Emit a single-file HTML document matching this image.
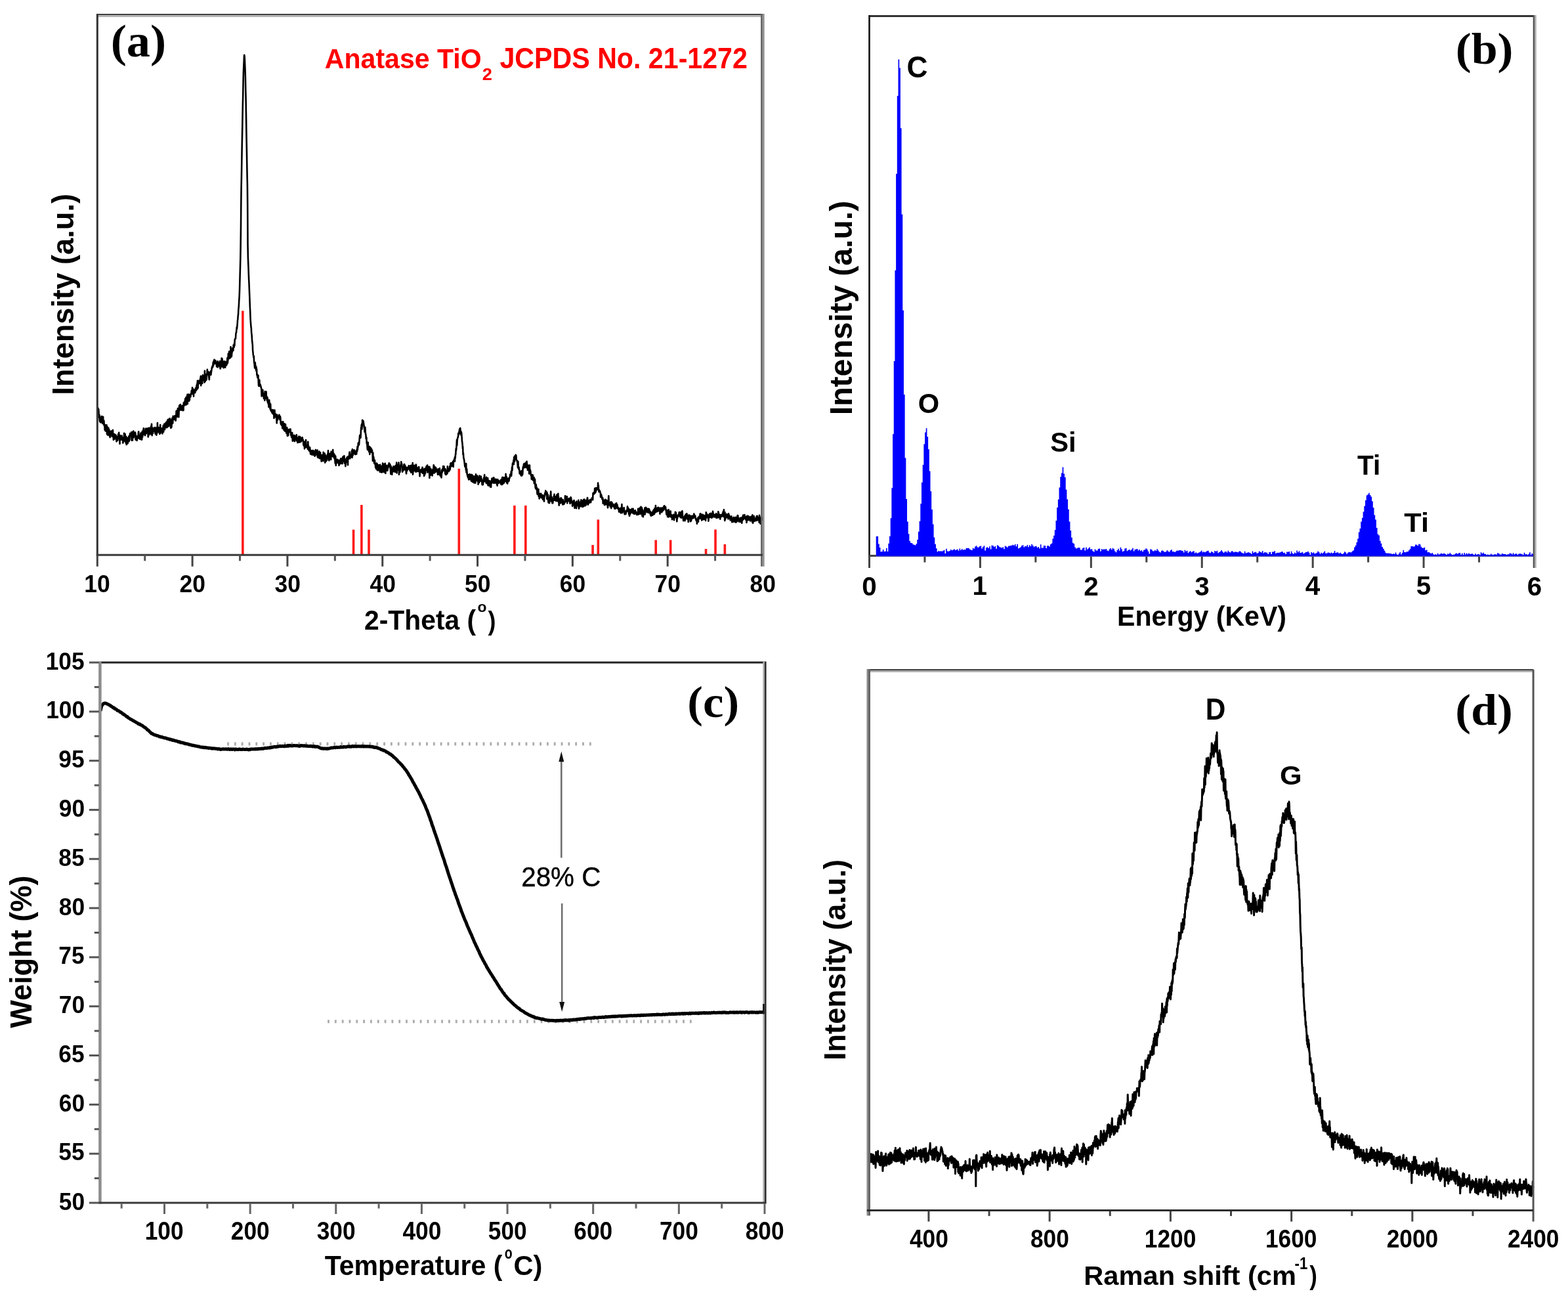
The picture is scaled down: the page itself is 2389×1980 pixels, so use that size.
<!DOCTYPE html>
<html><head><meta charset="utf-8"><title>Figure</title>
<style>html,body{margin:0;padding:0;background:#fff;}svg{display:block;}</style></head>
<body>
<svg width="2389" height="1980" viewBox="0 0 2389 1980">
<rect width="2389" height="1980" fill="#fff"/>
<rect x="368.07" y="473.40" width="3.6" height="371.90" fill="#ff1a1a"/>
<rect x="536.77" y="806.70" width="3.6" height="38.60" fill="#ff1a1a"/>
<rect x="549.08" y="769.00" width="3.6" height="76.30" fill="#ff1a1a"/>
<rect x="560.23" y="806.70" width="3.6" height="38.60" fill="#ff1a1a"/>
<rect x="697.52" y="713.80" width="3.6" height="131.50" fill="#ff1a1a"/>
<rect x="782.09" y="770.00" width="3.6" height="75.30" fill="#ff1a1a"/>
<rect x="799.03" y="770.00" width="3.6" height="75.30" fill="#ff1a1a"/>
<rect x="901.27" y="830.00" width="3.6" height="15.30" fill="#ff1a1a"/>
<rect x="909.53" y="791.40" width="3.6" height="53.90" fill="#ff1a1a"/>
<rect x="997.43" y="822.50" width="3.6" height="22.80" fill="#ff1a1a"/>
<rect x="1019.87" y="822.50" width="3.6" height="22.80" fill="#ff1a1a"/>
<rect x="1073.75" y="836.00" width="3.6" height="9.30" fill="#ff1a1a"/>
<rect x="1088.23" y="806.50" width="3.6" height="38.80" fill="#ff1a1a"/>
<rect x="1102.56" y="829.00" width="3.6" height="16.30" fill="#ff1a1a"/>
<polyline points="148.5,622.7 148.8,624.7 149.2,623.6 149.5,621.9 149.8,624.8 150.2,623.4 150.5,628.8 150.8,635.7 151.1,631.8 151.5,631.9 151.8,640.1 152.1,641.6 152.5,642.6 152.8,639.3 153.1,640.9 153.5,643.5 153.8,636.5 154.1,640.5 154.4,634.6 154.8,636.5 155.1,634.0 155.4,641.0 155.8,636.0 156.1,644.9 156.4,644.9 156.8,644.5 157.1,634.7 157.4,643.0 157.7,644.7 158.1,646.6 158.4,640.7 158.7,648.1 159.1,647.5 159.4,648.9 159.7,655.0 160.1,647.1 160.4,652.6 160.7,656.4 161.0,650.7 161.4,652.2 161.7,652.7 162.0,652.1 162.4,647.3 162.7,653.2 163.0,661.4 163.4,649.7 163.7,658.3 164.0,654.7 164.3,651.9 164.7,663.0 165.0,659.1 165.3,651.9 165.7,657.8 166.0,658.0 166.3,654.3 166.7,659.5 167.0,658.3 167.3,664.0 167.6,666.1 168.0,657.5 168.3,662.0 168.6,659.5 169.0,661.2 169.3,656.5 169.6,658.1 170.0,659.8 170.3,662.2 170.6,664.8 170.9,656.4 171.3,658.2 171.6,664.3 171.9,655.1 172.3,662.5 172.6,664.8 172.9,670.0 173.3,668.4 173.6,663.5 173.9,661.6 174.2,661.1 174.6,668.7 174.9,661.9 175.2,663.3 175.6,665.3 175.9,664.3 176.2,664.8 176.6,662.5 176.9,667.5 177.2,666.6 177.5,672.5 177.9,669.5 178.2,666.1 178.5,669.7 178.9,664.8 179.2,670.8 179.5,665.8 179.9,668.5 180.2,661.3 180.5,667.1 180.8,660.4 181.2,658.8 181.5,666.1 181.8,664.7 182.2,667.8 182.5,676.0 182.8,663.1 183.2,664.1 183.5,667.3 183.8,668.8 184.1,666.2 184.5,666.1 184.8,669.8 185.1,669.3 185.5,663.6 185.8,668.7 186.1,669.7 186.5,666.9 186.8,670.7 187.1,666.7 187.4,674.7 187.8,671.0 188.1,669.7 188.4,666.3 188.8,666.8 189.1,659.8 189.4,662.5 189.8,669.2 190.1,660.6 190.4,672.1 190.7,661.3 191.1,672.2 191.4,667.0 191.7,674.8 192.1,671.7 192.4,665.1 192.7,677.1 193.1,676.8 193.4,669.2 193.7,670.1 194.0,670.4 194.4,667.1 194.7,675.2 195.0,669.8 195.4,672.1 195.7,667.9 196.0,667.3 196.4,664.2 196.7,672.3 197.0,666.1 197.3,670.3 197.7,664.6 198.0,660.4 198.3,662.0 198.7,661.2 199.0,663.4 199.3,663.2 199.7,663.7 200.0,658.4 200.3,659.5 200.6,670.8 201.0,662.4 201.3,661.3 201.6,666.7 202.0,670.7 202.3,657.9 202.6,662.5 203.0,661.7 203.3,656.6 203.6,666.5 203.9,663.2 204.3,662.4 204.6,659.3 204.9,664.2 205.3,659.6 205.6,661.3 205.9,658.5 206.3,660.3 206.6,669.8 206.9,662.9 207.2,665.8 207.6,665.4 207.9,664.8 208.2,665.3 208.6,670.9 208.9,665.6 209.2,664.5 209.6,664.2 209.9,667.9 210.2,666.1 210.5,663.6 210.9,659.0 211.2,657.2 211.5,665.3 211.9,665.4 212.2,662.7 212.5,667.7 212.9,668.6 213.2,667.3 213.5,667.2 213.8,662.5 214.2,669.0 214.5,659.6 214.8,667.3 215.2,665.3 215.5,665.1 215.8,669.8 216.2,669.5 216.5,660.4 216.8,657.1 217.1,665.7 217.5,656.2 217.8,660.7 218.1,662.6 218.5,654.2 218.8,652.3 219.1,661.8 219.5,659.2 219.8,658.4 220.1,660.0 220.4,658.5 220.8,656.6 221.1,663.1 221.4,658.5 221.8,652.9 222.1,660.5 222.4,658.1 222.8,660.2 223.1,655.3 223.4,654.6 223.7,652.6 224.1,653.8 224.4,657.5 224.7,654.4 225.1,659.3 225.4,659.5 225.7,665.4 226.1,652.1 226.4,663.1 226.7,658.0 227.0,656.8 227.4,651.9 227.7,656.3 228.0,661.0 228.4,657.9 228.7,659.7 229.0,657.2 229.4,661.3 229.7,658.0 230.0,649.3 230.3,655.0 230.7,650.7 231.0,645.7 231.3,656.8 231.7,663.2 232.0,657.5 232.3,651.9 232.7,651.9 233.0,660.0 233.3,655.6 233.6,653.3 234.0,653.0 234.3,653.5 234.6,655.0 235.0,656.1 235.3,655.3 235.6,651.0 236.0,657.8 236.3,653.5 236.6,660.8 236.9,652.9 237.3,656.0 237.6,657.7 237.9,651.6 238.3,662.7 238.6,661.5 238.9,653.2 239.3,659.9 239.6,657.9 239.9,644.0 240.2,656.7 240.6,655.5 240.9,654.2 241.2,650.7 241.6,653.9 241.9,654.2 242.2,658.4 242.6,656.5 242.9,655.3 243.2,661.0 243.5,651.6 243.9,653.0 244.2,647.0 244.5,659.9 244.9,657.1 245.2,655.1 245.5,654.4 245.9,653.5 246.2,653.2 246.5,652.4 246.8,652.4 247.2,654.1 247.5,660.5 247.8,656.5 248.2,654.4 248.5,651.0 248.8,648.0 249.2,657.7 249.5,652.2 249.8,650.9 250.1,648.2 250.5,645.5 250.8,649.4 251.1,654.1 251.5,648.0 251.8,649.8 252.1,648.9 252.5,650.8 252.8,643.5 253.1,649.4 253.4,644.1 253.8,651.2 254.1,642.3 254.4,649.2 254.8,650.7 255.1,642.5 255.4,639.6 255.8,643.9 256.1,641.1 256.4,638.7 256.7,643.5 257.1,649.3 257.4,638.7 257.7,640.9 258.1,638.0 258.4,645.4 258.7,637.2 259.1,638.6 259.4,647.5 259.7,639.3 260.0,649.9 260.4,652.0 260.7,646.4 261.0,646.9 261.4,650.7 261.7,643.4 262.0,640.6 262.4,636.8 262.7,641.6 263.0,645.0 263.3,643.9 263.7,633.9 264.0,634.6 264.3,636.8 264.7,637.4 265.0,635.3 265.3,637.6 265.7,638.9 266.0,635.7 266.3,633.3 266.6,636.5 267.0,635.9 267.3,636.8 267.6,640.8 268.0,636.9 268.3,633.8 268.6,626.0 269.0,634.3 269.3,625.6 269.6,626.0 269.9,634.3 270.3,634.6 270.6,630.8 270.9,622.1 271.3,628.5 271.6,625.5 271.9,629.0 272.3,635.2 272.6,626.9 272.9,621.1 273.2,617.5 273.6,622.8 273.9,622.2 274.2,616.7 274.6,620.8 274.9,616.1 275.2,624.4 275.6,624.8 275.9,624.8 276.2,618.5 276.5,622.6 276.9,620.3 277.2,619.5 277.5,620.3 277.9,617.8 278.2,618.0 278.5,625.3 278.9,620.3 279.2,622.3 279.5,625.0 279.8,613.5 280.2,614.7 280.5,616.1 280.8,615.4 281.2,611.5 281.5,617.3 281.8,613.0 282.2,607.2 282.5,607.1 282.8,613.9 283.1,613.7 283.5,605.0 283.8,616.5 284.1,610.9 284.5,612.0 284.8,604.5 285.1,604.0 285.5,600.9 285.8,615.2 286.1,604.2 286.4,610.9 286.8,602.6 287.1,606.7 287.4,600.5 287.8,606.8 288.1,610.6 288.4,601.5 288.8,609.5 289.1,605.7 289.4,601.2 289.7,604.1 290.1,603.9 290.4,604.3 290.7,600.0 291.1,599.2 291.4,600.5 291.7,595.5 292.1,594.6 292.4,598.8 292.7,600.0 293.0,590.3 293.4,595.3 293.7,594.8 294.0,592.0 294.4,598.8 294.7,596.4 295.0,603.6 295.4,594.3 295.7,598.8 296.0,595.4 296.3,593.7 296.7,598.1 297.0,595.2 297.3,598.2 297.7,594.6 298.0,591.0 298.3,592.6 298.7,592.1 299.0,594.7 299.3,587.9 299.6,590.9 300.0,585.3 300.3,592.9 300.6,583.8 301.0,579.7 301.3,587.3 301.6,591.3 302.0,582.1 302.3,582.9 302.6,583.4 302.9,580.0 303.3,584.3 303.6,579.9 303.9,579.8 304.3,584.0 304.6,578.7 304.9,582.1 305.3,576.3 305.6,574.7 305.9,572.7 306.2,587.3 306.6,578.2 306.9,579.9 307.2,577.8 307.6,577.4 307.9,576.9 308.2,583.9 308.6,572.5 308.9,571.2 309.2,573.5 309.5,572.2 309.9,578.5 310.2,578.8 310.5,573.8 310.9,572.4 311.2,575.6 311.5,582.4 311.9,564.9 312.2,577.3 312.5,571.3 312.8,580.7 313.2,573.2 313.5,575.2 313.8,570.2 314.2,570.7 314.5,578.7 314.8,575.5 315.2,571.6 315.5,567.8 315.8,562.9 316.1,569.9 316.5,570.4 316.8,568.9 317.1,569.1 317.5,566.2 317.8,570.5 318.1,570.0 318.5,576.4 318.8,578.2 319.1,570.8 319.4,568.4 319.8,571.1 320.1,568.3 320.4,566.6 320.8,569.2 321.1,565.1 321.4,570.9 321.8,566.9 322.1,565.6 322.4,563.2 322.7,560.8 323.1,558.7 323.4,560.1 323.7,557.5 324.1,559.3 324.4,556.7 324.7,552.2 325.1,556.8 325.4,550.4 325.7,552.4 326.0,553.7 326.4,547.8 326.7,554.2 327.0,553.9 327.4,552.2 327.7,550.6 328.0,551.1 328.4,549.1 328.7,552.2 329.0,551.0 329.3,554.0 329.7,551.7 330.0,558.2 330.3,557.9 330.7,556.2 331.0,555.2 331.3,559.1 331.7,550.4 332.0,559.2 332.3,555.8 332.6,555.8 333.0,555.2 333.3,552.6 333.6,554.4 334.0,557.2 334.3,556.0 334.6,556.0 335.0,550.1 335.3,559.4 335.6,561.5 335.9,561.3 336.3,555.9 336.6,550.3 336.9,558.9 337.3,555.4 337.6,545.5 337.9,554.3 338.3,546.1 338.6,546.8 338.9,549.8 339.2,558.4 339.6,550.8 339.9,554.5 340.2,559.1 340.6,560.2 340.9,554.9 341.2,553.9 341.6,550.2 341.9,552.4 342.2,555.7 342.5,557.3 342.9,554.7 343.2,559.6 343.5,550.8 343.9,551.9 344.2,555.6 344.5,554.7 344.9,556.5 345.2,556.1 345.5,552.4 345.8,554.5 346.2,547.5 346.5,544.8 346.8,553.1 347.2,549.7 347.5,547.9 347.8,538.5 348.2,541.5 348.5,541.6 348.8,540.8 349.1,535.2 349.5,542.4 349.8,546.0 350.1,543.3 350.5,539.6 350.8,542.1 351.1,544.8 351.5,528.3 351.8,536.7 352.1,539.4 352.4,539.1 352.8,543.2 353.1,539.9 353.4,536.9 353.8,534.8 354.1,535.7 354.4,530.0 354.8,529.9 355.1,532.3 355.4,533.7 355.7,525.5 356.1,525.3 356.4,525.7 356.7,528.8 357.1,522.6 357.4,526.2 357.7,517.4 358.1,516.7 358.4,515.6 358.7,516.3 359.0,515.3 359.4,507.9 359.7,506.5 360.0,506.6 360.4,502.3 360.7,498.6 361.0,500.8 361.4,496.3 361.7,493.2 362.0,487.9 362.3,486.2 362.7,480.7 363.0,478.7 363.3,472.0 363.7,467.8 364.0,463.4 364.3,456.8 364.7,451.1 365.0,442.9 365.3,432.2 365.6,420.4 366.0,406.1 366.3,394.8 366.6,377.0 367.0,346.0 367.3,311.6 367.6,287.1 368.0,266.7 368.3,246.9 368.6,228.8 368.9,212.1 369.3,192.3 369.6,174.1 369.9,158.7 370.3,141.7 370.6,124.3 370.9,110.9 371.3,101.4 371.6,94.5 371.9,86.4 372.2,83.8 372.6,85.4 372.9,90.8 373.2,98.6 373.6,108.7 373.9,118.8 374.2,134.5 374.6,150.7 374.9,169.8 375.2,188.0 375.5,207.6 375.9,228.1 376.2,245.8 376.5,263.0 376.9,280.9 377.2,312.0 377.5,372.3 377.9,392.9 378.2,400.7 378.5,407.1 378.8,416.8 379.2,426.4 379.5,432.2 379.8,440.0 380.2,449.5 380.5,457.8 380.8,466.8 381.2,474.2 381.5,483.7 381.8,489.3 382.1,493.1 382.5,498.3 382.8,499.1 383.1,506.7 383.5,509.1 383.8,513.9 384.1,519.2 384.5,522.5 384.8,524.9 385.1,533.4 385.4,535.9 385.8,540.4 386.1,541.8 386.4,544.5 386.8,542.2 387.1,552.3 387.4,552.4 387.8,556.7 388.1,560.4 388.4,555.2 388.7,552.1 389.1,556.3 389.4,557.0 389.7,561.3 390.1,563.9 390.4,558.9 390.7,565.8 391.1,562.3 391.4,571.1 391.7,570.0 392.0,572.2 392.4,575.3 392.7,574.9 393.0,574.3 393.4,571.6 393.7,580.1 394.0,587.0 394.4,588.0 394.7,586.5 395.0,583.1 395.3,578.7 395.7,588.0 396.0,585.7 396.3,585.9 396.7,585.7 397.0,588.3 397.3,587.8 397.7,590.3 398.0,590.1 398.3,593.3 398.6,603.4 399.0,594.8 399.3,595.5 399.6,597.4 400.0,598.3 400.3,593.8 400.6,599.2 401.0,603.1 401.3,601.8 401.6,601.3 401.9,606.9 402.3,599.5 402.6,604.5 402.9,602.4 403.3,609.9 403.6,596.2 403.9,599.2 404.3,599.1 404.6,602.7 404.9,602.6 405.2,607.0 405.6,596.6 405.9,606.2 406.2,603.4 406.6,604.4 406.9,610.2 407.2,607.5 407.6,605.6 407.9,613.2 408.2,609.4 408.5,612.2 408.9,615.7 409.2,615.2 409.5,619.9 409.9,614.4 410.2,609.3 410.5,613.1 410.9,614.2 411.2,614.1 411.5,622.6 411.8,619.7 412.2,615.6 412.5,625.5 412.8,623.4 413.2,625.4 413.5,625.7 413.8,627.1 414.2,624.4 414.5,628.7 414.8,628.1 415.1,628.9 415.5,630.2 415.8,624.2 416.1,629.3 416.5,627.8 416.8,630.0 417.1,627.1 417.5,636.9 417.8,631.9 418.1,627.0 418.4,624.6 418.8,631.0 419.1,633.0 419.4,631.9 419.8,634.1 420.1,630.9 420.4,635.6 420.8,632.3 421.1,635.7 421.4,640.0 421.7,644.5 422.1,631.6 422.4,632.7 422.7,633.8 423.1,639.4 423.4,634.2 423.7,634.5 424.1,636.3 424.4,634.2 424.7,634.8 425.0,635.9 425.4,631.8 425.7,632.9 426.0,636.8 426.4,639.4 426.7,638.5 427.0,634.4 427.4,637.9 427.7,644.5 428.0,646.4 428.3,643.9 428.7,642.2 429.0,647.6 429.3,643.2 429.7,643.0 430.0,643.0 430.3,652.4 430.7,646.5 431.0,648.6 431.3,642.3 431.6,649.4 432.0,645.1 432.3,647.0 432.6,655.3 433.0,651.6 433.3,645.4 433.6,648.2 434.0,652.2 434.3,656.8 434.6,649.7 434.9,646.2 435.3,650.9 435.6,652.8 435.9,653.5 436.3,659.7 436.6,656.9 436.9,657.1 437.3,651.4 437.6,658.6 437.9,663.9 438.2,660.7 438.6,659.1 438.9,656.7 439.2,663.1 439.6,654.3 439.9,657.1 440.2,657.7 440.6,658.2 440.9,654.1 441.2,655.7 441.5,653.9 441.9,657.5 442.2,657.4 442.5,653.6 442.9,658.4 443.2,662.9 443.5,658.9 443.9,661.8 444.2,666.0 444.5,659.6 444.8,663.5 445.2,659.0 445.5,666.5 445.8,671.6 446.2,671.5 446.5,663.0 446.8,666.4 447.2,664.9 447.5,665.5 447.8,671.2 448.1,662.7 448.5,670.9 448.8,666.3 449.1,672.1 449.5,667.8 449.8,664.0 450.1,666.2 450.5,669.0 450.8,667.8 451.1,668.8 451.4,666.5 451.8,662.2 452.1,671.4 452.4,671.1 452.8,669.5 453.1,670.5 453.4,674.2 453.8,669.2 454.1,666.8 454.4,669.6 454.7,673.5 455.1,664.7 455.4,673.6 455.7,666.9 456.1,665.3 456.4,673.4 456.7,667.9 457.1,665.0 457.4,667.3 457.7,672.3 458.0,673.1 458.4,667.8 458.7,671.3 459.0,672.2 459.4,667.4 459.7,671.4 460.0,668.7 460.4,666.2 460.7,666.4 461.0,669.9 461.3,670.2 461.7,669.6 462.0,671.6 462.3,677.6 462.7,674.6 463.0,677.6 463.3,679.4 463.7,677.4 464.0,683.4 464.3,672.8 464.6,678.1 465.0,673.5 465.3,681.5 465.6,681.4 466.0,670.1 466.3,674.7 466.6,680.7 467.0,680.5 467.3,680.9 467.6,678.8 467.9,680.9 468.3,681.2 468.6,680.6 468.9,684.0 469.3,672.7 469.6,683.6 469.9,678.2 470.3,685.2 470.6,682.4 470.9,681.4 471.2,686.9 471.6,681.6 471.9,682.5 472.2,681.5 472.6,686.9 472.9,689.6 473.2,691.7 473.6,687.4 473.9,691.4 474.2,688.1 474.5,686.2 474.9,689.5 475.2,692.5 475.5,689.0 475.9,689.7 476.2,689.5 476.5,690.1 476.9,686.0 477.2,692.9 477.5,689.2 477.8,692.2 478.2,687.3 478.5,689.1 478.8,689.9 479.2,687.3 479.5,694.7 479.8,689.5 480.2,693.9 480.5,692.3 480.8,685.1 481.1,686.1 481.5,692.0 481.8,691.1 482.1,692.1 482.5,692.1 482.8,686.6 483.1,692.8 483.5,685.6 483.8,696.3 484.1,693.7 484.4,693.0 484.8,694.7 485.1,697.3 485.4,690.6 485.8,689.7 486.1,691.5 486.4,687.5 486.8,691.3 487.1,698.2 487.4,689.9 487.7,696.7 488.1,689.2 488.4,695.8 488.7,695.0 489.1,696.8 489.4,698.8 489.7,702.7 490.1,698.1 490.4,696.8 490.7,693.1 491.0,698.9 491.4,695.7 491.7,699.1 492.0,695.0 492.4,702.3 492.7,688.7 493.0,694.7 493.4,698.9 493.7,694.2 494.0,691.7 494.3,693.1 494.7,690.5 495.0,696.1 495.3,704.7 495.7,701.2 496.0,693.3 496.3,695.2 496.7,696.3 497.0,702.3 497.3,696.0 497.6,695.8 498.0,701.2 498.3,700.1 498.6,695.5 499.0,692.8 499.3,691.2 499.6,692.5 500.0,686.3 500.3,697.1 500.6,692.6 500.9,696.3 501.3,701.5 501.6,698.9 501.9,691.1 502.3,697.6 502.6,699.7 502.9,693.2 503.3,692.0 503.6,694.3 503.9,690.1 504.2,700.0 504.6,687.8 504.9,690.3 505.2,691.2 505.6,690.7 505.9,691.7 506.2,693.1 506.6,691.3 506.9,695.3 507.2,685.1 507.5,691.5 507.9,689.8 508.2,693.3 508.5,696.3 508.9,691.2 509.2,692.2 509.5,698.5 509.9,697.6 510.2,693.2 510.5,703.1 510.8,705.8 511.2,694.8 511.5,699.0 511.8,709.0 512.2,703.7 512.5,701.8 512.8,701.2 513.2,700.7 513.5,701.1 513.8,699.8 514.1,704.9 514.5,702.4 514.8,702.1 515.1,701.3 515.5,703.9 515.8,700.9 516.1,703.4 516.5,708.9 516.8,706.5 517.1,707.0 517.4,705.5 517.8,704.1 518.1,700.7 518.4,701.3 518.8,704.0 519.1,698.5 519.4,706.1 519.8,701.3 520.1,698.3 520.4,699.7 520.7,699.9 521.1,704.3 521.4,700.6 521.7,706.2 522.1,700.0 522.4,695.7 522.7,701.9 523.1,695.3 523.4,701.0 523.7,702.7 524.0,700.2 524.4,694.4 524.7,697.8 525.0,705.7 525.4,700.6 525.7,699.3 526.0,704.0 526.4,710.2 526.7,707.8 527.0,702.8 527.3,702.4 527.7,703.8 528.0,699.2 528.3,697.4 528.7,700.1 529.0,696.4 529.3,699.8 529.7,700.0 530.0,708.3 530.3,695.4 530.6,696.4 531.0,695.0 531.3,695.7 531.6,698.6 532.0,694.1 532.3,690.6 532.6,688.5 533.0,691.8 533.3,698.3 533.6,697.4 533.9,693.9 534.3,696.3 534.6,695.9 534.9,696.0 535.3,694.0 535.6,693.3 535.9,686.5 536.3,688.3 536.6,696.9 536.9,684.4 537.2,691.8 537.6,693.7 537.9,691.1 538.2,688.1 538.6,691.1 538.9,690.9 539.2,691.0 539.6,685.4 539.9,690.6 540.2,687.1 540.5,689.0 540.9,691.6 541.2,692.2 541.5,691.7 541.9,687.4 542.2,691.8 542.5,690.7 542.9,690.5 543.2,691.6 543.5,685.5 543.8,684.2 544.2,687.5 544.5,680.2 544.8,685.0 545.2,681.2 545.5,680.5 545.8,674.6 546.2,674.4 546.5,675.5 546.8,677.8 547.1,677.0 547.5,670.9 547.8,668.0 548.1,663.4 548.5,665.5 548.8,662.2 549.1,664.2 549.5,666.6 549.8,658.3 550.1,651.4 550.4,651.2 550.8,647.1 551.1,646.2 551.4,653.6 551.8,647.5 552.1,639.7 552.4,645.6 552.8,647.1 553.1,640.9 553.4,640.9 553.7,642.3 554.1,645.1 554.4,647.2 554.7,650.2 555.1,652.5 555.4,654.7 555.7,658.0 556.1,657.3 556.4,650.7 556.7,657.7 557.0,661.3 557.4,661.5 557.7,668.2 558.0,665.9 558.4,666.1 558.7,675.5 559.0,675.3 559.4,677.8 559.7,682.9 560.0,685.1 560.3,682.9 560.7,673.9 561.0,681.2 561.3,682.1 561.7,681.4 562.0,685.7 562.3,688.4 562.7,682.0 563.0,680.0 563.3,692.0 563.6,685.0 564.0,681.2 564.3,686.0 564.6,685.8 565.0,682.3 565.3,688.4 565.6,685.1 566.0,683.7 566.3,687.4 566.6,689.4 566.9,685.7 567.3,689.5 567.6,689.5 567.9,701.9 568.3,689.6 568.6,698.2 568.9,695.7 569.3,696.0 569.6,700.3 569.9,702.4 570.2,705.5 570.6,704.2 570.9,700.9 571.2,703.5 571.6,707.7 571.9,707.9 572.2,711.8 572.6,709.2 572.9,712.8 573.2,714.3 573.5,710.2 573.9,705.5 574.2,705.9 574.5,706.3 574.9,716.2 575.2,707.7 575.5,715.4 575.9,712.0 576.2,716.4 576.5,712.9 576.8,708.4 577.2,708.7 577.5,708.4 577.8,710.2 578.2,709.0 578.5,711.3 578.8,718.7 579.2,707.7 579.5,716.2 579.8,712.7 580.1,716.0 580.5,719.1 580.8,715.9 581.1,718.3 581.5,710.0 581.8,719.4 582.1,713.0 582.5,716.3 582.8,714.3 583.1,705.5 583.4,710.2 583.8,713.9 584.1,718.6 584.4,713.2 584.8,712.5 585.1,707.0 585.4,716.7 585.8,719.2 586.1,713.3 586.4,711.6 586.7,705.7 587.1,714.1 587.4,721.0 587.7,715.2 588.1,717.0 588.4,714.9 588.7,708.9 589.1,716.7 589.4,709.7 589.7,713.8 590.0,714.7 590.4,716.7 590.7,713.5 591.0,713.3 591.4,709.4 591.7,708.1 592.0,711.3 592.4,707.9 592.7,705.4 593.0,707.0 593.3,710.2 593.7,707.0 594.0,708.5 594.3,707.0 594.7,713.5 595.0,715.7 595.3,722.0 595.7,710.0 596.0,712.9 596.3,718.5 596.6,714.1 597.0,714.3 597.3,722.7 597.6,715.1 598.0,712.9 598.3,713.4 598.6,718.4 599.0,717.3 599.3,710.4 599.6,712.1 599.9,718.1 600.3,718.2 600.6,714.9 600.9,718.3 601.3,717.6 601.6,710.2 601.9,714.6 602.3,718.9 602.6,714.6 602.9,708.8 603.2,713.7 603.6,716.0 603.9,717.3 604.2,704.6 604.6,720.4 604.9,707.7 605.2,712.9 605.6,713.7 605.9,712.5 606.2,709.8 606.5,707.8 606.9,715.7 607.2,711.0 607.5,704.5 607.9,722.8 608.2,715.1 608.5,720.0 608.9,711.5 609.2,719.4 609.5,718.0 609.8,717.0 610.2,710.1 610.5,707.7 610.8,710.1 611.2,703.4 611.5,704.3 611.8,710.0 612.2,706.5 612.5,710.0 612.8,710.8 613.1,718.8 613.5,716.3 613.8,713.4 614.1,717.1 614.5,710.9 614.8,712.2 615.1,715.4 615.5,707.5 615.8,710.3 616.1,707.0 616.4,712.6 616.8,715.4 617.1,708.7 617.4,713.1 617.8,710.6 618.1,711.6 618.4,711.4 618.8,719.6 619.1,721.5 619.4,714.9 619.7,713.2 620.1,717.5 620.4,712.5 620.7,715.8 621.1,711.9 621.4,711.6 621.7,714.8 622.1,713.2 622.4,713.2 622.7,709.4 623.0,713.9 623.4,710.2 623.7,712.8 624.0,712.0 624.4,715.5 624.7,717.2 625.0,709.7 625.4,712.0 625.7,709.1 626.0,716.1 626.3,719.6 626.7,718.3 627.0,712.1 627.3,719.1 627.7,708.3 628.0,717.7 628.3,710.5 628.7,705.1 629.0,722.7 629.3,719.5 629.6,712.2 630.0,717.6 630.3,715.3 630.6,715.4 631.0,708.9 631.3,711.0 631.6,715.3 632.0,714.0 632.3,716.7 632.6,712.1 632.9,718.4 633.3,708.6 633.6,712.5 633.9,707.6 634.3,709.9 634.6,718.4 634.9,712.1 635.3,717.3 635.6,715.6 635.9,712.8 636.2,714.0 636.6,713.5 636.9,713.2 637.2,718.0 637.6,716.7 637.9,711.2 638.2,711.1 638.6,715.7 638.9,715.4 639.2,719.4 639.5,725.3 639.9,719.7 640.2,717.2 640.5,717.4 640.9,717.0 641.2,716.3 641.5,715.2 641.9,716.2 642.2,716.8 642.5,719.4 642.8,715.2 643.2,715.7 643.5,711.8 643.8,720.8 644.2,716.3 644.5,719.9 644.8,718.1 645.2,720.0 645.5,715.2 645.8,718.8 646.1,725.0 646.5,713.9 646.8,720.7 647.1,723.3 647.5,718.8 647.8,718.7 648.1,720.8 648.5,713.8 648.8,716.7 649.1,713.1 649.4,710.8 649.8,710.2 650.1,710.4 650.4,713.0 650.8,714.8 651.1,708.6 651.4,719.5 651.8,717.6 652.1,715.4 652.4,713.6 652.7,713.9 653.1,718.1 653.4,717.0 653.7,710.8 654.1,720.1 654.4,728.0 654.7,711.3 655.1,721.7 655.4,719.7 655.7,719.3 656.0,723.6 656.4,714.4 656.7,719.0 657.0,723.2 657.4,717.8 657.7,718.5 658.0,718.7 658.4,716.4 658.7,724.5 659.0,715.9 659.3,721.2 659.7,714.5 660.0,720.7 660.3,717.3 660.7,708.3 661.0,717.3 661.3,713.0 661.7,713.8 662.0,720.4 662.3,711.9 662.6,710.9 663.0,718.2 663.3,714.7 663.6,718.9 664.0,716.0 664.3,712.6 664.6,714.6 665.0,718.3 665.3,718.0 665.6,716.1 665.9,717.6 666.3,716.5 666.6,715.7 666.9,722.8 667.3,717.3 667.6,714.2 667.9,717.8 668.3,722.4 668.6,720.9 668.9,718.0 669.2,715.9 669.6,717.5 669.9,713.4 670.2,716.7 670.6,724.5 670.9,719.8 671.2,721.5 671.6,725.3 671.9,722.0 672.2,720.1 672.5,727.4 672.9,721.0 673.2,715.9 673.5,719.8 673.9,718.3 674.2,714.4 674.5,715.8 674.9,715.2 675.2,710.1 675.5,716.2 675.8,716.9 676.2,715.5 676.5,710.4 676.8,715.3 677.2,715.8 677.5,717.1 677.8,714.9 678.2,721.3 678.5,714.4 678.8,717.1 679.1,722.9 679.5,717.7 679.8,717.0 680.1,722.8 680.5,717.9 680.8,717.9 681.1,718.0 681.5,721.3 681.8,710.3 682.1,715.3 682.4,713.6 682.8,714.0 683.1,714.6 683.4,715.0 683.8,718.1 684.1,713.7 684.4,716.5 684.8,716.4 685.1,710.3 685.4,711.6 685.7,715.5 686.1,710.6 686.4,705.7 686.7,707.1 687.1,705.2 687.4,708.5 687.7,710.2 688.1,705.3 688.4,706.4 688.7,710.0 689.0,705.2 689.4,708.0 689.7,703.7 690.0,703.1 690.4,702.7 690.7,711.0 691.0,701.6 691.4,701.2 691.7,700.9 692.0,699.7 692.3,700.1 692.7,697.4 693.0,702.6 693.3,695.5 693.7,697.8 694.0,691.9 694.3,692.3 694.7,683.5 695.0,686.2 695.3,683.3 695.6,678.6 696.0,669.8 696.3,678.1 696.6,671.4 697.0,668.6 697.3,667.1 697.6,665.8 698.0,665.6 698.3,659.9 698.6,659.9 698.9,662.3 699.3,659.9 699.6,657.0 699.9,655.5 700.3,653.2 700.6,654.6 700.9,658.3 701.3,652.1 701.6,660.2 701.9,659.4 702.2,656.7 702.6,662.9 702.9,658.4 703.2,660.2 703.6,665.7 703.9,671.2 704.2,673.2 704.6,676.7 704.9,682.9 705.2,680.3 705.5,692.3 705.9,689.7 706.2,695.1 706.5,698.3 706.9,698.7 707.2,701.3 707.5,702.9 707.9,706.9 708.2,709.7 708.5,711.0 708.8,707.3 709.2,709.2 709.5,709.8 709.8,715.7 710.2,706.1 710.5,719.5 710.8,713.9 711.2,714.4 711.5,719.4 711.8,723.2 712.1,722.4 712.5,726.0 712.8,723.0 713.1,727.5 713.5,727.7 713.8,724.7 714.1,730.5 714.5,725.4 714.8,724.7 715.1,722.4 715.4,723.4 715.8,727.1 716.1,722.9 716.4,730.1 716.8,728.5 717.1,728.3 717.4,722.9 717.8,730.6 718.1,732.9 718.4,729.7 718.7,732.3 719.1,723.0 719.4,732.4 719.7,728.9 720.1,734.2 720.4,724.6 720.7,730.6 721.1,727.3 721.4,730.7 721.7,726.1 722.0,727.5 722.4,735.5 722.7,726.8 723.0,725.5 723.4,727.6 723.7,726.7 724.0,733.1 724.4,735.6 724.7,726.1 725.0,722.3 725.3,732.3 725.7,730.9 726.0,730.9 726.3,731.5 726.7,725.0 727.0,729.5 727.3,724.6 727.7,726.1 728.0,733.5 728.3,727.6 728.6,737.6 729.0,730.5 729.3,728.4 729.6,732.8 730.0,735.1 730.3,730.0 730.6,724.5 731.0,730.1 731.3,733.3 731.6,727.1 731.9,725.5 732.3,730.7 732.6,729.6 732.9,725.8 733.3,730.0 733.6,729.1 733.9,733.3 734.3,733.8 734.6,737.9 734.9,738.5 735.2,731.8 735.6,737.0 735.9,738.1 736.2,733.7 736.6,734.6 736.9,729.1 737.2,727.8 737.6,732.6 737.9,725.5 738.2,723.1 738.5,732.8 738.9,728.3 739.2,733.1 739.5,730.9 739.9,730.5 740.2,731.7 740.5,734.5 740.9,735.8 741.2,726.7 741.5,736.3 741.8,730.0 742.2,729.8 742.5,735.8 742.8,734.5 743.2,728.4 743.5,739.1 743.8,731.4 744.2,734.6 744.5,736.7 744.8,739.7 745.1,733.0 745.5,737.6 745.8,732.2 746.1,738.6 746.5,732.7 746.8,733.7 747.1,741.6 747.5,735.3 747.8,734.6 748.1,742.0 748.4,735.9 748.8,732.3 749.1,735.2 749.4,728.8 749.8,735.3 750.1,734.8 750.4,728.9 750.8,729.6 751.1,732.2 751.4,731.1 751.7,727.6 752.1,735.6 752.4,727.6 752.7,733.4 753.1,734.6 753.4,735.2 753.7,735.1 754.1,730.1 754.4,735.6 754.7,733.2 755.0,731.3 755.4,729.7 755.7,730.0 756.0,734.3 756.4,730.3 756.7,734.9 757.0,737.9 757.4,738.2 757.7,739.7 758.0,733.0 758.3,730.2 758.7,736.3 759.0,732.7 759.3,735.8 759.7,732.1 760.0,735.6 760.3,734.2 760.7,734.1 761.0,733.7 761.3,733.4 761.6,733.0 762.0,734.3 762.3,735.4 762.6,731.5 763.0,737.3 763.3,730.9 763.6,734.9 764.0,731.5 764.3,730.5 764.6,738.3 764.9,729.7 765.3,727.2 765.6,726.8 765.9,729.0 766.3,736.9 766.6,730.5 766.9,733.4 767.3,727.3 767.6,732.2 767.9,733.5 768.2,735.5 768.6,727.7 768.9,732.9 769.2,732.3 769.6,727.4 769.9,729.4 770.2,728.5 770.6,721.9 770.9,731.2 771.2,733.5 771.5,731.8 771.9,726.4 772.2,735.5 772.5,731.8 772.9,734.1 773.2,736.7 773.5,729.4 773.9,733.9 774.2,729.0 774.5,728.7 774.8,730.0 775.2,728.7 775.5,732.6 775.8,729.7 776.2,727.2 776.5,726.7 776.8,727.5 777.2,722.7 777.5,724.2 777.8,724.4 778.1,722.7 778.5,721.6 778.8,718.1 779.1,724.8 779.5,720.0 779.8,714.9 780.1,711.2 780.5,716.2 780.8,708.3 781.1,705.3 781.4,706.7 781.8,705.5 782.1,706.3 782.4,701.1 782.8,707.1 783.1,696.8 783.4,700.6 783.8,695.2 784.1,702.9 784.4,694.5 784.7,694.4 785.1,698.2 785.4,699.5 785.7,692.7 786.1,696.6 786.4,693.9 786.7,699.9 787.1,700.8 787.4,701.0 787.7,701.5 788.0,703.7 788.4,703.8 788.7,708.4 789.0,712.3 789.4,702.8 789.7,710.1 790.0,710.5 790.4,714.7 790.7,712.1 791.0,715.6 791.3,715.2 791.7,721.3 792.0,720.2 792.3,720.6 792.7,722.0 793.0,720.0 793.3,717.8 793.7,724.1 794.0,723.8 794.3,721.3 794.6,723.6 795.0,724.6 795.3,716.9 795.6,717.5 796.0,723.1 796.3,721.2 796.6,713.8 797.0,710.7 797.3,712.3 797.6,712.8 797.9,707.4 798.3,711.0 798.6,706.1 798.9,706.7 799.3,712.2 799.6,707.1 799.9,709.6 800.3,709.1 800.6,708.8 800.9,704.9 801.2,706.2 801.6,704.2 801.9,712.2 802.2,708.4 802.6,702.8 802.9,706.6 803.2,710.0 803.6,710.3 803.9,716.0 804.2,714.2 804.5,708.8 804.9,710.7 805.2,708.8 805.5,713.7 805.9,713.0 806.2,721.4 806.5,714.5 806.9,708.5 807.2,714.8 807.5,718.6 807.8,715.8 808.2,717.0 808.5,719.5 808.8,724.0 809.2,723.5 809.5,722.9 809.8,729.7 810.2,726.1 810.5,725.8 810.8,723.2 811.1,725.8 811.5,730.8 811.8,723.5 812.1,729.7 812.5,731.8 812.8,728.3 813.1,731.0 813.5,727.1 813.8,736.2 814.1,735.5 814.4,734.0 814.8,729.5 815.1,731.1 815.4,738.9 815.8,743.0 816.1,739.5 816.4,744.4 816.8,738.1 817.1,742.1 817.4,744.1 817.7,746.1 818.1,742.8 818.4,751.0 818.7,752.9 819.1,747.1 819.4,746.3 819.7,752.9 820.1,750.5 820.4,745.1 820.7,756.0 821.0,753.8 821.4,752.5 821.7,759.4 822.0,753.7 822.4,752.5 822.7,755.1 823.0,751.8 823.4,752.6 823.7,756.3 824.0,752.9 824.3,751.7 824.7,758.1 825.0,755.2 825.3,755.3 825.7,754.2 826.0,754.2 826.3,757.9 826.7,754.1 827.0,760.8 827.3,755.0 827.6,757.1 828.0,754.7 828.3,756.9 828.6,760.5 829.0,763.6 829.3,756.9 829.6,756.8 830.0,754.7 830.3,751.4 830.6,750.3 830.9,753.1 831.3,747.4 831.6,752.7 831.9,752.3 832.3,750.5 832.6,749.8 832.9,749.5 833.3,760.0 833.6,750.5 833.9,760.2 834.2,758.8 834.6,756.3 834.9,753.5 835.2,762.1 835.6,765.6 835.9,757.5 836.2,759.4 836.6,764.7 836.9,761.5 837.2,766.2 837.5,758.2 837.9,761.2 838.2,754.5 838.5,762.5 838.9,754.0 839.2,748.5 839.5,755.4 839.9,756.8 840.2,763.4 840.5,756.9 840.8,759.0 841.2,761.8 841.5,766.3 841.8,762.4 842.2,766.4 842.5,763.7 842.8,760.1 843.2,759.7 843.5,758.8 843.8,755.6 844.1,761.9 844.5,752.8 844.8,760.9 845.1,761.8 845.5,758.3 845.8,756.4 846.1,758.7 846.5,762.2 846.8,762.5 847.1,759.9 847.4,763.1 847.8,756.3 848.1,757.9 848.4,753.6 848.8,761.0 849.1,759.8 849.4,757.9 849.8,763.4 850.1,762.8 850.4,751.8 850.7,761.5 851.1,757.0 851.4,764.6 851.7,769.7 852.1,760.7 852.4,761.8 852.7,760.0 853.1,761.7 853.4,764.0 853.7,766.4 854.0,759.7 854.4,766.1 854.7,758.4 855.0,762.0 855.4,765.1 855.7,764.4 856.0,760.8 856.4,760.6 856.7,762.3 857.0,764.4 857.3,768.5 857.7,761.4 858.0,766.4 858.3,766.5 858.7,766.2 859.0,764.4 859.3,768.0 859.7,764.1 860.0,764.8 860.3,764.6 860.6,765.8 861.0,755.3 861.3,764.2 861.6,760.0 862.0,760.0 862.3,757.9 862.6,756.1 863.0,759.2 863.3,758.0 863.6,763.4 863.9,756.4 864.3,766.5 864.6,763.1 864.9,761.9 865.3,760.1 865.6,761.1 865.9,761.0 866.3,761.5 866.6,762.7 866.9,763.2 867.2,759.0 867.6,762.4 867.9,760.3 868.2,764.2 868.6,767.0 868.9,762.8 869.2,760.7 869.6,757.3 869.9,758.7 870.2,758.5 870.5,765.4 870.9,761.8 871.2,764.0 871.5,763.6 871.9,766.2 872.2,770.9 872.5,765.5 872.9,765.4 873.2,763.9 873.5,769.2 873.8,763.4 874.2,763.3 874.5,762.0 874.8,763.1 875.2,768.2 875.5,774.0 875.8,765.7 876.2,770.6 876.5,768.7 876.8,765.6 877.1,767.8 877.5,767.7 877.8,765.9 878.1,774.1 878.5,763.6 878.8,768.8 879.1,769.5 879.5,766.7 879.8,768.1 880.1,770.1 880.4,767.0 880.8,768.1 881.1,769.5 881.4,761.9 881.8,773.0 882.1,774.7 882.4,771.9 882.8,771.9 883.1,764.8 883.4,770.4 883.7,767.3 884.1,767.5 884.4,771.2 884.7,765.2 885.1,767.2 885.4,761.4 885.7,766.7 886.1,768.1 886.4,765.5 886.7,765.2 887.0,772.0 887.4,762.7 887.7,762.6 888.0,763.1 888.4,768.8 888.7,771.6 889.0,764.8 889.4,760.7 889.7,762.7 890.0,766.6 890.3,760.6 890.7,769.1 891.0,770.5 891.3,765.5 891.7,766.5 892.0,768.1 892.3,770.0 892.7,762.0 893.0,768.9 893.3,765.3 893.6,761.6 894.0,762.0 894.3,761.2 894.6,760.3 895.0,758.1 895.3,759.5 895.6,766.7 896.0,768.7 896.3,764.2 896.6,766.8 896.9,763.2 897.3,765.7 897.6,766.0 897.9,762.2 898.3,763.1 898.6,765.4 898.9,762.9 899.3,760.7 899.6,764.5 899.9,761.9 900.2,765.1 900.6,761.9 900.9,760.9 901.2,760.8 901.6,760.1 901.9,758.5 902.2,758.1 902.6,760.5 902.9,760.4 903.2,761.3 903.5,751.1 903.9,752.7 904.2,752.6 904.5,752.7 904.9,751.3 905.2,749.8 905.5,752.1 905.9,748.8 906.2,743.8 906.5,750.8 906.8,750.3 907.2,746.4 907.5,749.8 907.8,743.4 908.2,748.0 908.5,744.8 908.8,743.3 909.2,744.0 909.5,743.3 909.8,745.5 910.1,745.1 910.5,745.2 910.8,743.5 911.1,735.6 911.5,745.8 911.8,739.1 912.1,746.1 912.5,749.1 912.8,748.4 913.1,746.3 913.4,747.2 913.8,747.9 914.1,748.2 914.4,749.9 914.8,750.2 915.1,757.2 915.4,754.3 915.8,755.5 916.1,753.3 916.4,755.2 916.7,755.7 917.1,757.5 917.4,760.0 917.7,760.4 918.1,759.1 918.4,758.5 918.7,766.8 919.1,761.9 919.4,761.6 919.7,766.9 920.0,765.4 920.4,764.3 920.7,761.7 921.0,769.1 921.4,764.6 921.7,765.5 922.0,763.0 922.4,760.9 922.7,761.4 923.0,768.5 923.3,767.3 923.7,764.6 924.0,762.7 924.3,762.0 924.7,766.0 925.0,763.0 925.3,768.2 925.7,769.9 926.0,773.3 926.3,768.9 926.6,764.5 927.0,762.1 927.3,755.2 927.6,763.4 928.0,765.1 928.3,769.1 928.6,768.5 929.0,768.5 929.3,766.7 929.6,768.6 929.9,771.8 930.3,765.2 930.6,766.4 930.9,764.2 931.3,774.1 931.6,771.8 931.9,770.5 932.3,765.2 932.6,769.4 932.9,768.8 933.2,768.2 933.6,768.4 933.9,770.6 934.2,767.7 934.6,771.6 934.9,770.7 935.2,769.2 935.6,770.5 935.9,769.5 936.2,774.8 936.5,771.2 936.9,773.3 937.2,770.2 937.5,767.5 937.9,774.7 938.2,768.7 938.5,773.8 938.9,772.6 939.2,766.4 939.5,768.3 939.8,768.5 940.2,769.3 940.5,768.9 940.8,773.9 941.2,773.5 941.5,774.9 941.8,772.9 942.2,775.6 942.5,773.7 942.8,776.9 943.1,779.6 943.5,777.7 943.8,777.3 944.1,775.0 944.5,778.7 944.8,780.0 945.1,776.1 945.5,773.9 945.8,778.0 946.1,781.5 946.4,774.0 946.8,775.4 947.1,775.3 947.4,768.0 947.8,774.6 948.1,774.1 948.4,780.9 948.8,774.6 949.1,774.2 949.4,777.3 949.7,779.0 950.1,777.1 950.4,776.1 950.7,773.4 951.1,776.9 951.4,779.1 951.7,783.3 952.1,781.6 952.4,779.2 952.7,780.5 953.0,779.9 953.4,783.1 953.7,781.5 954.0,777.9 954.4,779.6 954.7,779.6 955.0,777.5 955.4,777.3 955.7,775.4 956.0,771.4 956.3,776.3 956.7,773.2 957.0,778.6 957.3,778.1 957.7,774.5 958.0,782.8 958.3,783.4 958.7,781.5 959.0,785.8 959.3,784.9 959.6,776.2 960.0,783.2 960.3,781.7 960.6,780.5 961.0,781.3 961.3,776.4 961.6,776.5 962.0,776.8 962.3,777.8 962.6,779.9 962.9,774.9 963.3,775.3 963.6,780.8 963.9,779.8 964.3,781.6 964.6,774.9 964.9,776.8 965.3,777.7 965.6,779.4 965.9,777.9 966.2,782.9 966.6,779.6 966.9,779.1 967.2,778.3 967.6,780.7 967.9,777.3 968.2,782.4 968.6,780.2 968.9,779.6 969.2,779.7 969.5,781.5 969.9,782.3 970.2,784.0 970.5,781.6 970.9,784.0 971.2,781.8 971.5,783.6 971.9,781.3 972.2,774.8 972.5,783.6 972.8,780.0 973.2,775.3 973.5,778.0 973.8,775.4 974.2,782.8 974.5,778.9 974.8,773.5 975.2,778.7 975.5,775.7 975.8,782.6 976.1,774.1 976.5,771.9 976.8,779.4 977.1,778.4 977.5,778.7 977.8,773.0 978.1,781.4 978.5,785.8 978.8,775.7 979.1,783.1 979.4,779.0 979.8,787.2 980.1,782.2 980.4,780.9 980.8,784.2 981.1,781.6 981.4,777.9 981.8,781.7 982.1,779.1 982.4,773.5 982.7,783.4 983.1,776.9 983.4,775.7 983.7,778.7 984.1,772.8 984.4,773.5 984.7,775.9 985.1,775.5 985.4,777.0 985.7,780.3 986.0,775.1 986.4,778.3 986.7,778.4 987.0,775.2 987.4,778.8 987.7,774.7 988.0,780.9 988.4,780.0 988.7,778.8 989.0,775.2 989.3,778.7 989.7,777.0 990.0,781.3 990.3,779.6 990.7,779.1 991.0,784.1 991.3,784.1 991.7,780.5 992.0,785.8 992.3,782.0 992.6,781.4 993.0,783.3 993.3,780.4 993.6,780.4 994.0,780.6 994.3,784.8 994.6,784.2 995.0,778.4 995.3,782.3 995.6,777.7 995.9,776.5 996.3,778.0 996.6,776.5 996.9,783.1 997.3,778.0 997.6,774.1 997.9,781.2 998.3,776.9 998.6,776.5 998.9,770.0 999.2,779.6 999.6,779.0 999.9,778.2 1000.2,778.0 1000.6,779.5 1000.9,775.1 1001.2,778.0 1001.6,773.5 1001.9,773.5 1002.2,778.6 1002.5,777.6 1002.9,772.9 1003.2,777.4 1003.5,775.6 1003.9,774.6 1004.2,778.0 1004.5,776.4 1004.9,774.3 1005.2,774.9 1005.5,782.6 1005.8,773.5 1006.2,778.2 1006.5,780.1 1006.8,779.4 1007.2,774.5 1007.5,776.9 1007.8,777.9 1008.2,780.3 1008.5,775.4 1008.8,773.2 1009.1,778.7 1009.5,778.5 1009.8,776.6 1010.1,774.8 1010.5,776.5 1010.8,776.0 1011.1,776.8 1011.5,770.9 1011.8,775.3 1012.1,773.7 1012.4,770.4 1012.8,774.2 1013.1,773.2 1013.4,773.0 1013.8,774.7 1014.1,772.3 1014.4,776.7 1014.8,777.9 1015.1,779.8 1015.4,783.5 1015.7,777.1 1016.1,777.0 1016.4,782.0 1016.7,783.5 1017.1,787.1 1017.4,782.6 1017.7,779.7 1018.1,783.5 1018.4,778.2 1018.7,776.3 1019.0,787.5 1019.4,781.0 1019.7,781.9 1020.0,781.8 1020.4,786.0 1020.7,780.5 1021.0,783.4 1021.4,778.5 1021.7,778.6 1022.0,786.7 1022.3,787.4 1022.7,785.3 1023.0,785.2 1023.3,784.9 1023.7,784.5 1024.0,791.3 1024.3,788.9 1024.7,789.2 1025.0,788.5 1025.3,789.7 1025.6,788.5 1026.0,788.6 1026.3,783.8 1026.6,787.6 1027.0,792.1 1027.3,784.7 1027.6,784.4 1028.0,787.0 1028.3,788.2 1028.6,786.3 1028.9,779.9 1029.3,785.3 1029.6,780.3 1029.9,780.8 1030.3,784.9 1030.6,784.2 1030.9,787.6 1031.3,794.2 1031.6,788.9 1031.9,789.9 1032.2,785.6 1032.6,787.1 1032.9,786.0 1033.2,786.9 1033.6,784.1 1033.9,784.4 1034.2,785.0 1034.6,781.6 1034.9,780.1 1035.2,780.5 1035.5,785.2 1035.9,784.3 1036.2,787.5 1036.5,787.5 1036.9,784.1 1037.2,786.2 1037.5,780.0 1037.9,788.8 1038.2,786.8 1038.5,782.0 1038.8,779.6 1039.2,784.3 1039.5,778.4 1039.8,782.4 1040.2,788.6 1040.5,788.6 1040.8,789.6 1041.2,793.1 1041.5,788.4 1041.8,792.2 1042.1,789.0 1042.5,787.7 1042.8,789.7 1043.1,786.1 1043.5,793.2 1043.8,785.2 1044.1,791.6 1044.5,783.8 1044.8,788.1 1045.1,783.3 1045.4,783.1 1045.8,787.1 1046.1,786.9 1046.4,782.2 1046.8,790.1 1047.1,785.8 1047.4,789.3 1047.8,790.5 1048.1,791.3 1048.4,784.9 1048.7,795.0 1049.1,791.4 1049.4,788.5 1049.7,786.7 1050.1,784.6 1050.4,785.2 1050.7,789.9 1051.1,786.8 1051.4,785.3 1051.7,786.7 1052.0,794.3 1052.4,790.5 1052.7,788.6 1053.0,793.5 1053.4,790.4 1053.7,789.4 1054.0,787.7 1054.4,785.6 1054.7,787.1 1055.0,788.5 1055.3,787.5 1055.7,789.4 1056.0,789.2 1056.3,788.9 1056.7,788.6 1057.0,785.8 1057.3,782.5 1057.7,786.4 1058.0,784.4 1058.3,784.9 1058.6,787.0 1059.0,785.5 1059.3,785.5 1059.6,790.0 1060.0,790.7 1060.3,789.2 1060.6,792.6 1061.0,791.9 1061.3,791.0 1061.6,793.1 1061.9,797.7 1062.3,790.8 1062.6,795.2 1062.9,794.6 1063.3,794.5 1063.6,788.0 1063.9,794.8 1064.3,788.2 1064.6,787.4 1064.9,787.1 1065.2,789.0 1065.6,786.5 1065.9,786.1 1066.2,789.8 1066.6,783.5 1066.9,782.3 1067.2,788.0 1067.6,787.3 1067.9,788.8 1068.2,783.0 1068.5,790.1 1068.9,789.6 1069.2,792.5 1069.5,785.1 1069.9,789.1 1070.2,787.7 1070.5,783.8 1070.9,785.5 1071.2,791.3 1071.5,785.8 1071.8,784.6 1072.2,789.3 1072.5,789.8 1072.8,790.8 1073.2,786.3 1073.5,789.1 1073.8,790.7 1074.2,785.4 1074.5,785.6 1074.8,791.0 1075.1,793.0 1075.5,784.8 1075.8,780.4 1076.1,782.8 1076.5,782.2 1076.8,785.9 1077.1,788.2 1077.5,786.1 1077.8,783.9 1078.1,785.4 1078.4,784.7 1078.8,786.1 1079.1,784.7 1079.4,793.7 1079.8,789.7 1080.1,784.9 1080.4,784.2 1080.8,785.2 1081.1,782.5 1081.4,783.5 1081.7,783.0 1082.1,787.9 1082.4,785.6 1082.7,783.6 1083.1,781.8 1083.4,781.9 1083.7,785.6 1084.1,785.4 1084.4,788.8 1084.7,784.9 1085.0,787.9 1085.4,784.9 1085.7,784.4 1086.0,778.9 1086.4,780.7 1086.7,785.6 1087.0,787.3 1087.4,784.2 1087.7,786.3 1088.0,784.1 1088.3,784.5 1088.7,783.9 1089.0,787.4 1089.3,786.4 1089.7,783.7 1090.0,783.7 1090.3,785.9 1090.7,785.5 1091.0,782.4 1091.3,788.7 1091.6,785.2 1092.0,785.6 1092.3,788.9 1092.6,788.4 1093.0,785.6 1093.3,787.7 1093.6,783.0 1094.0,783.3 1094.3,779.4 1094.6,788.1 1094.9,780.8 1095.3,787.8 1095.6,783.8 1095.9,783.6 1096.3,785.2 1096.6,786.3 1096.9,788.2 1097.3,790.7 1097.6,787.5 1097.9,788.2 1098.2,784.0 1098.6,787.0 1098.9,785.0 1099.2,784.3 1099.6,785.0 1099.9,784.5 1100.2,786.3 1100.6,785.5 1100.9,781.8 1101.2,781.2 1101.5,785.4 1101.9,778.8 1102.2,780.6 1102.5,787.0 1102.9,776.3 1103.2,781.1 1103.5,785.5 1103.9,781.0 1104.2,793.0 1104.5,780.3 1104.8,791.5 1105.2,790.4 1105.5,788.1 1105.8,785.1 1106.2,787.2 1106.5,783.4 1106.8,788.4 1107.2,783.0 1107.5,784.5 1107.8,787.6 1108.1,783.8 1108.5,786.0 1108.8,787.9 1109.1,783.7 1109.5,790.4 1109.8,787.2 1110.1,782.2 1110.5,785.9 1110.8,784.7 1111.1,784.7 1111.4,788.0 1111.8,786.3 1112.1,790.5 1112.4,787.0 1112.8,792.5 1113.1,789.8 1113.4,792.2 1113.8,788.0 1114.1,789.8 1114.4,786.4 1114.7,790.8 1115.1,792.3 1115.4,795.3 1115.7,792.4 1116.1,789.6 1116.4,789.7 1116.7,791.6 1117.1,788.9 1117.4,794.5 1117.7,792.2 1118.0,787.9 1118.4,788.5 1118.7,794.7 1119.0,792.4 1119.4,791.0 1119.7,794.4 1120.0,791.4 1120.4,791.0 1120.7,792.4 1121.0,787.8 1121.3,795.7 1121.7,789.9 1122.0,791.5 1122.3,790.2 1122.7,794.3 1123.0,790.9 1123.3,790.2 1123.7,785.0 1124.0,788.7 1124.3,785.2 1124.6,789.5 1125.0,789.7 1125.3,789.1 1125.6,794.4 1126.0,791.1 1126.3,791.9 1126.6,790.3 1127.0,790.8 1127.3,793.7 1127.6,794.9 1127.9,788.7 1128.3,794.7 1128.6,792.2 1128.9,793.8 1129.3,793.2 1129.6,788.6 1129.9,788.7 1130.3,796.6 1130.6,791.8 1130.9,787.9 1131.2,792.8 1131.6,790.9 1131.9,786.5 1132.2,784.6 1132.6,786.9 1132.9,790.9 1133.2,789.1 1133.6,788.1 1133.9,788.9 1134.2,789.6 1134.5,784.0 1134.9,789.4 1135.2,788.3 1135.5,787.1 1135.9,789.5 1136.2,790.9 1136.5,791.8 1136.9,787.5 1137.2,789.8 1137.5,796.0 1137.8,788.2 1138.2,785.9 1138.5,791.0 1138.8,792.3 1139.2,791.6 1139.5,785.7 1139.8,792.3 1140.2,787.2 1140.5,786.4 1140.8,786.7 1141.1,789.6 1141.5,791.6 1141.8,790.5 1142.1,788.8 1142.5,791.7 1142.8,789.9 1143.1,793.5 1143.5,787.1 1143.8,787.6 1144.1,792.2 1144.4,786.7 1144.8,791.2 1145.1,791.2 1145.4,791.5 1145.8,792.0 1146.1,795.0 1146.4,784.2 1146.8,792.0 1147.1,796.7 1147.4,790.4 1147.7,789.0 1148.1,792.0 1148.4,794.3 1148.7,786.0 1149.1,790.1 1149.4,790.8 1149.7,792.8 1150.1,792.2 1150.4,793.5 1150.7,790.4 1151.0,791.6 1151.4,789.9 1151.7,788.8 1152.0,790.4 1152.4,789.1 1152.7,786.4 1153.0,793.0 1153.4,788.3 1153.7,785.8 1154.0,791.6 1154.3,787.7 1154.7,791.9 1155.0,789.8 1155.3,790.6 1155.7,790.4 1156.0,788.1 1156.3,790.2 1156.7,795.6 1157.0,784.9 1157.3,789.9 1157.6,791.1 1158.0,787.8 1158.3,787.8 1158.6,797.7 1159.0,791.6 1159.3,797.6 1159.6,792.2 1160.0,790.5 1160.3,791.6 1160.6,790.5 1160.9,791.9 1161.3,789.8 1161.6,788.6 1161.9,788.3" fill="none" stroke="#000" stroke-width="2.6" stroke-linejoin="round" />
<line x1="148.30" y1="22.15" x2="1162.00" y2="22.15" stroke="#404040" stroke-width="2.3" />
<line x1="148.30" y1="24.60" x2="1160.00" y2="24.60" stroke="#b4b4b4" stroke-width="2.6" />
<line x1="148.30" y1="21.00" x2="148.30" y2="846.80" stroke="#333" stroke-width="3" />
<line x1="1160.45" y1="21.00" x2="1160.45" y2="862.80" stroke="#606060" stroke-width="2.7" />
<line x1="1163.25" y1="21.00" x2="1163.25" y2="862.80" stroke="#929292" stroke-width="2.9" />
<line x1="146.80" y1="845.30" x2="1162.00" y2="845.30" stroke="#3a3a3a" stroke-width="3" />
<line x1="148.30" y1="845.30" x2="148.30" y2="862.80" stroke="#444" stroke-width="3" />
<line x1="220.71" y1="845.30" x2="220.71" y2="854.30" stroke="#555" stroke-width="3" />
<line x1="293.11" y1="845.30" x2="293.11" y2="862.80" stroke="#444" stroke-width="3" />
<line x1="365.52" y1="845.30" x2="365.52" y2="854.30" stroke="#555" stroke-width="3" />
<line x1="437.93" y1="845.30" x2="437.93" y2="862.80" stroke="#444" stroke-width="3" />
<line x1="510.34" y1="845.30" x2="510.34" y2="854.30" stroke="#555" stroke-width="3" />
<line x1="582.74" y1="845.30" x2="582.74" y2="862.80" stroke="#444" stroke-width="3" />
<line x1="655.15" y1="845.30" x2="655.15" y2="854.30" stroke="#555" stroke-width="3" />
<line x1="727.56" y1="845.30" x2="727.56" y2="862.80" stroke="#444" stroke-width="3" />
<line x1="799.96" y1="845.30" x2="799.96" y2="854.30" stroke="#555" stroke-width="3" />
<line x1="872.37" y1="845.30" x2="872.37" y2="862.80" stroke="#444" stroke-width="3" />
<line x1="944.78" y1="845.30" x2="944.78" y2="854.30" stroke="#555" stroke-width="3" />
<line x1="1017.19" y1="845.30" x2="1017.19" y2="862.80" stroke="#444" stroke-width="3" />
<line x1="1089.59" y1="845.30" x2="1089.59" y2="854.30" stroke="#555" stroke-width="3" />
<text transform="translate(128.22,901.52) scale(0.9356,1)" font-size="37.85" font-family="Liberation Sans, Arial, sans-serif" font-weight="bold" fill="#000">10</text>
<text transform="translate(273.53,901.52) scale(0.9356,1)" font-size="37.85" font-family="Liberation Sans, Arial, sans-serif" font-weight="bold" fill="#000">20</text>
<text transform="translate(418.56,901.52) scale(0.9356,1)" font-size="37.85" font-family="Liberation Sans, Arial, sans-serif" font-weight="bold" fill="#000">30</text>
<text transform="translate(563.51,901.52) scale(0.9356,1)" font-size="37.85" font-family="Liberation Sans, Arial, sans-serif" font-weight="bold" fill="#000">40</text>
<text transform="translate(708.04,901.52) scale(0.9356,1)" font-size="37.85" font-family="Liberation Sans, Arial, sans-serif" font-weight="bold" fill="#000">50</text>
<text transform="translate(852.75,901.52) scale(0.9356,1)" font-size="37.85" font-family="Liberation Sans, Arial, sans-serif" font-weight="bold" fill="#000">60</text>
<text transform="translate(997.46,901.52) scale(0.9356,1)" font-size="37.85" font-family="Liberation Sans, Arial, sans-serif" font-weight="bold" fill="#000">70</text>
<text transform="translate(1142.47,901.52) scale(0.9356,1)" font-size="37.85" font-family="Liberation Sans, Arial, sans-serif" font-weight="bold" fill="#000">80</text>
<text transform="translate(555.07,959.46) scale(0.9496,1)" font-size="42.98" font-family="Liberation Sans, Arial, sans-serif" font-weight="bold" fill="#000">2-Theta (</text>
<text transform="translate(743.46,959.79) scale(0.8657,1)" font-size="41.37" font-family="Liberation Sans, Arial, sans-serif" font-weight="bold" fill="#000">)</text>
<text transform="translate(727.51,932.39) scale(1.0813,1)" font-size="21.17" font-family="Liberation Sans, Arial, sans-serif" font-weight="bold" fill="#000">o</text>
<text transform="translate(112.41,601.83) rotate(-90) scale(0.9828,1)" font-size="46.09" font-family="Liberation Sans, Arial, sans-serif" font-weight="bold" fill="#000">Intensity (a.u.)</text>
<text transform="translate(168.71,86.47) scale(1.0267,1)" font-size="70.56" font-family="Liberation Serif, serif" font-weight="bold" fill="#000">(a)</text>
<text transform="translate(494.87,104.27) scale(0.9461,1)" font-size="43.40" font-family="Liberation Sans, Arial, sans-serif" font-weight="bold" fill="#ff0000">Anatase TiO</text>
<text transform="translate(734.85,121.50) scale(1.0801,1)" font-size="25.21" font-family="Liberation Sans, Arial, sans-serif" font-weight="bold" fill="#ff0000">2</text>
<text transform="translate(761.48,104.25) scale(0.9137,1)" font-size="45.06" font-family="Liberation Sans, Arial, sans-serif" font-weight="bold" fill="#ff0000">JCPDS No. 21-1272</text>
<line x1="1323.00" y1="846.50" x2="2338.00" y2="846.50" stroke="#4a4ab8" stroke-width="3" />
<path d="M1334.70,846.50L1334.70,816.95L1336.39,816.95L1336.39,816.79L1338.08,816.79L1338.08,828.51L1339.77,828.51L1339.77,834.11L1341.46,834.11L1341.46,840.50L1343.15,840.50L1343.15,839.92L1344.84,839.92L1344.84,836.88L1346.53,836.88L1346.53,839.97L1348.22,839.97L1348.22,839.84L1349.91,839.84L1349.91,834.63L1351.60,834.63L1351.60,839.96L1353.29,839.96L1353.29,827.84L1354.98,827.84L1354.98,816.77L1356.67,816.77L1356.67,789.23L1358.36,789.23L1358.36,743.15L1360.05,743.15L1360.05,661.23L1361.74,661.23L1361.74,550.02L1363.43,550.02L1363.43,411.63L1365.12,411.63L1365.12,264.66L1366.81,264.66L1366.81,145.92L1368.50,145.92L1368.50,90.60L1370.19,90.60L1370.19,103.47L1371.88,103.47L1371.88,195.29L1373.57,195.29L1373.57,326.53L1375.26,326.53L1375.26,472.80L1376.95,472.80L1376.95,600.90L1378.64,600.90L1378.64,697.55L1380.33,697.55L1380.33,760.02L1382.02,760.02L1382.02,794.59L1383.71,794.59L1383.71,813.36L1385.40,813.36L1385.40,823.96L1387.09,823.96L1387.09,827.03L1388.78,827.03L1388.78,827.22L1390.47,827.22L1390.47,829.34L1392.16,829.34L1392.16,829.87L1393.85,829.87L1393.85,830.44L1395.54,830.44L1395.54,828.21L1397.23,828.21L1397.23,822.08L1398.92,822.08L1398.92,809.81L1400.61,809.81L1400.61,793.86L1402.30,793.86L1402.30,767.17L1403.99,767.17L1403.99,734.63L1405.68,734.63L1405.68,708.08L1407.37,708.08L1407.37,676.51L1409.06,676.51L1409.06,658.45L1410.75,658.45L1410.75,652.34L1412.44,652.34L1412.44,665.32L1414.13,665.32L1414.13,684.37L1415.82,684.37L1415.82,717.49L1417.51,717.49L1417.51,748.31L1419.20,748.31L1419.20,776.00L1420.89,776.00L1420.89,798.41L1422.58,798.41L1422.58,818.46L1424.27,818.46L1424.27,828.66L1425.96,828.66L1425.96,835.34L1427.65,835.34L1427.65,840.44L1429.34,840.44L1429.34,839.05L1431.03,839.05L1431.03,839.71L1432.72,839.71L1432.72,839.18L1434.41,839.18L1434.41,839.66L1436.10,839.66L1436.10,838.79L1437.79,838.79L1437.79,837.73L1439.48,837.73L1439.48,842.99L1441.17,842.99L1441.17,835.76L1442.86,835.76L1442.86,839.56L1444.55,839.56L1444.55,839.78L1446.24,839.78L1446.24,839.11L1447.93,839.11L1447.93,836.92L1449.62,836.92L1449.62,838.19L1451.31,838.19L1451.31,837.54L1453.00,837.54L1453.00,836.26L1454.69,836.26L1454.69,837.99L1456.38,837.99L1456.38,837.17L1458.07,837.17L1458.07,836.74L1459.76,836.74L1459.76,838.85L1461.45,838.85L1461.45,835.50L1463.14,835.50L1463.14,838.10L1464.83,838.10L1464.83,836.04L1466.52,836.04L1466.52,837.81L1468.21,837.81L1468.21,837.02L1469.90,837.02L1469.90,837.20L1471.59,837.20L1471.59,834.84L1473.28,834.84L1473.28,835.08L1474.97,835.08L1474.97,834.79L1476.66,834.79L1476.66,836.53L1478.35,836.53L1478.35,837.43L1480.04,837.43L1480.04,837.88L1481.73,837.88L1481.73,834.86L1483.42,834.86L1483.42,835.78L1485.11,835.78L1485.11,832.54L1486.80,832.54L1486.80,831.30L1488.49,831.30L1488.49,833.61L1490.18,833.61L1490.18,833.83L1491.87,833.83L1491.87,832.08L1493.56,832.08L1493.56,831.53L1495.25,831.53L1495.25,835.57L1496.94,835.57L1496.94,833.01L1498.63,833.01L1498.63,831.29L1500.32,831.29L1500.32,838.39L1502.01,838.39L1502.01,834.37L1503.70,834.37L1503.70,833.36L1505.39,833.36L1505.39,835.04L1507.08,835.04L1507.08,832.33L1508.77,832.33L1508.77,836.44L1510.46,836.44L1510.46,830.71L1512.15,830.71L1512.15,831.03L1513.84,831.03L1513.84,833.04L1515.53,833.04L1515.53,831.82L1517.22,831.82L1517.22,835.63L1518.91,835.63L1518.91,830.13L1520.60,830.13L1520.60,831.60L1522.29,831.60L1522.29,833.24L1523.98,833.24L1523.98,833.73L1525.67,833.73L1525.67,834.42L1527.36,834.42L1527.36,833.15L1529.05,833.15L1529.05,836.37L1530.74,836.37L1530.74,831.50L1532.43,831.50L1532.43,832.57L1534.12,832.57L1534.12,833.70L1535.81,833.70L1535.81,831.53L1537.50,831.53L1537.50,831.48L1539.19,831.48L1539.19,831.10L1540.88,831.10L1540.88,830.71L1542.57,830.71L1542.57,829.77L1544.26,829.77L1544.26,830.73L1545.95,830.73L1545.95,828.90L1547.64,828.90L1547.64,832.26L1549.33,832.26L1549.33,828.71L1551.02,828.71L1551.02,835.14L1552.71,835.14L1552.71,834.45L1554.40,834.45L1554.40,833.36L1556.09,833.36L1556.09,831.00L1557.78,831.00L1557.78,830.31L1559.47,830.31L1559.47,833.49L1561.16,833.49L1561.16,831.65L1562.85,831.65L1562.85,832.32L1564.54,832.32L1564.54,830.11L1566.23,830.11L1566.23,833.34L1567.92,833.34L1567.92,830.18L1569.61,830.18L1569.61,831.92L1571.30,831.92L1571.30,828.87L1572.99,828.87L1572.99,830.96L1574.68,830.96L1574.68,833.19L1576.37,833.19L1576.37,831.74L1578.06,831.74L1578.06,831.95L1579.75,831.95L1579.75,834.32L1581.44,834.32L1581.44,833.01L1583.13,833.01L1583.13,835.48L1584.82,835.48L1584.82,829.24L1586.51,829.24L1586.51,834.57L1588.20,834.57L1588.20,834.54L1589.89,834.54L1589.89,831.00L1591.58,831.00L1591.58,831.37L1593.27,831.37L1593.27,834.97L1594.96,834.97L1594.96,831.21L1596.65,831.21L1596.65,831.32L1598.34,831.32L1598.34,832.40L1600.03,832.40L1600.03,829.00L1601.72,829.00L1601.72,827.49L1603.41,827.49L1603.41,820.55L1605.10,820.55L1605.10,815.65L1606.79,815.65L1606.79,807.20L1608.48,807.20L1608.48,792.98L1610.17,792.98L1610.17,772.98L1611.86,772.98L1611.86,760.64L1613.55,760.64L1613.55,742.54L1615.24,742.54L1615.24,726.29L1616.93,726.29L1616.93,720.41L1618.62,720.41L1618.62,711.55L1620.31,711.55L1620.31,721.39L1622.00,721.39L1622.00,727.12L1623.69,727.12L1623.69,745.78L1625.38,745.78L1625.38,760.41L1627.07,760.41L1627.07,775.87L1628.76,775.87L1628.76,794.39L1630.45,794.39L1630.45,808.12L1632.14,808.12L1632.14,818.66L1633.83,818.66L1633.83,826.75L1635.52,826.75L1635.52,828.14L1637.21,828.14L1637.21,833.45L1638.90,833.45L1638.90,835.55L1640.59,835.55L1640.59,834.74L1642.28,834.74L1642.28,834.09L1643.97,834.09L1643.97,834.32L1645.66,834.32L1645.66,837.38L1647.35,837.38L1647.35,837.56L1649.04,837.56L1649.04,834.85L1650.73,834.85L1650.73,834.05L1652.42,834.05L1652.42,838.49L1654.11,838.49L1654.11,833.79L1655.80,833.79L1655.80,836.75L1657.49,836.75L1657.49,835.16L1659.18,835.16L1659.18,833.59L1660.87,833.59L1660.87,836.82L1662.56,836.82L1662.56,836.33L1664.25,836.33L1664.25,839.13L1665.94,839.13L1665.94,840.58L1667.63,840.58L1667.63,836.45L1669.32,836.45L1669.32,838.54L1671.01,838.54L1671.01,838.61L1672.70,838.61L1672.70,835.99L1674.39,835.99L1674.39,835.44L1676.08,835.44L1676.08,839.66L1677.77,839.66L1677.77,836.36L1679.46,836.36L1679.46,836.96L1681.15,836.96L1681.15,836.55L1682.84,836.55L1682.84,836.85L1684.53,836.85L1684.53,836.09L1686.22,836.09L1686.22,838.39L1687.91,838.39L1687.91,839.28L1689.60,839.28L1689.60,836.58L1691.29,836.58L1691.29,834.92L1692.98,834.92L1692.98,837.36L1694.67,837.36L1694.67,834.82L1696.36,834.82L1696.36,836.27L1698.05,836.27L1698.05,839.44L1699.74,839.44L1699.74,841.30L1701.43,841.30L1701.43,838.09L1703.12,838.09L1703.12,835.72L1704.81,835.72L1704.81,838.84L1706.50,838.84L1706.50,833.83L1708.19,833.83L1708.19,836.46L1709.88,836.46L1709.88,840.19L1711.57,840.19L1711.57,838.93L1713.26,838.93L1713.26,835.44L1714.95,835.44L1714.95,835.01L1716.64,835.01L1716.64,839.23L1718.33,839.23L1718.33,837.77L1720.02,837.77L1720.02,836.91L1721.71,836.91L1721.71,838.61L1723.40,838.61L1723.40,837.02L1725.09,837.02L1725.09,834.83L1726.78,834.83L1726.78,839.38L1728.47,839.38L1728.47,837.02L1730.16,837.02L1730.16,836.47L1731.85,836.47L1731.85,835.97L1733.54,835.97L1733.54,838.62L1735.23,838.62L1735.23,836.92L1736.92,836.92L1736.92,839.31L1738.61,839.31L1738.61,837.88L1740.30,837.88L1740.30,840.14L1741.99,840.14L1741.99,837.77L1743.68,837.77L1743.68,837.37L1745.37,837.37L1745.37,835.25L1747.06,835.25L1747.06,836.72L1748.75,836.72L1748.75,839.73L1750.44,839.73L1750.44,843.58L1752.13,843.58L1752.13,836.59L1753.82,836.59L1753.82,836.98L1755.51,836.98L1755.51,839.26L1757.20,839.26L1757.20,839.52L1758.89,839.52L1758.89,837.68L1760.58,837.68L1760.58,838.95L1762.27,838.95L1762.27,836.25L1763.96,836.25L1763.96,838.41L1765.65,838.41L1765.65,840.39L1767.34,840.39L1767.34,841.62L1769.03,841.62L1769.03,838.74L1770.72,838.74L1770.72,838.62L1772.41,838.62L1772.41,839.81L1774.10,839.81L1774.10,840.90L1775.79,840.90L1775.79,839.94L1777.48,839.94L1777.48,837.98L1779.17,837.98L1779.17,839.80L1780.86,839.80L1780.86,840.82L1782.55,840.82L1782.55,838.15L1784.24,838.15L1784.24,837.18L1785.93,837.18L1785.93,840.18L1787.62,840.18L1787.62,839.98L1789.31,839.98L1789.31,840.98L1791.00,840.98L1791.00,839.60L1792.69,839.60L1792.69,838.46L1794.38,838.46L1794.38,838.83L1796.07,838.83L1796.07,837.92L1797.76,837.92L1797.76,838.08L1799.45,838.08L1799.45,838.73L1801.14,838.73L1801.14,838.89L1802.83,838.89L1802.83,841.46L1804.52,841.46L1804.52,837.77L1806.21,837.77L1806.21,839.67L1807.90,839.67L1807.90,838.84L1809.59,838.84L1809.59,842.17L1811.28,842.17L1811.28,840.25L1812.97,840.25L1812.97,839.28L1814.66,839.28L1814.66,841.19L1816.35,841.19L1816.35,840.03L1818.04,840.03L1818.04,839.20L1819.73,839.20L1819.73,842.41L1821.42,842.41L1821.42,841.13L1823.11,841.13L1823.11,842.76L1824.80,842.76L1824.80,841.88L1826.49,841.88L1826.49,841.31L1828.18,841.31L1828.18,840.32L1829.87,840.32L1829.87,838.43L1831.56,838.43L1831.56,841.27L1833.25,841.27L1833.25,840.30L1834.94,840.30L1834.94,841.27L1836.63,841.27L1836.63,840.22L1838.32,840.22L1838.32,839.17L1840.01,839.17L1840.01,838.70L1841.70,838.70L1841.70,841.39L1843.39,841.39L1843.39,842.34L1845.08,842.34L1845.08,839.90L1846.77,839.90L1846.77,841.08L1848.46,841.08L1848.46,842.55L1850.15,842.55L1850.15,839.11L1851.84,839.11L1851.84,839.90L1853.53,839.90L1853.53,838.71L1855.22,838.71L1855.22,842.31L1856.91,842.31L1856.91,840.90L1858.60,840.90L1858.60,839.80L1860.29,839.80L1860.29,837.97L1861.98,837.97L1861.98,840.28L1863.67,840.28L1863.67,842.12L1865.36,842.12L1865.36,840.14L1867.05,840.14L1867.05,839.96L1868.74,839.96L1868.74,841.62L1870.43,841.62L1870.43,838.75L1872.12,838.75L1872.12,840.75L1873.81,840.75L1873.81,841.61L1875.50,841.61L1875.50,839.51L1877.19,839.51L1877.19,839.46L1878.88,839.46L1878.88,841.13L1880.57,841.13L1880.57,840.61L1882.26,840.61L1882.26,840.42L1883.95,840.42L1883.95,841.12L1885.64,841.12L1885.64,841.16L1887.33,841.16L1887.33,839.42L1889.02,839.42L1889.02,839.84L1890.71,839.84L1890.71,841.56L1892.40,841.56L1892.40,842.60L1894.09,842.60L1894.09,842.97L1895.78,842.97L1895.78,839.64L1897.47,839.64L1897.47,842.61L1899.16,842.61L1899.16,842.11L1900.85,842.11L1900.85,840.93L1902.54,840.93L1902.54,841.73L1904.23,841.73L1904.23,842.27L1905.92,842.27L1905.92,843.73L1907.61,843.73L1907.61,839.45L1909.30,839.45L1909.30,841.97L1910.99,841.97L1910.99,840.87L1912.68,840.87L1912.68,840.78L1914.37,840.78L1914.37,842.84L1916.06,842.84L1916.06,842.36L1917.75,842.36L1917.75,839.62L1919.44,839.62L1919.44,840.74L1921.13,840.74L1921.13,841.52L1922.82,841.52L1922.82,839.08L1924.51,839.08L1924.51,842.50L1926.20,842.50L1926.20,841.11L1927.89,841.11L1927.89,841.49L1929.58,841.49L1929.58,841.76L1931.27,841.76L1931.27,843.97L1932.96,843.97L1932.96,841.35L1934.65,841.35L1934.65,840.77L1936.34,840.77L1936.34,843.91L1938.03,843.91L1938.03,840.59L1939.72,840.59L1939.72,840.58L1941.41,840.58L1941.41,839.31L1943.10,839.31L1943.10,842.99L1944.79,842.99L1944.79,841.81L1946.48,841.81L1946.48,842.12L1948.17,842.12L1948.17,841.68L1949.86,841.68L1949.86,841.25L1951.55,841.25L1951.55,840.31L1953.24,840.31L1953.24,840.33L1954.93,840.33L1954.93,842.14L1956.62,842.14L1956.62,841.70L1958.31,841.70L1958.31,843.93L1960.00,843.93L1960.00,840.43L1961.69,840.43L1961.69,840.85L1963.38,840.85L1963.38,840.09L1965.07,840.09L1965.07,843.62L1966.76,843.62L1966.76,839.81L1968.45,839.81L1968.45,842.76L1970.14,842.76L1970.14,843.75L1971.83,843.75L1971.83,841.46L1973.52,841.46L1973.52,842.74L1975.21,842.74L1975.21,838.60L1976.90,838.60L1976.90,841.16L1978.59,841.16L1978.59,839.33L1980.28,839.33L1980.28,842.01L1981.97,842.01L1981.97,841.79L1983.66,841.79L1983.66,840.68L1985.35,840.68L1985.35,843.18L1987.04,843.18L1987.04,842.34L1988.73,842.34L1988.73,841.09L1990.42,841.09L1990.42,841.12L1992.11,841.12L1992.11,839.76L1993.80,839.76L1993.80,841.63L1995.49,841.63L1995.49,844.97L1997.18,844.97L1997.18,840.92L1998.87,840.92L1998.87,842.56L2000.56,842.56L2000.56,841.19L2002.25,841.19L2002.25,843.15L2003.94,843.15L2003.94,842.65L2005.63,842.65L2005.63,841.70L2007.32,841.70L2007.32,839.51L2009.01,839.51L2009.01,841.34L2010.70,841.34L2010.70,843.82L2012.39,843.82L2012.39,841.77L2014.08,841.77L2014.08,843.04L2015.77,843.04L2015.77,841.48L2017.46,841.48L2017.46,839.53L2019.15,839.53L2019.15,842.82L2020.84,842.82L2020.84,842.69L2022.53,842.69L2022.53,841.43L2024.22,841.43L2024.22,841.75L2025.91,841.75L2025.91,842.71L2027.60,842.71L2027.60,841.48L2029.29,841.48L2029.29,842.83L2030.98,842.83L2030.98,842.08L2032.67,842.08L2032.67,839.06L2034.36,839.06L2034.36,842.21L2036.05,842.21L2036.05,841.60L2037.74,841.60L2037.74,841.28L2039.43,841.28L2039.43,843.05L2041.12,843.05L2041.12,841.81L2042.81,841.81L2042.81,843.28L2044.50,843.28L2044.50,844.07L2046.19,844.07L2046.19,842.73L2047.88,842.73L2047.88,840.35L2049.57,840.35L2049.57,841.45L2051.26,841.45L2051.26,843.64L2052.95,843.64L2052.95,841.81L2054.64,841.81L2054.64,840.72L2056.33,840.72L2056.33,841.17L2058.02,841.17L2058.02,841.14L2059.71,841.14L2059.71,839.51L2061.40,839.51L2061.40,838.17L2063.09,838.17L2063.09,833.48L2064.78,833.48L2064.78,830.67L2066.47,830.67L2066.47,826.04L2068.16,826.04L2068.16,820.52L2069.85,820.52L2069.85,810.59L2071.54,810.59L2071.54,805.00L2073.23,805.00L2073.23,794.44L2074.92,794.44L2074.92,788.69L2076.61,788.69L2076.61,779.42L2078.30,779.42L2078.30,770.74L2079.99,770.74L2079.99,761.97L2081.68,761.97L2081.68,754.49L2083.37,754.49L2083.37,753.14L2085.06,753.14L2085.06,750.85L2086.75,750.85L2086.75,753.98L2088.44,753.98L2088.44,756.46L2090.13,756.46L2090.13,763.59L2091.82,763.59L2091.82,773.33L2093.51,773.33L2093.51,784.39L2095.20,784.39L2095.20,791.54L2096.89,791.54L2096.89,804.03L2098.58,804.03L2098.58,813.40L2100.27,813.40L2100.27,815.59L2101.96,815.59L2101.96,823.81L2103.65,823.81L2103.65,827.85L2105.34,827.85L2105.34,833.12L2107.03,833.12L2107.03,835.72L2108.72,835.72L2108.72,838.64L2110.41,838.64L2110.41,841.65L2112.10,841.65L2112.10,842.72L2113.79,842.72L2113.79,842.52L2115.48,842.52L2115.48,842.64L2117.17,842.64L2117.17,843.09L2118.86,843.09L2118.86,843.27L2120.55,843.27L2120.55,843.98L2122.24,843.98L2122.24,843.27L2123.93,843.27L2123.93,843.96L2125.62,843.96L2125.62,841.52L2127.31,841.52L2127.31,844.32L2129.00,844.32L2129.00,845.50L2130.69,845.50L2130.69,843.34L2132.38,843.34L2132.38,841.04L2134.07,841.04L2134.07,844.51L2135.76,844.51L2135.76,841.93L2137.45,841.93L2137.45,837.92L2139.14,837.92L2139.14,841.02L2140.83,841.02L2140.83,841.36L2142.52,841.36L2142.52,840.15L2144.21,840.15L2144.21,840.21L2145.90,840.21L2145.90,838.18L2147.59,838.18L2147.59,836.22L2149.28,836.22L2149.28,832.12L2150.97,832.12L2150.97,832.00L2152.66,832.00L2152.66,832.58L2154.35,832.58L2154.35,832.34L2156.04,832.34L2156.04,829.47L2157.73,829.47L2157.73,829.76L2159.42,829.76L2159.42,831.28L2161.11,831.28L2161.11,828.61L2162.80,828.61L2162.80,829.34L2164.49,829.34L2164.49,832.65L2166.18,832.65L2166.18,834.51L2167.87,834.51L2167.87,834.87L2169.56,834.87L2169.56,833.82L2171.25,833.82L2171.25,838.14L2172.94,838.14L2172.94,837.53L2174.63,837.53L2174.63,841.15L2176.32,841.15L2176.32,841.02L2178.01,841.02L2178.01,842.19L2179.70,842.19L2179.70,843.22L2181.39,843.22L2181.39,842.11L2183.08,842.11L2183.08,844.18L2184.77,844.18L2184.77,844.93L2186.46,844.93L2186.46,843.98L2188.15,843.98L2188.15,845.29L2189.84,845.29L2189.84,842.81L2191.53,842.81L2191.53,844.86L2193.22,844.86L2193.22,844.05L2194.91,844.05L2194.91,842.44L2196.60,842.44L2196.60,843.63L2198.29,843.63L2198.29,843.06L2199.98,843.06L2199.98,843.04L2201.67,843.04L2201.67,843.88L2203.36,843.88L2203.36,845.14L2205.05,845.14L2205.05,843.37L2206.74,843.37L2206.74,843.95L2208.43,843.95L2208.43,841.91L2210.12,841.91L2210.12,843.94L2211.81,843.94L2211.81,845.29L2213.50,845.29L2213.50,844.86L2215.19,844.86L2215.19,844.43L2216.88,844.43L2216.88,843.16L2218.57,843.16L2218.57,842.60L2220.26,842.60L2220.26,843.73L2221.95,843.73L2221.95,842.15L2223.64,842.15L2223.64,842.29L2225.33,842.29L2225.33,845.07L2227.02,845.07L2227.02,842.71L2228.71,842.71L2228.71,845.50L2230.40,845.50L2230.40,842.08L2232.09,842.08L2232.09,844.44L2233.78,844.44L2233.78,842.42L2235.47,842.42L2235.47,844.13L2237.16,844.13L2237.16,842.61L2238.85,842.61L2238.85,843.98L2240.54,843.98L2240.54,843.74L2242.23,843.74L2242.23,843.37L2243.92,843.37L2243.92,844.59L2245.61,844.59L2245.61,845.50L2247.30,845.50L2247.30,843.22L2248.99,843.22L2248.99,845.08L2250.68,845.08L2250.68,844.08L2252.37,844.08L2252.37,843.94L2254.06,843.94L2254.06,845.50L2255.75,845.50L2255.75,841.28L2257.44,841.28L2257.44,843.15L2259.13,843.15L2259.13,841.75L2260.82,841.75L2260.82,843.63L2262.51,843.63L2262.51,843.74L2264.20,843.74L2264.20,845.50L2265.89,845.50L2265.89,844.47L2267.58,844.47L2267.58,845.50L2269.27,845.50L2269.27,845.50L2270.96,845.50L2270.96,843.51L2272.65,843.51L2272.65,844.65L2274.34,844.65L2274.34,845.50L2276.03,845.50L2276.03,844.29L2277.72,844.29L2277.72,844.34L2279.41,844.34L2279.41,844.71L2281.10,844.71L2281.10,842.24L2282.79,842.24L2282.79,843.10L2284.48,843.10L2284.48,844.52L2286.17,844.52L2286.17,844.78L2287.86,844.78L2287.86,842.99L2289.55,842.99L2289.55,843.73L2291.24,843.73L2291.24,843.98L2292.93,843.98L2292.93,843.95L2294.62,843.95L2294.62,844.99L2296.31,844.99L2296.31,844.27L2298.00,844.27L2298.00,844.35L2299.69,844.35L2299.69,842.43L2301.38,842.43L2301.38,842.88L2303.07,842.88L2303.07,844.56L2304.76,844.56L2304.76,842.24L2306.45,842.24L2306.45,844.50L2308.14,844.50L2308.14,843.38L2309.83,843.38L2309.83,843.21L2311.52,843.21L2311.52,844.98L2313.21,844.98L2313.21,843.38L2314.90,843.38L2314.90,843.17L2316.59,843.17L2316.59,843.40L2318.28,843.40L2318.28,844.28L2319.97,844.28L2319.97,845.50L2321.66,845.50L2321.66,841.68L2323.35,841.68L2323.35,844.21L2325.04,844.21L2325.04,843.95L2326.73,843.95L2326.73,845.38L2328.42,845.38L2328.42,843.80L2330.11,843.80L2330.11,841.30L2331.80,841.30L2331.80,845.50L2333.49,845.50L2333.49,842.96L2335.18,842.96L2335.18,844.20L2336.87,844.20L2336.87,846.50Z" fill="#0000ff"/>
<line x1="1324.50" y1="24.50" x2="2338.00" y2="24.50" stroke="#333" stroke-width="3" />
<line x1="1324.50" y1="23.00" x2="1324.50" y2="848.00" stroke="#111" stroke-width="2.6" />
<line x1="2336.85" y1="23.00" x2="2336.85" y2="865.00" stroke="#555" stroke-width="2.3" />
<line x1="2339.35" y1="23.00" x2="2339.35" y2="865.00" stroke="#ababab" stroke-width="2.7" />
<line x1="1323.20" y1="846.50" x2="1334.70" y2="846.50" stroke="#444" stroke-width="3" />
<line x1="1324.50" y1="848.00" x2="1324.50" y2="865.00" stroke="#444" stroke-width="3" />
<line x1="1408.96" y1="848.00" x2="1408.96" y2="856.50" stroke="#444" stroke-width="3" />
<line x1="1493.42" y1="848.00" x2="1493.42" y2="865.00" stroke="#444" stroke-width="3" />
<line x1="1577.88" y1="848.00" x2="1577.88" y2="856.50" stroke="#444" stroke-width="3" />
<line x1="1662.33" y1="848.00" x2="1662.33" y2="865.00" stroke="#444" stroke-width="3" />
<line x1="1746.79" y1="848.00" x2="1746.79" y2="856.50" stroke="#444" stroke-width="3" />
<line x1="1831.25" y1="848.00" x2="1831.25" y2="865.00" stroke="#444" stroke-width="3" />
<line x1="1915.71" y1="848.00" x2="1915.71" y2="856.50" stroke="#444" stroke-width="3" />
<line x1="2000.17" y1="848.00" x2="2000.17" y2="865.00" stroke="#444" stroke-width="3" />
<line x1="2084.62" y1="848.00" x2="2084.62" y2="856.50" stroke="#444" stroke-width="3" />
<line x1="2169.08" y1="848.00" x2="2169.08" y2="865.00" stroke="#444" stroke-width="3" />
<line x1="2253.54" y1="848.00" x2="2253.54" y2="856.50" stroke="#444" stroke-width="3" />
<text transform="translate(1313.28,906.59) scale(0.9902,1)" font-size="40.82" font-family="Liberation Sans, Arial, sans-serif" font-weight="bold" fill="#000">0</text>
<text transform="translate(1481.47,906.18) scale(0.9902,1)" font-size="40.82" font-family="Liberation Sans, Arial, sans-serif" font-weight="bold" fill="#000">1</text>
<text transform="translate(1651.20,906.59) scale(0.9902,1)" font-size="40.82" font-family="Liberation Sans, Arial, sans-serif" font-weight="bold" fill="#000">2</text>
<text transform="translate(1820.28,906.59) scale(0.9902,1)" font-size="40.82" font-family="Liberation Sans, Arial, sans-serif" font-weight="bold" fill="#000">3</text>
<text transform="translate(1988.73,906.18) scale(0.9902,1)" font-size="40.82" font-family="Liberation Sans, Arial, sans-serif" font-weight="bold" fill="#000">4</text>
<text transform="translate(2157.79,906.18) scale(0.9902,1)" font-size="40.82" font-family="Liberation Sans, Arial, sans-serif" font-weight="bold" fill="#000">5</text>
<text transform="translate(2326.74,906.59) scale(0.9902,1)" font-size="40.82" font-family="Liberation Sans, Arial, sans-serif" font-weight="bold" fill="#000">6</text>
<text transform="translate(1702.05,953.37) scale(0.9653,1)" font-size="42.58" font-family="Liberation Sans, Arial, sans-serif" font-weight="bold" fill="#000">Energy (KeV)</text>
<text transform="translate(1297.70,632.23) rotate(-90) scale(0.9922,1)" font-size="48.55" font-family="Liberation Sans, Arial, sans-serif" font-weight="bold" fill="#000">Intensity (a.u.)</text>
<text transform="translate(2217.74,96.55) scale(1.0669,1)" font-size="67.36" font-family="Liberation Serif, serif" font-weight="bold" fill="#000">(b)</text>
<text transform="translate(1381.58,117.64) scale(0.9571,1)" font-size="46.33" font-family="Liberation Sans, Arial, sans-serif" font-weight="bold" fill="#000">C</text>
<text transform="translate(1398.79,628.88) scale(0.9847,1)" font-size="42.37" font-family="Liberation Sans, Arial, sans-serif" font-weight="bold" fill="#000">O</text>
<text transform="translate(1600.29,688.47) scale(0.9598,1)" font-size="43.40" font-family="Liberation Sans, Arial, sans-serif" font-weight="bold" fill="#000">Si</text>
<text transform="translate(2067.95,722.90) scale(0.9515,1)" font-size="42.76" font-family="Liberation Sans, Arial, sans-serif" font-weight="bold" fill="#000">Ti</text>
<text transform="translate(2139.32,809.80) scale(1.0445,1)" font-size="41.38" font-family="Liberation Sans, Arial, sans-serif" font-weight="bold" fill="#000">Ti</text>
<rect x="346.10" y="1130.50" width="2.8" height="5" fill="#ababab"/>
<rect x="356.92" y="1130.50" width="2.8" height="5" fill="#ababab"/>
<rect x="367.74" y="1130.50" width="2.8" height="5" fill="#ababab"/>
<rect x="378.56" y="1130.50" width="2.8" height="5" fill="#ababab"/>
<rect x="389.38" y="1130.50" width="2.8" height="5" fill="#ababab"/>
<rect x="400.20" y="1130.50" width="2.8" height="5" fill="#ababab"/>
<rect x="411.02" y="1130.50" width="2.8" height="5" fill="#ababab"/>
<rect x="421.84" y="1130.50" width="2.8" height="5" fill="#ababab"/>
<rect x="432.66" y="1130.50" width="2.8" height="5" fill="#ababab"/>
<rect x="443.48" y="1130.50" width="2.8" height="5" fill="#ababab"/>
<rect x="454.30" y="1130.50" width="2.8" height="5" fill="#ababab"/>
<rect x="465.12" y="1130.50" width="2.8" height="5" fill="#ababab"/>
<rect x="475.94" y="1130.50" width="2.8" height="5" fill="#ababab"/>
<rect x="486.76" y="1130.50" width="2.8" height="5" fill="#ababab"/>
<rect x="497.58" y="1130.50" width="2.8" height="5" fill="#ababab"/>
<rect x="508.40" y="1130.50" width="2.8" height="5" fill="#ababab"/>
<rect x="519.22" y="1130.50" width="2.8" height="5" fill="#ababab"/>
<rect x="530.04" y="1130.50" width="2.8" height="5" fill="#ababab"/>
<rect x="540.86" y="1130.50" width="2.8" height="5" fill="#ababab"/>
<rect x="551.68" y="1130.50" width="2.8" height="5" fill="#ababab"/>
<rect x="562.50" y="1130.50" width="2.8" height="5" fill="#ababab"/>
<rect x="573.32" y="1130.50" width="2.8" height="5" fill="#ababab"/>
<rect x="584.14" y="1130.50" width="2.8" height="5" fill="#ababab"/>
<rect x="594.96" y="1130.50" width="2.8" height="5" fill="#ababab"/>
<rect x="605.78" y="1130.50" width="2.8" height="5" fill="#ababab"/>
<rect x="616.60" y="1130.50" width="2.8" height="5" fill="#ababab"/>
<rect x="627.42" y="1130.50" width="2.8" height="5" fill="#ababab"/>
<rect x="638.24" y="1130.50" width="2.8" height="5" fill="#ababab"/>
<rect x="649.06" y="1130.50" width="2.8" height="5" fill="#ababab"/>
<rect x="659.88" y="1130.50" width="2.8" height="5" fill="#ababab"/>
<rect x="670.70" y="1130.50" width="2.8" height="5" fill="#ababab"/>
<rect x="681.52" y="1130.50" width="2.8" height="5" fill="#ababab"/>
<rect x="692.34" y="1130.50" width="2.8" height="5" fill="#ababab"/>
<rect x="703.16" y="1130.50" width="2.8" height="5" fill="#ababab"/>
<rect x="713.98" y="1130.50" width="2.8" height="5" fill="#ababab"/>
<rect x="724.80" y="1130.50" width="2.8" height="5" fill="#ababab"/>
<rect x="735.62" y="1130.50" width="2.8" height="5" fill="#ababab"/>
<rect x="746.44" y="1130.50" width="2.8" height="5" fill="#ababab"/>
<rect x="757.26" y="1130.50" width="2.8" height="5" fill="#ababab"/>
<rect x="768.08" y="1130.50" width="2.8" height="5" fill="#ababab"/>
<rect x="778.90" y="1130.50" width="2.8" height="5" fill="#ababab"/>
<rect x="789.72" y="1130.50" width="2.8" height="5" fill="#ababab"/>
<rect x="800.54" y="1130.50" width="2.8" height="5" fill="#ababab"/>
<rect x="811.36" y="1130.50" width="2.8" height="5" fill="#ababab"/>
<rect x="822.18" y="1130.50" width="2.8" height="5" fill="#ababab"/>
<rect x="833.00" y="1130.50" width="2.8" height="5" fill="#ababab"/>
<rect x="843.82" y="1130.50" width="2.8" height="5" fill="#ababab"/>
<rect x="854.64" y="1130.50" width="2.8" height="5" fill="#ababab"/>
<rect x="865.46" y="1130.50" width="2.8" height="5" fill="#ababab"/>
<rect x="876.28" y="1130.50" width="2.8" height="5" fill="#ababab"/>
<rect x="887.10" y="1130.50" width="2.8" height="5" fill="#ababab"/>
<rect x="897.92" y="1130.50" width="2.8" height="5" fill="#ababab"/>
<rect x="499.10" y="1553.30" width="2.8" height="5" fill="#ababab"/>
<rect x="509.92" y="1553.30" width="2.8" height="5" fill="#ababab"/>
<rect x="520.74" y="1553.30" width="2.8" height="5" fill="#ababab"/>
<rect x="531.56" y="1553.30" width="2.8" height="5" fill="#ababab"/>
<rect x="542.38" y="1553.30" width="2.8" height="5" fill="#ababab"/>
<rect x="553.20" y="1553.30" width="2.8" height="5" fill="#ababab"/>
<rect x="564.02" y="1553.30" width="2.8" height="5" fill="#ababab"/>
<rect x="574.84" y="1553.30" width="2.8" height="5" fill="#ababab"/>
<rect x="585.66" y="1553.30" width="2.8" height="5" fill="#ababab"/>
<rect x="596.48" y="1553.30" width="2.8" height="5" fill="#ababab"/>
<rect x="607.30" y="1553.30" width="2.8" height="5" fill="#ababab"/>
<rect x="618.12" y="1553.30" width="2.8" height="5" fill="#ababab"/>
<rect x="628.94" y="1553.30" width="2.8" height="5" fill="#ababab"/>
<rect x="639.76" y="1553.30" width="2.8" height="5" fill="#ababab"/>
<rect x="650.58" y="1553.30" width="2.8" height="5" fill="#ababab"/>
<rect x="661.40" y="1553.30" width="2.8" height="5" fill="#ababab"/>
<rect x="672.22" y="1553.30" width="2.8" height="5" fill="#ababab"/>
<rect x="683.04" y="1553.30" width="2.8" height="5" fill="#ababab"/>
<rect x="693.86" y="1553.30" width="2.8" height="5" fill="#ababab"/>
<rect x="704.68" y="1553.30" width="2.8" height="5" fill="#ababab"/>
<rect x="715.50" y="1553.30" width="2.8" height="5" fill="#ababab"/>
<rect x="726.32" y="1553.30" width="2.8" height="5" fill="#ababab"/>
<rect x="737.14" y="1553.30" width="2.8" height="5" fill="#ababab"/>
<rect x="747.96" y="1553.30" width="2.8" height="5" fill="#ababab"/>
<rect x="758.78" y="1553.30" width="2.8" height="5" fill="#ababab"/>
<rect x="769.60" y="1553.30" width="2.8" height="5" fill="#ababab"/>
<rect x="780.42" y="1553.30" width="2.8" height="5" fill="#ababab"/>
<rect x="791.24" y="1553.30" width="2.8" height="5" fill="#ababab"/>
<rect x="802.06" y="1553.30" width="2.8" height="5" fill="#ababab"/>
<rect x="812.88" y="1553.30" width="2.8" height="5" fill="#ababab"/>
<rect x="823.70" y="1553.30" width="2.8" height="5" fill="#ababab"/>
<rect x="834.52" y="1553.30" width="2.8" height="5" fill="#ababab"/>
<rect x="845.34" y="1553.30" width="2.8" height="5" fill="#ababab"/>
<rect x="856.16" y="1553.30" width="2.8" height="5" fill="#ababab"/>
<rect x="866.98" y="1553.30" width="2.8" height="5" fill="#ababab"/>
<rect x="877.80" y="1553.30" width="2.8" height="5" fill="#ababab"/>
<rect x="888.62" y="1553.30" width="2.8" height="5" fill="#ababab"/>
<rect x="899.44" y="1553.30" width="2.8" height="5" fill="#ababab"/>
<rect x="910.26" y="1553.30" width="2.8" height="5" fill="#ababab"/>
<rect x="921.08" y="1553.30" width="2.8" height="5" fill="#ababab"/>
<rect x="931.90" y="1553.30" width="2.8" height="5" fill="#ababab"/>
<rect x="942.72" y="1553.30" width="2.8" height="5" fill="#ababab"/>
<rect x="953.54" y="1553.30" width="2.8" height="5" fill="#ababab"/>
<rect x="964.36" y="1553.30" width="2.8" height="5" fill="#ababab"/>
<rect x="975.18" y="1553.30" width="2.8" height="5" fill="#ababab"/>
<rect x="986.00" y="1553.30" width="2.8" height="5" fill="#ababab"/>
<rect x="996.82" y="1553.30" width="2.8" height="5" fill="#ababab"/>
<rect x="1007.64" y="1553.30" width="2.8" height="5" fill="#ababab"/>
<rect x="1018.46" y="1553.30" width="2.8" height="5" fill="#ababab"/>
<rect x="1029.28" y="1553.30" width="2.8" height="5" fill="#ababab"/>
<rect x="1040.10" y="1553.30" width="2.8" height="5" fill="#ababab"/>
<rect x="1050.92" y="1553.30" width="2.8" height="5" fill="#ababab"/>
<polyline points="152.9,1083.0 153.9,1078.9 154.9,1075.2 155.9,1073.7 156.9,1072.6 157.9,1071.4 158.9,1071.2 159.9,1070.9 160.9,1071.2 161.9,1071.5 162.9,1072.1 163.9,1072.3 164.9,1072.9 165.9,1073.5 166.9,1074.0 167.9,1074.3 168.9,1075.6 169.9,1075.7 170.9,1076.7 171.9,1077.3 172.9,1078.2 173.9,1078.0 174.9,1079.7 175.9,1079.8 176.9,1080.1 177.9,1081.1 178.9,1082.2 179.9,1082.4 180.9,1082.6 181.9,1083.4 182.9,1084.5 183.9,1084.4 184.9,1085.4 185.9,1086.0 186.9,1087.3 187.9,1087.4 188.9,1088.6 189.9,1088.8 190.9,1089.5 191.9,1090.7 192.9,1091.4 193.9,1091.5 194.9,1092.8 195.9,1093.5 196.9,1093.9 197.9,1094.7 198.9,1095.4 199.9,1095.8 200.9,1096.4 201.9,1097.0 202.9,1097.7 203.9,1098.0 204.9,1098.9 205.9,1099.1 206.9,1100.0 207.9,1100.5 208.9,1100.8 209.9,1101.7 210.9,1102.5 211.9,1102.9 212.9,1102.7 213.9,1103.9 214.9,1104.2 215.9,1104.7 216.9,1105.2 217.9,1106.0 218.9,1107.0 219.9,1107.5 220.9,1108.1 221.9,1108.8 222.9,1109.6 223.9,1110.7 224.9,1111.9 225.9,1112.0 226.9,1113.3 227.9,1114.3 228.9,1115.2 229.9,1116.4 230.9,1117.2 231.9,1117.2 232.9,1117.8 233.9,1118.9 234.9,1119.1 235.9,1119.5 236.9,1119.6 237.9,1120.0 238.9,1120.5 239.9,1120.6 240.9,1120.8 241.9,1121.4 242.9,1121.9 243.9,1121.8 244.9,1122.6 245.9,1122.7 246.9,1122.6 247.9,1123.1 248.9,1123.4 249.9,1123.8 250.9,1124.1 251.9,1123.8 252.9,1124.1 253.9,1124.9 254.9,1125.0 255.9,1125.3 256.9,1125.5 257.9,1126.1 258.9,1125.7 259.9,1126.6 260.9,1126.4 261.9,1127.0 262.9,1127.5 263.9,1127.1 264.9,1127.8 265.9,1127.9 266.9,1128.2 267.9,1128.6 268.9,1128.6 269.9,1128.9 270.9,1129.5 271.9,1129.9 272.9,1129.8 273.9,1129.8 274.9,1131.0 275.9,1131.0 276.9,1131.1 277.9,1131.0 278.9,1131.4 279.9,1131.9 280.9,1131.8 281.9,1132.7 282.9,1132.6 283.9,1132.9 284.9,1132.8 285.9,1133.1 286.9,1133.4 287.9,1133.9 288.9,1134.0 289.9,1134.3 290.9,1134.6 291.9,1134.8 292.9,1135.4 293.9,1135.2 294.9,1135.2 295.9,1135.6 296.9,1136.2 297.9,1135.9 298.9,1136.3 299.9,1136.4 300.9,1136.8 301.9,1136.9 302.9,1136.9 303.9,1137.2 304.9,1137.7 305.9,1137.9 306.9,1138.0 307.9,1138.2 308.9,1138.1 309.9,1138.2 310.9,1138.7 311.9,1138.3 312.9,1138.7 313.9,1138.4 314.9,1138.9 315.9,1138.9 316.9,1138.9 317.9,1139.5 318.9,1139.2 319.9,1139.4 320.9,1139.6 321.9,1139.5 322.9,1140.2 323.9,1139.8 324.9,1140.1 325.9,1139.8 326.9,1140.1 327.9,1140.2 328.9,1140.3 329.9,1140.3 330.9,1140.6 331.9,1141.0 332.9,1140.6 333.9,1140.7 334.9,1140.7 335.9,1141.5 336.9,1141.3 337.9,1141.1 338.9,1141.1 339.9,1140.8 340.9,1141.0 341.9,1141.1 342.9,1141.1 343.9,1140.8 344.9,1140.9 345.9,1141.2 346.9,1141.2 347.9,1140.6 348.9,1141.2 349.9,1141.5 350.9,1141.0 351.9,1141.3 352.9,1140.9 353.9,1141.4 354.9,1141.0 355.9,1140.9 356.9,1141.2 357.9,1141.9 358.9,1141.1 359.9,1141.0 360.9,1141.4 361.9,1141.4 362.9,1141.7 363.9,1141.0 364.9,1141.0 365.9,1141.3 366.9,1141.5 367.9,1141.5 368.9,1141.6 369.9,1141.0 370.9,1141.2 371.9,1141.4 372.9,1141.6 373.9,1141.5 374.9,1141.3 375.9,1141.1 376.9,1141.6 377.9,1141.6 378.9,1142.0 379.9,1141.3 380.9,1141.7 381.9,1141.0 382.9,1141.1 383.9,1141.0 384.9,1141.0 385.9,1140.9 386.9,1140.9 387.9,1141.0 388.9,1140.8 389.9,1141.0 390.9,1140.8 391.9,1140.7 392.9,1141.0 393.9,1140.6 394.9,1140.5 395.9,1140.4 396.9,1140.4 397.9,1140.4 398.9,1140.0 399.9,1140.3 400.9,1140.3 401.9,1140.1 402.9,1139.6 403.9,1139.2 404.9,1139.4 405.9,1139.4 406.9,1139.4 407.9,1139.0 408.9,1138.9 409.9,1139.2 410.9,1138.5 411.9,1138.9 412.9,1138.7 413.9,1138.0 414.9,1138.3 415.9,1138.0 416.9,1137.7 417.9,1137.4 418.9,1137.3 419.9,1137.7 420.9,1137.3 421.9,1137.4 422.9,1136.9 423.9,1137.0 424.9,1136.9 425.9,1136.5 426.9,1136.3 427.9,1136.8 428.9,1136.6 429.9,1136.3 430.9,1136.4 431.9,1136.5 432.9,1136.8 433.9,1136.0 434.9,1136.3 435.9,1136.6 436.9,1136.1 437.9,1136.4 438.9,1135.3 439.9,1136.2 440.9,1135.8 441.9,1135.3 442.9,1136.0 443.9,1136.0 444.9,1136.0 445.9,1136.0 446.9,1135.7 447.9,1135.5 448.9,1135.6 449.9,1135.7 450.9,1135.8 451.9,1135.6 452.9,1135.7 453.9,1136.0 454.9,1135.9 455.9,1136.4 456.9,1136.4 457.9,1135.6 458.9,1135.7 459.9,1135.6 460.9,1135.7 461.9,1136.1 462.9,1135.8 463.9,1135.8 464.9,1136.0 465.9,1136.3 466.9,1136.1 467.9,1136.1 468.9,1136.5 469.9,1136.4 470.9,1136.4 471.9,1136.6 472.9,1136.2 473.9,1136.5 474.9,1136.4 475.9,1136.9 476.9,1136.9 477.9,1136.5 478.9,1137.2 479.9,1136.7 480.9,1137.4 481.9,1137.3 482.9,1137.1 483.9,1137.2 484.9,1137.8 485.9,1138.3 486.9,1138.6 487.9,1139.4 488.9,1139.4 489.9,1140.0 490.9,1140.1 491.9,1139.8 492.9,1140.4 493.9,1140.1 494.9,1139.9 495.9,1140.3 496.9,1140.3 497.9,1140.5 498.9,1140.0 499.9,1140.3 500.9,1140.1 501.9,1139.8 502.9,1139.6 503.9,1139.2 504.9,1138.9 505.9,1139.1 506.9,1139.1 507.9,1138.8 508.9,1138.6 509.9,1138.2 510.9,1138.7 511.9,1138.5 512.9,1138.1 513.9,1138.3 514.9,1138.4 515.9,1138.2 516.9,1138.3 517.9,1138.2 518.9,1137.6 519.9,1137.9 520.9,1138.0 521.9,1138.0 522.9,1138.1 523.9,1137.2 524.9,1137.6 525.9,1137.7 526.9,1137.7 527.9,1137.8 528.9,1137.1 529.9,1137.1 530.9,1136.9 531.9,1137.3 532.9,1136.7 533.9,1137.3 534.9,1137.2 535.9,1137.0 536.9,1136.3 537.9,1136.7 538.9,1137.0 539.9,1136.4 540.9,1136.7 541.9,1136.7 542.9,1137.0 543.9,1136.8 544.9,1136.8 545.9,1136.6 546.9,1136.7 547.9,1136.7 548.9,1136.9 549.9,1136.7 550.9,1137.0 551.9,1136.3 552.9,1137.0 553.9,1136.7 554.9,1137.0 555.9,1136.7 556.9,1136.9 557.9,1137.1 558.9,1136.7 559.9,1136.9 560.9,1136.9 561.9,1137.1 562.9,1136.7 563.9,1137.2 564.9,1137.3 565.9,1137.3 566.9,1137.5 567.9,1137.3 568.9,1138.2 569.9,1138.1 570.9,1138.6 571.9,1138.1 572.9,1138.3 573.9,1138.9 574.9,1138.7 575.9,1139.5 576.9,1139.7 577.9,1140.1 578.9,1140.6 579.9,1141.0 580.9,1141.8 581.9,1141.9 582.9,1141.9 583.9,1142.9 584.9,1142.8 585.9,1143.6 586.9,1143.8 587.9,1144.4 588.9,1145.5 589.9,1145.6 590.9,1146.2 591.9,1146.8 592.9,1147.5 593.9,1148.6 594.9,1148.6 595.9,1149.3 596.9,1150.5 597.9,1150.8 598.9,1151.9 599.9,1153.2 600.9,1153.8 601.9,1154.6 602.9,1155.5 603.9,1156.5 604.9,1157.6 605.9,1158.8 606.9,1160.1 607.9,1161.0 608.9,1161.7 609.9,1162.7 610.9,1164.2 611.9,1164.7 612.9,1166.2 613.9,1167.4 614.9,1168.4 615.9,1169.7 616.9,1171.3 617.9,1172.1 618.9,1173.6 619.9,1175.1 620.9,1176.8 621.9,1177.9 622.9,1180.2 623.9,1181.5 624.9,1183.2 625.9,1184.9 626.9,1186.5 627.9,1188.2 628.9,1190.5 629.9,1192.1 630.9,1193.8 631.9,1195.9 632.9,1197.3 633.9,1199.5 634.9,1201.2 635.9,1202.8 636.9,1205.1 637.9,1206.4 638.9,1208.9 639.9,1210.5 640.9,1212.8 641.9,1215.1 642.9,1216.9 643.9,1218.7 644.9,1221.0 645.9,1223.1 646.9,1225.2 647.9,1227.4 648.9,1230.1 649.9,1232.6 650.9,1234.5 651.9,1237.5 652.9,1240.4 653.9,1243.0 654.9,1245.6 655.9,1249.0 656.9,1251.3 657.9,1254.7 658.9,1257.9 659.9,1260.0 660.9,1263.5 661.9,1266.4 662.9,1269.3 663.9,1272.0 664.9,1275.0 665.9,1277.7 666.9,1281.1 667.9,1284.2 668.9,1286.9 669.9,1289.8 670.9,1292.9 671.9,1296.1 672.9,1299.1 673.9,1302.1 674.9,1305.2 675.9,1307.8 676.9,1310.5 677.9,1314.4 678.9,1317.6 679.9,1319.9 680.9,1323.2 681.9,1326.5 682.9,1329.7 683.9,1332.7 684.9,1335.9 685.9,1338.6 686.9,1341.7 687.9,1344.7 688.9,1347.5 689.9,1350.8 690.9,1353.6 691.9,1356.6 692.9,1359.1 693.9,1362.4 694.9,1364.7 695.9,1367.9 696.9,1370.0 697.9,1373.3 698.9,1376.5 699.9,1378.9 700.9,1381.8 701.9,1384.1 702.9,1387.5 703.9,1389.9 704.9,1392.3 705.9,1395.0 706.9,1397.5 707.9,1400.2 708.9,1402.3 709.9,1404.4 710.9,1407.0 711.9,1409.8 712.9,1412.0 713.9,1414.1 714.9,1416.6 715.9,1418.8 716.9,1421.2 717.9,1423.0 718.9,1425.4 719.9,1428.1 720.9,1430.1 721.9,1432.6 722.9,1435.2 723.9,1436.9 724.9,1439.3 725.9,1441.3 726.9,1443.4 727.9,1445.8 728.9,1447.6 729.9,1449.5 730.9,1452.4 731.9,1454.1 732.9,1456.4 733.9,1458.1 734.9,1460.1 735.9,1462.1 736.9,1464.0 737.9,1465.4 738.9,1467.8 739.9,1469.0 740.9,1471.1 741.9,1473.4 742.9,1474.6 743.9,1476.7 744.9,1477.9 745.9,1479.8 746.9,1481.3 747.9,1483.1 748.9,1484.4 749.9,1486.0 750.9,1487.9 751.9,1489.0 752.9,1490.8 753.9,1492.7 754.9,1493.9 755.9,1495.4 756.9,1497.0 757.9,1498.8 758.9,1500.3 759.9,1502.0 760.9,1503.4 761.9,1505.4 762.9,1506.4 763.9,1507.5 764.9,1509.5 765.9,1510.9 766.9,1512.3 767.9,1513.2 768.9,1515.2 769.9,1516.2 770.9,1517.4 771.9,1518.2 772.9,1519.9 773.9,1520.8 774.9,1522.2 775.9,1522.9 776.9,1523.7 777.9,1525.0 778.9,1525.8 779.9,1527.1 780.9,1527.7 781.9,1528.8 782.9,1529.7 783.9,1530.7 784.9,1531.4 785.9,1532.2 786.9,1533.2 787.9,1533.9 788.9,1534.9 789.9,1535.5 790.9,1535.8 791.9,1537.0 792.9,1538.1 793.9,1538.5 794.9,1539.2 795.9,1539.8 796.9,1540.2 797.9,1540.7 798.9,1541.8 799.9,1542.5 800.9,1543.0 801.9,1543.5 802.9,1544.1 803.9,1544.6 804.9,1545.2 805.9,1545.7 806.9,1546.3 807.9,1546.5 808.9,1547.1 809.9,1547.8 810.9,1548.1 811.9,1548.0 812.9,1549.0 813.9,1548.8 814.9,1550.1 815.9,1550.1 816.9,1550.4 817.9,1550.3 818.9,1550.4 819.9,1550.9 820.9,1551.1 821.9,1551.2 822.9,1551.6 823.9,1552.0 824.9,1552.2 825.9,1552.0 826.9,1551.9 827.9,1552.6 828.9,1552.7 829.9,1553.1 830.9,1553.6 831.9,1553.7 832.9,1553.6 833.9,1553.9 834.9,1554.2 835.9,1553.9 836.9,1554.1 837.9,1554.3 838.9,1554.2 839.9,1554.2 840.9,1554.2 841.9,1554.4 842.9,1554.3 843.9,1554.7 844.9,1554.4 845.9,1554.8 846.9,1554.8 847.9,1554.2 848.9,1554.7 849.9,1554.3 850.9,1554.7 851.9,1554.5 852.9,1554.3 853.9,1554.5 854.9,1554.1 855.9,1554.3 856.9,1554.3 857.9,1554.1 858.9,1554.2 859.9,1553.8 860.9,1554.1 861.9,1553.6 862.9,1554.0 863.9,1553.9 864.9,1553.9 865.9,1553.6 866.9,1554.4 867.9,1553.5 868.9,1553.6 869.9,1553.3 870.9,1553.8 871.9,1553.3 872.9,1553.5 873.9,1553.0 874.9,1553.2 875.9,1553.0 876.9,1553.2 877.9,1552.8 878.9,1552.5 879.9,1552.7 880.9,1552.2 881.9,1552.2 882.9,1552.5 883.9,1551.7 884.9,1552.3 885.9,1551.9 886.9,1551.6 887.9,1551.8 888.9,1551.8 889.9,1551.4 890.9,1551.3 891.9,1551.5 892.9,1551.3 893.9,1551.0 894.9,1550.8 895.9,1550.6 896.9,1550.6 897.9,1550.8 898.9,1550.7 899.9,1550.6 900.9,1550.8 901.9,1550.3 902.9,1550.2 903.9,1550.1 904.9,1550.6 905.9,1549.6 906.9,1550.1 907.9,1550.0 908.9,1549.9 909.9,1550.3 910.9,1550.0 911.9,1549.8 912.9,1549.4 913.9,1549.6 914.9,1549.4 915.9,1549.4 916.9,1549.4 917.9,1549.1 918.9,1549.3 919.9,1549.5 920.9,1549.3 921.9,1549.1 922.9,1548.5 923.9,1549.1 924.9,1549.1 925.9,1548.7 926.9,1548.6 927.9,1548.8 928.9,1548.4 929.9,1548.7 930.9,1548.2 931.9,1548.2 932.9,1548.4 933.9,1548.0 934.9,1548.3 935.9,1548.3 936.9,1547.8 937.9,1548.3 938.9,1547.9 939.9,1548.1 940.9,1548.0 941.9,1547.8 942.9,1547.7 943.9,1547.4 944.9,1547.6 945.9,1547.5 946.9,1548.0 947.9,1547.8 948.9,1547.2 949.9,1547.7 950.9,1547.5 951.9,1547.3 952.9,1547.5 953.9,1547.5 954.9,1547.1 955.9,1547.2 956.9,1547.2 957.9,1546.9 958.9,1547.1 959.9,1547.0 960.9,1546.8 961.9,1546.8 962.9,1547.0 963.9,1547.1 964.9,1546.9 965.9,1546.6 966.9,1546.9 967.9,1546.8 968.9,1546.8 969.9,1546.9 970.9,1546.4 971.9,1546.5 972.9,1546.4 973.9,1546.3 974.9,1546.9 975.9,1546.6 976.9,1546.0 977.9,1546.4 978.9,1546.2 979.9,1546.5 980.9,1546.2 981.9,1546.1 982.9,1546.2 983.9,1546.2 984.9,1546.1 985.9,1546.0 986.9,1546.0 987.9,1546.1 988.9,1545.7 989.9,1545.9 990.9,1545.8 991.9,1545.7 992.9,1545.9 993.9,1545.4 994.9,1545.6 995.9,1545.5 996.9,1545.7 997.9,1545.5 998.9,1545.6 999.9,1545.6 1000.9,1545.1 1001.9,1545.5 1002.9,1545.2 1003.9,1545.3 1004.9,1545.3 1005.9,1545.4 1006.9,1545.4 1007.9,1545.6 1008.9,1545.2 1009.9,1545.0 1010.9,1544.9 1011.9,1545.2 1012.9,1545.3 1013.9,1545.0 1014.9,1544.7 1015.9,1544.9 1016.9,1544.9 1017.9,1544.8 1018.9,1544.5 1019.9,1544.1 1020.9,1544.5 1021.9,1544.8 1022.9,1544.6 1023.9,1544.0 1024.9,1544.5 1025.9,1544.0 1026.9,1544.8 1027.9,1544.4 1028.9,1544.0 1029.9,1544.4 1030.9,1544.0 1031.9,1544.3 1032.9,1544.1 1033.9,1543.8 1034.9,1544.2 1035.9,1543.7 1036.9,1544.3 1037.9,1543.9 1038.9,1543.6 1039.9,1543.4 1040.9,1544.2 1041.9,1544.1 1042.9,1543.4 1043.9,1544.1 1044.9,1543.7 1045.9,1543.6 1046.9,1543.6 1047.9,1543.5 1048.9,1543.9 1049.9,1543.5 1050.9,1543.0 1051.9,1543.9 1052.9,1543.6 1053.9,1543.1 1054.9,1543.3 1055.9,1543.1 1056.9,1543.3 1057.9,1543.3 1058.9,1543.3 1059.9,1543.0 1060.9,1543.0 1061.9,1543.3 1062.9,1543.1 1063.9,1543.6 1064.9,1542.8 1065.9,1543.2 1066.9,1543.0 1067.9,1542.8 1068.9,1543.2 1069.9,1542.9 1070.9,1542.6 1071.9,1542.7 1072.9,1543.0 1073.9,1542.5 1074.9,1543.0 1075.9,1542.9 1076.9,1542.6 1077.9,1543.0 1078.9,1543.0 1079.9,1542.7 1080.9,1542.6 1081.9,1543.0 1082.9,1542.9 1083.9,1542.3 1084.9,1542.4 1085.9,1542.4 1086.9,1542.3 1087.9,1542.0 1088.9,1542.6 1089.9,1542.4 1090.9,1542.4 1091.9,1542.6 1092.9,1542.2 1093.9,1542.3 1094.9,1542.3 1095.9,1542.1 1096.9,1542.2 1097.9,1542.4 1098.9,1542.2 1099.9,1542.5 1100.9,1542.0 1101.9,1542.2 1102.9,1541.8 1103.9,1542.1 1104.9,1542.0 1105.9,1542.5 1106.9,1542.3 1107.9,1542.2 1108.9,1542.6 1109.9,1542.4 1110.9,1542.3 1111.9,1541.9 1112.9,1541.7 1113.9,1542.1 1114.9,1542.0 1115.9,1541.9 1116.9,1542.0 1117.9,1541.7 1118.9,1542.4 1119.9,1541.8 1120.9,1541.9 1121.9,1542.2 1122.9,1541.6 1123.9,1542.2 1124.9,1542.2 1125.9,1541.9 1126.9,1541.7 1127.9,1541.9 1128.9,1541.5 1129.9,1542.3 1130.9,1542.0 1131.9,1541.8 1132.9,1541.7 1133.9,1542.1 1134.9,1542.3 1135.9,1541.6 1136.9,1541.8 1137.9,1541.5 1138.9,1542.1 1139.9,1542.0 1140.9,1542.5 1141.9,1541.9 1142.9,1541.8 1143.9,1541.7 1144.9,1542.1 1145.9,1541.5 1146.9,1542.1 1147.9,1541.9 1148.9,1541.8 1149.9,1541.7 1150.9,1542.1 1151.9,1542.3 1152.9,1541.8 1153.9,1542.0 1154.9,1542.3 1155.9,1541.7 1156.9,1541.8 1157.9,1541.5 1158.9,1541.8 1159.9,1541.8 1160.9,1541.7 1161.9,1541.6 1162.9,1541.4" fill="none" stroke="#000" stroke-width="5.0" stroke-linejoin="round" />
<line x1="855.30" y1="1157.00" x2="855.30" y2="1306.50" stroke="#707070" stroke-width="2.6" />
<line x1="856.20" y1="1376.00" x2="856.20" y2="1528.00" stroke="#707070" stroke-width="2.6" />
<polygon points="855.3,1144.5 851.3,1160.3 859.3,1160.3" fill="#111"/>
<polygon points="856.2,1541 852.2,1526 860.2,1526" fill="#111"/>
<text transform="translate(794.18,1350.48) scale(0.9624,1)" font-size="41.95" font-family="Liberation Sans, Arial, sans-serif" fill="#000" stroke="#000" stroke-width="0.4">28% C</text>
<line x1="152.40" y1="1009.00" x2="1165.30" y2="1009.00" stroke="#222" stroke-width="3" />
<line x1="152.40" y1="1007.50" x2="152.40" y2="1833.50" stroke="#8c8c8c" stroke-width="4.5" />
<line x1="1163.70" y1="1007.50" x2="1163.70" y2="1833.50" stroke="#aaaaaa" stroke-width="2.6" />
<line x1="1166.30" y1="1007.50" x2="1166.30" y2="1833.50" stroke="#2e2e2e" stroke-width="2.6" />
<line x1="150.40" y1="1832.00" x2="1165.30" y2="1832.00" stroke="#3a3a3a" stroke-width="3" />
<line x1="1163.40" y1="1544.50" x2="1163.40" y2="1529.00" stroke="#111" stroke-width="2.6" />
<line x1="135.90" y1="1832.00" x2="150.90" y2="1832.00" stroke="#555" stroke-width="3" />
<line x1="143.80" y1="1794.59" x2="150.90" y2="1794.59" stroke="#555" stroke-width="3" />
<line x1="135.90" y1="1757.18" x2="150.90" y2="1757.18" stroke="#555" stroke-width="3" />
<line x1="143.80" y1="1719.77" x2="150.90" y2="1719.77" stroke="#555" stroke-width="3" />
<line x1="135.90" y1="1682.36" x2="150.90" y2="1682.36" stroke="#555" stroke-width="3" />
<line x1="143.80" y1="1644.95" x2="150.90" y2="1644.95" stroke="#555" stroke-width="3" />
<line x1="135.90" y1="1607.55" x2="150.90" y2="1607.55" stroke="#555" stroke-width="3" />
<line x1="143.80" y1="1570.14" x2="150.90" y2="1570.14" stroke="#555" stroke-width="3" />
<line x1="135.90" y1="1532.73" x2="150.90" y2="1532.73" stroke="#555" stroke-width="3" />
<line x1="143.80" y1="1495.32" x2="150.90" y2="1495.32" stroke="#555" stroke-width="3" />
<line x1="135.90" y1="1457.91" x2="150.90" y2="1457.91" stroke="#555" stroke-width="3" />
<line x1="143.80" y1="1420.50" x2="150.90" y2="1420.50" stroke="#555" stroke-width="3" />
<line x1="135.90" y1="1383.09" x2="150.90" y2="1383.09" stroke="#555" stroke-width="3" />
<line x1="143.80" y1="1345.68" x2="150.90" y2="1345.68" stroke="#555" stroke-width="3" />
<line x1="135.90" y1="1308.27" x2="150.90" y2="1308.27" stroke="#555" stroke-width="3" />
<line x1="143.80" y1="1270.86" x2="150.90" y2="1270.86" stroke="#555" stroke-width="3" />
<line x1="135.90" y1="1233.45" x2="150.90" y2="1233.45" stroke="#555" stroke-width="3" />
<line x1="143.80" y1="1196.05" x2="150.90" y2="1196.05" stroke="#555" stroke-width="3" />
<line x1="135.90" y1="1158.64" x2="150.90" y2="1158.64" stroke="#555" stroke-width="3" />
<line x1="143.80" y1="1121.23" x2="150.90" y2="1121.23" stroke="#555" stroke-width="3" />
<line x1="135.90" y1="1083.82" x2="150.90" y2="1083.82" stroke="#555" stroke-width="3" />
<line x1="143.80" y1="1046.41" x2="150.90" y2="1046.41" stroke="#555" stroke-width="3" />
<line x1="135.90" y1="1009.00" x2="150.90" y2="1009.00" stroke="#555" stroke-width="3" />
<line x1="185.18" y1="1833.50" x2="185.18" y2="1840.60" stroke="#666" stroke-width="3" />
<line x1="250.50" y1="1833.50" x2="250.50" y2="1849.00" stroke="#666" stroke-width="3" />
<line x1="315.82" y1="1833.50" x2="315.82" y2="1840.60" stroke="#666" stroke-width="3" />
<line x1="381.14" y1="1833.50" x2="381.14" y2="1849.00" stroke="#666" stroke-width="3" />
<line x1="446.46" y1="1833.50" x2="446.46" y2="1840.60" stroke="#666" stroke-width="3" />
<line x1="511.79" y1="1833.50" x2="511.79" y2="1849.00" stroke="#666" stroke-width="3" />
<line x1="577.11" y1="1833.50" x2="577.11" y2="1840.60" stroke="#666" stroke-width="3" />
<line x1="642.43" y1="1833.50" x2="642.43" y2="1849.00" stroke="#666" stroke-width="3" />
<line x1="707.75" y1="1833.50" x2="707.75" y2="1840.60" stroke="#666" stroke-width="3" />
<line x1="773.07" y1="1833.50" x2="773.07" y2="1849.00" stroke="#666" stroke-width="3" />
<line x1="838.39" y1="1833.50" x2="838.39" y2="1840.60" stroke="#666" stroke-width="3" />
<line x1="903.71" y1="1833.50" x2="903.71" y2="1849.00" stroke="#666" stroke-width="3" />
<line x1="969.04" y1="1833.50" x2="969.04" y2="1840.60" stroke="#666" stroke-width="3" />
<line x1="1034.36" y1="1833.50" x2="1034.36" y2="1849.00" stroke="#666" stroke-width="3" />
<line x1="1099.68" y1="1833.50" x2="1099.68" y2="1840.60" stroke="#666" stroke-width="3" />
<line x1="1165.00" y1="1833.50" x2="1165.00" y2="1849.00" stroke="#666" stroke-width="3" />
<text transform="translate(220.68,1888.21) scale(0.9087,1)" font-size="38.84" font-family="Liberation Sans, Arial, sans-serif" font-weight="bold" fill="#000">100</text>
<text transform="translate(351.81,1888.21) scale(0.9087,1)" font-size="38.84" font-family="Liberation Sans, Arial, sans-serif" font-weight="bold" fill="#000">200</text>
<text transform="translate(482.67,1888.21) scale(0.9087,1)" font-size="38.84" font-family="Liberation Sans, Arial, sans-serif" font-weight="bold" fill="#000">300</text>
<text transform="translate(613.45,1888.21) scale(0.9087,1)" font-size="38.84" font-family="Liberation Sans, Arial, sans-serif" font-weight="bold" fill="#000">400</text>
<text transform="translate(743.81,1888.21) scale(0.9087,1)" font-size="38.84" font-family="Liberation Sans, Arial, sans-serif" font-weight="bold" fill="#000">500</text>
<text transform="translate(874.35,1888.21) scale(0.9087,1)" font-size="38.84" font-family="Liberation Sans, Arial, sans-serif" font-weight="bold" fill="#000">600</text>
<text transform="translate(1004.89,1888.21) scale(0.9087,1)" font-size="38.84" font-family="Liberation Sans, Arial, sans-serif" font-weight="bold" fill="#000">700</text>
<text transform="translate(1135.72,1888.21) scale(0.9087,1)" font-size="38.84" font-family="Liberation Sans, Arial, sans-serif" font-weight="bold" fill="#000">800</text>
<text transform="translate(89.77,1842.62) scale(0.9401,1)" font-size="37.57" font-family="Liberation Sans, Arial, sans-serif" font-weight="bold" fill="#000">50</text>
<text transform="translate(89.31,1767.43) scale(0.9401,1)" font-size="37.57" font-family="Liberation Sans, Arial, sans-serif" font-weight="bold" fill="#000">55</text>
<text transform="translate(89.77,1692.99) scale(0.9401,1)" font-size="37.57" font-family="Liberation Sans, Arial, sans-serif" font-weight="bold" fill="#000">60</text>
<text transform="translate(89.31,1618.17) scale(0.9401,1)" font-size="37.57" font-family="Liberation Sans, Arial, sans-serif" font-weight="bold" fill="#000">65</text>
<text transform="translate(89.77,1543.35) scale(0.9401,1)" font-size="37.57" font-family="Liberation Sans, Arial, sans-serif" font-weight="bold" fill="#000">70</text>
<text transform="translate(89.31,1468.16) scale(0.9401,1)" font-size="37.57" font-family="Liberation Sans, Arial, sans-serif" font-weight="bold" fill="#000">75</text>
<text transform="translate(89.77,1393.72) scale(0.9401,1)" font-size="37.57" font-family="Liberation Sans, Arial, sans-serif" font-weight="bold" fill="#000">80</text>
<text transform="translate(89.31,1318.90) scale(0.9401,1)" font-size="37.57" font-family="Liberation Sans, Arial, sans-serif" font-weight="bold" fill="#000">85</text>
<text transform="translate(89.77,1244.08) scale(0.9401,1)" font-size="37.57" font-family="Liberation Sans, Arial, sans-serif" font-weight="bold" fill="#000">90</text>
<text transform="translate(89.31,1169.26) scale(0.9401,1)" font-size="37.57" font-family="Liberation Sans, Arial, sans-serif" font-weight="bold" fill="#000">95</text>
<text transform="translate(70.13,1094.44) scale(0.9401,1)" font-size="37.57" font-family="Liberation Sans, Arial, sans-serif" font-weight="bold" fill="#000">100</text>
<text transform="translate(69.67,1019.62) scale(0.9401,1)" font-size="37.57" font-family="Liberation Sans, Arial, sans-serif" font-weight="bold" fill="#000">105</text>
<text transform="translate(494.65,1942.26) scale(0.9558,1)" font-size="42.98" font-family="Liberation Sans, Arial, sans-serif" font-weight="bold" fill="#000">Temperature (</text>
<text transform="translate(782.39,1942.26) scale(0.9703,1)" font-size="42.98" font-family="Liberation Sans, Arial, sans-serif" font-weight="bold" fill="#000">C)</text>
<text transform="translate(768.64,1916.75) scale(0.7805,1)" font-size="25.00" font-family="Liberation Sans, Arial, sans-serif" font-weight="bold" fill="#000">o</text>
<text transform="translate(48.24,1565.75) rotate(-90) scale(0.9607,1)" font-size="46.96" font-family="Liberation Sans, Arial, sans-serif" font-weight="bold" fill="#000">Weight (%)</text>
<text transform="translate(1047.37,1092.09) scale(1.0426,1)" font-size="68.14" font-family="Liberation Serif, serif" font-weight="bold" fill="#000">(c)</text>
<polyline points="1323.5,1765.2 1323.8,1767.0 1324.2,1774.0 1324.5,1767.7 1324.8,1765.4 1325.1,1770.5 1325.5,1770.1 1325.8,1764.8 1326.1,1763.9 1326.5,1768.9 1326.8,1765.9 1327.1,1757.4 1327.5,1764.5 1327.8,1765.1 1328.1,1770.0 1328.4,1759.1 1328.8,1767.2 1329.1,1765.9 1329.4,1758.3 1329.8,1768.5 1330.1,1770.9 1330.4,1758.7 1330.8,1772.9 1331.1,1759.7 1331.4,1760.6 1331.7,1763.1 1332.1,1766.8 1332.4,1768.2 1332.7,1763.7 1333.1,1770.5 1333.4,1766.9 1333.7,1771.6 1334.1,1778.7 1334.4,1768.5 1334.7,1754.4 1335.0,1765.8 1335.4,1761.5 1335.7,1768.1 1336.0,1767.6 1336.4,1762.3 1336.7,1761.4 1337.0,1764.8 1337.4,1763.5 1337.7,1753.1 1338.0,1769.9 1338.3,1765.1 1338.7,1765.8 1339.0,1767.9 1339.3,1760.8 1339.7,1767.4 1340.0,1772.1 1340.3,1774.2 1340.7,1771.0 1341.0,1768.0 1341.3,1765.8 1341.6,1775.1 1342.0,1769.2 1342.3,1765.8 1342.6,1755.4 1343.0,1761.6 1343.3,1755.9 1343.6,1771.4 1344.0,1767.6 1344.3,1764.7 1344.6,1767.9 1344.9,1783.6 1345.3,1776.2 1345.6,1763.5 1345.9,1770.2 1346.3,1764.0 1346.6,1761.1 1346.9,1768.3 1347.3,1775.8 1347.6,1771.9 1347.9,1765.7 1348.2,1761.6 1348.6,1765.8 1348.9,1771.1 1349.2,1759.4 1349.6,1756.9 1349.9,1773.5 1350.2,1768.1 1350.6,1775.3 1350.9,1766.4 1351.2,1773.6 1351.5,1762.7 1351.9,1766.1 1352.2,1771.0 1352.5,1769.4 1352.9,1762.6 1353.2,1770.3 1353.5,1760.8 1353.9,1758.0 1354.2,1768.4 1354.5,1773.3 1354.8,1770.8 1355.2,1761.2 1355.5,1770.4 1355.8,1770.9 1356.2,1764.3 1356.5,1755.4 1356.8,1772.1 1357.2,1770.4 1357.5,1766.7 1357.8,1756.0 1358.1,1756.5 1358.5,1770.4 1358.8,1768.7 1359.1,1765.7 1359.5,1760.6 1359.8,1763.8 1360.1,1759.3 1360.5,1763.3 1360.8,1760.8 1361.1,1765.3 1361.4,1761.0 1361.8,1767.0 1362.1,1765.9 1362.4,1757.1 1362.8,1768.3 1363.1,1752.6 1363.4,1759.4 1363.8,1762.3 1364.1,1763.9 1364.4,1748.2 1364.7,1763.1 1365.1,1765.5 1365.4,1769.1 1365.7,1752.2 1366.1,1762.3 1366.4,1763.1 1366.7,1760.3 1367.1,1768.6 1367.4,1758.0 1367.7,1768.0 1368.0,1761.4 1368.4,1750.9 1368.7,1753.7 1369.0,1757.2 1369.4,1762.7 1369.7,1768.3 1370.0,1761.6 1370.4,1766.8 1370.7,1753.7 1371.0,1748.8 1371.3,1762.6 1371.7,1766.1 1372.0,1759.7 1372.3,1754.8 1372.7,1761.0 1373.0,1771.0 1373.3,1761.2 1373.7,1759.0 1374.0,1757.4 1374.3,1770.8 1374.6,1762.0 1375.0,1765.7 1375.3,1770.4 1375.6,1770.7 1376.0,1758.2 1376.3,1768.8 1376.6,1769.6 1377.0,1769.5 1377.3,1773.1 1377.6,1763.3 1377.9,1764.4 1378.3,1760.2 1378.6,1767.1 1378.9,1760.1 1379.3,1762.8 1379.6,1755.9 1379.9,1760.4 1380.3,1757.4 1380.6,1762.0 1380.9,1762.2 1381.2,1761.5 1381.6,1759.9 1381.9,1752.5 1382.2,1768.0 1382.6,1757.1 1382.9,1758.5 1383.2,1754.7 1383.6,1762.2 1383.9,1753.8 1384.2,1761.1 1384.5,1764.1 1384.9,1765.2 1385.2,1763.6 1385.5,1762.8 1385.9,1751.6 1386.2,1765.1 1386.5,1764.7 1386.9,1761.8 1387.2,1759.8 1387.5,1757.3 1387.8,1754.2 1388.2,1760.9 1388.5,1762.3 1388.8,1752.1 1389.2,1760.6 1389.5,1754.3 1389.8,1757.7 1390.2,1754.3 1390.5,1759.5 1390.8,1761.0 1391.1,1759.7 1391.5,1748.9 1391.8,1761.3 1392.1,1758.2 1392.5,1755.6 1392.8,1765.9 1393.1,1756.3 1393.5,1763.8 1393.8,1765.5 1394.1,1756.1 1394.4,1760.7 1394.8,1756.9 1395.1,1759.0 1395.4,1747.3 1395.8,1757.4 1396.1,1755.4 1396.4,1760.2 1396.8,1756.4 1397.1,1761.7 1397.4,1757.3 1397.7,1758.2 1398.1,1760.6 1398.4,1755.9 1398.7,1759.7 1399.1,1756.8 1399.4,1757.1 1399.7,1752.5 1400.1,1756.4 1400.4,1758.2 1400.7,1754.9 1401.0,1760.7 1401.4,1759.8 1401.7,1751.9 1402.0,1759.2 1402.4,1765.4 1402.7,1755.6 1403.0,1750.9 1403.4,1762.8 1403.7,1758.6 1404.0,1769.6 1404.3,1759.2 1404.7,1758.7 1405.0,1754.6 1405.3,1757.4 1405.7,1753.3 1406.0,1752.7 1406.3,1755.1 1406.7,1750.1 1407.0,1761.9 1407.3,1750.8 1407.6,1755.8 1408.0,1754.0 1408.3,1750.1 1408.6,1767.7 1409.0,1749.7 1409.3,1767.1 1409.6,1754.1 1410.0,1761.1 1410.3,1770.5 1410.6,1749.1 1410.9,1754.3 1411.3,1768.7 1411.6,1763.7 1411.9,1759.3 1412.3,1762.4 1412.6,1756.7 1412.9,1761.1 1413.3,1767.9 1413.6,1759.2 1413.9,1761.2 1414.2,1766.6 1414.6,1766.8 1414.9,1754.9 1415.2,1757.9 1415.6,1753.2 1415.9,1751.6 1416.2,1752.6 1416.6,1752.2 1416.9,1744.6 1417.2,1741.1 1417.5,1748.7 1417.9,1753.9 1418.2,1758.7 1418.5,1752.2 1418.9,1755.0 1419.2,1759.0 1419.5,1759.7 1419.9,1755.7 1420.2,1757.4 1420.5,1766.2 1420.8,1755.2 1421.2,1757.3 1421.5,1750.5 1421.8,1761.1 1422.2,1756.1 1422.5,1765.3 1422.8,1754.3 1423.2,1762.0 1423.5,1763.0 1423.8,1766.8 1424.1,1749.2 1424.5,1763.8 1424.8,1755.7 1425.1,1757.3 1425.5,1754.5 1425.8,1755.3 1426.1,1754.7 1426.5,1747.1 1426.8,1760.4 1427.1,1758.6 1427.4,1753.5 1427.8,1758.1 1428.1,1768.6 1428.4,1762.8 1428.8,1758.5 1429.1,1767.8 1429.4,1755.3 1429.8,1757.3 1430.1,1760.0 1430.4,1761.9 1430.7,1766.0 1431.1,1765.4 1431.4,1758.7 1431.7,1761.8 1432.1,1761.3 1432.4,1756.7 1432.7,1759.5 1433.1,1753.3 1433.4,1750.4 1433.7,1751.7 1434.0,1747.0 1434.4,1753.8 1434.7,1751.9 1435.0,1748.7 1435.4,1752.4 1435.7,1752.5 1436.0,1753.7 1436.4,1757.6 1436.7,1759.4 1437.0,1757.2 1437.3,1769.2 1437.7,1765.6 1438.0,1762.9 1438.3,1765.3 1438.7,1762.2 1439.0,1759.7 1439.3,1761.2 1439.7,1773.3 1440.0,1765.4 1440.3,1765.7 1440.6,1759.9 1441.0,1766.2 1441.3,1775.5 1441.6,1768.6 1442.0,1772.8 1442.3,1775.1 1442.6,1771.6 1443.0,1774.5 1443.3,1766.2 1443.6,1769.5 1443.9,1763.7 1444.3,1779.7 1444.6,1767.8 1444.9,1766.1 1445.3,1774.5 1445.6,1764.9 1445.9,1768.6 1446.3,1766.6 1446.6,1767.4 1446.9,1764.1 1447.2,1767.5 1447.6,1764.4 1447.9,1762.4 1448.2,1762.0 1448.6,1763.0 1448.9,1761.8 1449.2,1770.4 1449.6,1771.4 1449.9,1769.3 1450.2,1761.0 1450.5,1770.4 1450.9,1763.2 1451.2,1768.8 1451.5,1770.8 1451.9,1767.2 1452.2,1764.9 1452.5,1763.8 1452.9,1778.3 1453.2,1770.2 1453.5,1769.3 1453.8,1775.5 1454.2,1774.0 1454.5,1774.5 1454.8,1765.1 1455.2,1766.7 1455.5,1787.7 1455.8,1771.6 1456.2,1771.1 1456.5,1773.7 1456.8,1776.9 1457.1,1767.4 1457.5,1775.5 1457.8,1775.7 1458.1,1777.6 1458.5,1775.8 1458.8,1775.2 1459.1,1776.2 1459.5,1769.4 1459.8,1785.2 1460.1,1772.3 1460.4,1779.1 1460.8,1787.0 1461.1,1777.4 1461.4,1783.4 1461.8,1779.2 1462.1,1781.9 1462.4,1781.1 1462.8,1780.2 1463.1,1790.5 1463.4,1782.0 1463.7,1777.6 1464.1,1784.5 1464.4,1789.1 1464.7,1781.3 1465.1,1789.7 1465.4,1788.3 1465.7,1794.7 1466.1,1781.5 1466.4,1786.3 1466.7,1776.8 1467.0,1782.0 1467.4,1783.2 1467.7,1783.8 1468.0,1781.2 1468.4,1778.6 1468.7,1774.8 1469.0,1774.3 1469.4,1779.3 1469.7,1778.6 1470.0,1779.5 1470.3,1781.4 1470.7,1782.4 1471.0,1768.5 1471.3,1775.7 1471.7,1776.1 1472.0,1776.2 1472.3,1783.9 1472.7,1782.0 1473.0,1777.0 1473.3,1777.7 1473.6,1781.8 1474.0,1774.8 1474.3,1776.4 1474.6,1783.1 1475.0,1778.6 1475.3,1782.0 1475.6,1779.5 1476.0,1780.1 1476.3,1775.6 1476.6,1774.2 1476.9,1778.8 1477.3,1765.2 1477.6,1777.8 1477.9,1781.3 1478.3,1779.8 1478.6,1776.3 1478.9,1783.6 1479.3,1776.7 1479.6,1781.4 1479.9,1786.4 1480.2,1780.1 1480.6,1784.7 1480.9,1782.9 1481.2,1779.4 1481.6,1778.8 1481.9,1775.8 1482.2,1779.1 1482.6,1767.3 1482.9,1771.2 1483.2,1776.2 1483.5,1767.8 1483.9,1770.8 1484.2,1767.0 1484.5,1772.7 1484.9,1775.9 1485.2,1781.2 1485.5,1775.3 1485.9,1771.0 1486.2,1773.9 1486.5,1774.0 1486.8,1806.7 1487.2,1760.4 1487.5,1770.2 1487.8,1759.2 1488.2,1769.5 1488.5,1769.9 1488.8,1772.7 1489.2,1776.1 1489.5,1774.4 1489.8,1772.1 1490.1,1778.2 1490.5,1783.1 1490.8,1779.9 1491.1,1779.7 1491.5,1772.5 1491.8,1780.7 1492.1,1772.7 1492.5,1770.6 1492.8,1770.8 1493.1,1768.5 1493.4,1770.5 1493.8,1775.4 1494.1,1774.3 1494.4,1776.4 1494.8,1776.0 1495.1,1762.7 1495.4,1770.5 1495.8,1774.8 1496.1,1779.0 1496.4,1763.6 1496.7,1762.8 1497.1,1771.7 1497.4,1768.5 1497.7,1764.9 1498.1,1771.3 1498.4,1765.0 1498.7,1757.8 1499.1,1768.9 1499.4,1767.3 1499.7,1769.8 1500.0,1771.1 1500.4,1767.1 1500.7,1766.7 1501.0,1765.0 1501.4,1759.0 1501.7,1765.6 1502.0,1769.7 1502.4,1770.7 1502.7,1776.9 1503.0,1765.4 1503.3,1757.9 1503.7,1768.9 1504.0,1769.3 1504.3,1760.5 1504.7,1755.4 1505.0,1766.1 1505.3,1768.5 1505.7,1761.8 1506.0,1765.3 1506.3,1761.8 1506.6,1760.0 1507.0,1760.1 1507.3,1766.8 1507.6,1765.7 1508.0,1763.0 1508.3,1753.3 1508.6,1770.5 1509.0,1760.8 1509.3,1765.7 1509.6,1762.0 1509.9,1770.2 1510.3,1760.4 1510.6,1768.3 1510.9,1768.7 1511.3,1773.4 1511.6,1766.7 1511.9,1767.2 1512.3,1770.5 1512.6,1781.7 1512.9,1763.9 1513.2,1772.6 1513.6,1769.2 1513.9,1772.3 1514.2,1774.6 1514.6,1770.0 1514.9,1770.3 1515.2,1771.3 1515.6,1767.5 1515.9,1769.8 1516.2,1762.8 1516.5,1767.2 1516.9,1765.5 1517.2,1768.8 1517.5,1774.6 1517.9,1774.3 1518.2,1773.1 1518.5,1776.4 1518.9,1758.9 1519.2,1772.6 1519.5,1770.0 1519.8,1769.9 1520.2,1763.5 1520.5,1771.0 1520.8,1771.7 1521.2,1771.0 1521.5,1763.1 1521.8,1766.6 1522.2,1766.8 1522.5,1772.8 1522.8,1770.8 1523.1,1764.8 1523.5,1765.2 1523.8,1766.5 1524.1,1766.7 1524.5,1764.6 1524.8,1772.2 1525.1,1766.5 1525.5,1765.1 1525.8,1768.5 1526.1,1766.1 1526.4,1767.3 1526.8,1758.8 1527.1,1771.5 1527.4,1767.5 1527.8,1766.2 1528.1,1768.3 1528.4,1767.7 1528.8,1764.2 1529.1,1773.8 1529.4,1760.7 1529.7,1768.2 1530.1,1772.6 1530.4,1763.4 1530.7,1766.6 1531.1,1762.1 1531.4,1770.7 1531.7,1764.0 1532.1,1761.9 1532.4,1774.5 1532.7,1772.3 1533.0,1765.7 1533.4,1773.3 1533.7,1770.5 1534.0,1782.4 1534.4,1777.5 1534.7,1765.7 1535.0,1765.1 1535.4,1765.4 1535.7,1770.9 1536.0,1770.6 1536.3,1772.7 1536.7,1768.2 1537.0,1762.1 1537.3,1765.0 1537.7,1777.3 1538.0,1777.2 1538.3,1768.9 1538.7,1766.5 1539.0,1764.9 1539.3,1767.9 1539.6,1761.1 1540.0,1770.4 1540.3,1762.8 1540.6,1766.3 1541.0,1755.9 1541.3,1769.1 1541.6,1775.8 1542.0,1758.3 1542.3,1775.0 1542.6,1771.8 1542.9,1765.8 1543.3,1761.9 1543.6,1773.7 1543.9,1770.0 1544.3,1770.9 1544.6,1765.9 1544.9,1765.6 1545.3,1774.9 1545.6,1766.2 1545.9,1776.7 1546.2,1765.6 1546.6,1769.9 1546.9,1765.8 1547.2,1778.5 1547.6,1764.6 1547.9,1767.3 1548.2,1774.4 1548.6,1772.1 1548.9,1780.8 1549.2,1779.0 1549.5,1772.2 1549.9,1772.3 1550.2,1760.1 1550.5,1763.2 1550.9,1765.6 1551.2,1765.2 1551.5,1758.4 1551.9,1758.8 1552.2,1760.2 1552.5,1770.1 1552.8,1769.0 1553.2,1766.6 1553.5,1768.4 1553.8,1771.5 1554.2,1768.8 1554.5,1772.2 1554.8,1765.5 1555.2,1775.3 1555.5,1775.8 1555.8,1771.8 1556.1,1772.5 1556.5,1773.9 1556.8,1782.5 1557.1,1774.1 1557.5,1767.9 1557.8,1770.5 1558.1,1781.8 1558.5,1786.2 1558.8,1787.7 1559.1,1788.3 1559.4,1784.2 1559.8,1776.1 1560.1,1779.1 1560.4,1773.4 1560.8,1778.7 1561.1,1772.3 1561.4,1777.6 1561.8,1774.4 1562.1,1765.6 1562.4,1775.7 1562.7,1775.2 1563.1,1766.1 1563.4,1771.6 1563.7,1774.1 1564.1,1768.1 1564.4,1773.0 1564.7,1767.3 1565.1,1773.3 1565.4,1771.8 1565.7,1769.0 1566.0,1769.0 1566.4,1771.8 1566.7,1772.2 1567.0,1770.0 1567.4,1769.7 1567.7,1772.3 1568.0,1769.7 1568.4,1770.7 1568.7,1773.0 1569.0,1774.1 1569.3,1771.9 1569.7,1768.7 1570.0,1774.7 1570.3,1771.9 1570.7,1764.1 1571.0,1769.0 1571.3,1768.9 1571.7,1768.2 1572.0,1765.0 1572.3,1765.1 1572.6,1762.0 1573.0,1755.5 1573.3,1767.9 1573.6,1772.5 1574.0,1761.0 1574.3,1765.4 1574.6,1759.9 1575.0,1765.2 1575.3,1759.9 1575.6,1764.2 1575.9,1765.2 1576.3,1754.9 1576.6,1766.9 1576.9,1766.2 1577.3,1754.6 1577.6,1770.1 1577.9,1764.4 1578.3,1768.4 1578.6,1767.9 1578.9,1764.5 1579.2,1760.1 1579.6,1762.6 1579.9,1763.0 1580.2,1775.4 1580.6,1772.9 1580.9,1762.3 1581.2,1758.9 1581.6,1761.8 1581.9,1764.6 1582.2,1757.8 1582.5,1755.6 1582.9,1769.1 1583.2,1766.9 1583.5,1753.3 1583.9,1752.1 1584.2,1757.5 1584.5,1763.9 1584.9,1762.2 1585.2,1757.5 1585.5,1751.6 1585.8,1760.8 1586.2,1761.1 1586.5,1760.7 1586.8,1759.8 1587.2,1764.7 1587.5,1762.0 1587.8,1758.3 1588.2,1766.0 1588.5,1759.6 1588.8,1768.8 1589.1,1767.0 1589.5,1759.1 1589.8,1764.2 1590.1,1769.8 1590.5,1753.7 1590.8,1763.2 1591.1,1770.7 1591.5,1757.4 1591.8,1767.1 1592.1,1759.8 1592.4,1764.9 1592.8,1753.8 1593.1,1755.9 1593.4,1759.2 1593.8,1761.2 1594.1,1764.0 1594.4,1764.2 1594.8,1756.0 1595.1,1766.0 1595.4,1767.3 1595.7,1761.0 1596.1,1765.3 1596.4,1782.0 1596.7,1777.7 1597.1,1771.3 1597.4,1771.0 1597.7,1770.2 1598.1,1762.6 1598.4,1774.3 1598.7,1762.3 1599.0,1765.2 1599.4,1776.3 1599.7,1757.7 1600.0,1766.6 1600.4,1755.3 1600.7,1759.1 1601.0,1763.9 1601.4,1764.0 1601.7,1767.0 1602.0,1762.8 1602.3,1767.9 1602.7,1763.3 1603.0,1767.0 1603.3,1762.4 1603.7,1771.5 1604.0,1759.6 1604.3,1766.4 1604.7,1760.4 1605.0,1760.2 1605.3,1764.4 1605.6,1758.0 1606.0,1750.3 1606.3,1761.8 1606.6,1747.8 1607.0,1761.3 1607.3,1758.9 1607.6,1755.0 1608.0,1761.9 1608.3,1759.5 1608.6,1770.6 1608.9,1758.9 1609.3,1769.5 1609.6,1767.7 1609.9,1759.8 1610.3,1758.9 1610.6,1768.3 1610.9,1763.3 1611.3,1765.9 1611.6,1763.6 1611.9,1759.5 1612.2,1764.0 1612.6,1760.7 1612.9,1756.5 1613.2,1763.1 1613.6,1773.2 1613.9,1768.9 1614.2,1762.5 1614.6,1763.8 1614.9,1764.7 1615.2,1768.0 1615.5,1761.1 1615.9,1759.0 1616.2,1757.6 1616.5,1765.5 1616.9,1774.8 1617.2,1757.2 1617.5,1749.0 1617.9,1762.6 1618.2,1758.6 1618.5,1761.4 1618.8,1767.5 1619.2,1763.0 1619.5,1755.8 1619.8,1753.0 1620.2,1764.6 1620.5,1760.3 1620.8,1768.4 1621.2,1761.7 1621.5,1764.9 1621.8,1760.7 1622.1,1766.9 1622.5,1766.5 1622.8,1770.9 1623.1,1772.6 1623.5,1764.7 1623.8,1762.5 1624.1,1777.2 1624.5,1770.9 1624.8,1771.8 1625.1,1772.6 1625.4,1776.4 1625.8,1774.4 1626.1,1772.6 1626.4,1774.8 1626.8,1764.8 1627.1,1767.5 1627.4,1769.3 1627.8,1769.7 1628.1,1768.5 1628.4,1769.6 1628.7,1768.6 1629.1,1766.5 1629.4,1759.6 1629.7,1771.6 1630.1,1767.1 1630.4,1761.5 1630.7,1768.2 1631.1,1768.1 1631.4,1765.4 1631.7,1755.3 1632.0,1757.6 1632.4,1760.9 1632.7,1772.8 1633.0,1761.7 1633.4,1762.6 1633.7,1759.3 1634.0,1762.2 1634.4,1769.3 1634.7,1755.3 1635.0,1752.6 1635.3,1768.9 1635.7,1763.6 1636.0,1760.2 1636.3,1766.7 1636.7,1763.2 1637.0,1746.2 1637.3,1753.3 1637.7,1763.1 1638.0,1753.3 1638.3,1754.2 1638.6,1759.1 1639.0,1752.5 1639.3,1748.8 1639.6,1753.6 1640.0,1749.8 1640.3,1758.4 1640.6,1743.0 1641.0,1757.0 1641.3,1743.6 1641.6,1751.0 1641.9,1745.0 1642.3,1751.3 1642.6,1757.9 1642.9,1760.1 1643.3,1760.6 1643.6,1757.1 1643.9,1756.7 1644.3,1760.8 1644.6,1765.6 1644.9,1757.5 1645.2,1765.0 1645.6,1762.8 1645.9,1766.1 1646.2,1764.9 1646.6,1764.4 1646.9,1757.9 1647.2,1754.7 1647.6,1751.3 1647.9,1757.5 1648.2,1757.5 1648.5,1759.2 1648.9,1748.1 1649.2,1770.0 1649.5,1753.3 1649.9,1760.2 1650.2,1760.3 1650.5,1741.7 1650.9,1753.9 1651.2,1761.4 1651.5,1743.1 1651.8,1758.3 1652.2,1750.2 1652.5,1752.0 1652.8,1755.5 1653.2,1748.1 1653.5,1757.6 1653.8,1750.9 1654.2,1749.8 1654.5,1756.5 1654.8,1773.2 1655.1,1756.3 1655.5,1757.5 1655.8,1755.3 1656.1,1751.5 1656.5,1755.5 1656.8,1764.5 1657.1,1759.6 1657.5,1763.7 1657.8,1753.7 1658.1,1766.9 1658.4,1747.9 1658.8,1757.5 1659.1,1758.1 1659.4,1757.3 1659.8,1747.7 1660.1,1747.1 1660.4,1751.1 1660.8,1755.8 1661.1,1748.6 1661.4,1749.0 1661.7,1756.5 1662.1,1756.3 1662.4,1746.8 1662.7,1746.0 1663.1,1745.2 1663.4,1759.7 1663.7,1748.3 1664.1,1745.3 1664.4,1749.2 1664.7,1756.7 1665.0,1751.5 1665.4,1740.7 1665.7,1748.1 1666.0,1745.4 1666.4,1744.5 1666.7,1739.9 1667.0,1743.1 1667.4,1737.2 1667.7,1744.9 1668.0,1740.4 1668.3,1732.2 1668.7,1730.8 1669.0,1736.9 1669.3,1746.6 1669.7,1745.9 1670.0,1742.9 1670.3,1730.2 1670.7,1741.3 1671.0,1740.3 1671.3,1740.6 1671.6,1734.6 1672.0,1738.5 1672.3,1734.7 1672.6,1749.7 1673.0,1740.6 1673.3,1736.3 1673.6,1736.8 1674.0,1737.6 1674.3,1740.6 1674.6,1739.3 1674.9,1740.2 1675.3,1743.8 1675.6,1743.1 1675.9,1741.0 1676.3,1744.4 1676.6,1737.1 1676.9,1728.6 1677.3,1722.4 1677.6,1724.6 1677.9,1728.6 1678.2,1731.9 1678.6,1738.1 1678.9,1729.2 1679.2,1727.0 1679.6,1738.1 1679.9,1741.2 1680.2,1732.4 1680.6,1737.9 1680.9,1743.4 1681.2,1735.8 1681.5,1732.5 1681.9,1722.1 1682.2,1738.3 1682.5,1733.5 1682.9,1731.2 1683.2,1729.5 1683.5,1726.1 1683.9,1729.7 1684.2,1732.2 1684.5,1738.0 1684.8,1726.1 1685.2,1737.6 1685.5,1728.0 1685.8,1734.6 1686.2,1722.6 1686.5,1727.4 1686.8,1731.5 1687.2,1723.1 1687.5,1713.5 1687.8,1717.2 1688.1,1722.7 1688.5,1715.1 1688.8,1712.5 1689.1,1722.5 1689.5,1714.5 1689.8,1726.0 1690.1,1716.2 1690.5,1713.5 1690.8,1720.3 1691.1,1732.1 1691.4,1720.1 1691.8,1725.3 1692.1,1723.1 1692.4,1719.5 1692.8,1728.0 1693.1,1723.9 1693.4,1722.5 1693.8,1709.7 1694.1,1709.3 1694.4,1703.3 1694.7,1717.3 1695.1,1719.3 1695.4,1723.9 1695.7,1724.1 1696.1,1717.8 1696.4,1719.3 1696.7,1724.1 1697.1,1728.5 1697.4,1715.7 1697.7,1721.6 1698.0,1717.8 1698.4,1718.1 1698.7,1726.4 1699.0,1717.5 1699.4,1715.3 1699.7,1723.4 1700.0,1719.3 1700.4,1719.3 1700.7,1719.5 1701.0,1721.7 1701.3,1717.1 1701.7,1719.6 1702.0,1717.6 1702.3,1723.5 1702.7,1721.0 1703.0,1717.0 1703.3,1709.4 1703.7,1708.1 1704.0,1703.0 1704.3,1718.3 1704.6,1706.3 1705.0,1707.2 1705.3,1711.7 1705.6,1698.9 1706.0,1705.6 1706.3,1707.5 1706.6,1707.4 1707.0,1703.8 1707.3,1706.2 1707.6,1712.8 1707.9,1709.8 1708.3,1703.4 1708.6,1701.2 1708.9,1690.6 1709.3,1702.1 1709.6,1699.3 1709.9,1691.8 1710.3,1700.8 1710.6,1700.6 1710.9,1698.7 1711.2,1697.1 1711.6,1700.6 1711.9,1698.5 1712.2,1705.1 1712.6,1702.9 1712.9,1702.6 1713.2,1700.4 1713.6,1696.2 1713.9,1711.4 1714.2,1690.9 1714.5,1704.2 1714.9,1700.3 1715.2,1698.9 1715.5,1697.3 1715.9,1697.8 1716.2,1688.5 1716.5,1686.8 1716.9,1690.0 1717.2,1680.8 1717.5,1691.3 1717.8,1691.3 1718.2,1667.2 1718.5,1675.8 1718.8,1685.2 1719.2,1683.3 1719.5,1684.8 1719.8,1685.1 1720.2,1687.6 1720.5,1691.4 1720.8,1696.4 1721.1,1687.1 1721.5,1691.2 1721.8,1678.6 1722.1,1689.4 1722.5,1681.9 1722.8,1695.0 1723.1,1699.3 1723.5,1688.1 1723.8,1677.3 1724.1,1682.9 1724.4,1684.5 1724.8,1684.6 1725.1,1688.6 1725.4,1686.6 1725.8,1666.7 1726.1,1685.6 1726.4,1674.5 1726.8,1673.3 1727.1,1684.2 1727.4,1672.9 1727.7,1665.5 1728.1,1663.4 1728.4,1671.3 1728.7,1675.8 1729.1,1678.7 1729.4,1670.1 1729.7,1665.6 1730.1,1674.6 1730.4,1662.8 1730.7,1672.7 1731.0,1664.6 1731.4,1663.5 1731.7,1661.9 1732.0,1663.0 1732.4,1657.4 1732.7,1657.7 1733.0,1662.2 1733.4,1658.2 1733.7,1661.5 1734.0,1660.8 1734.3,1659.3 1734.7,1656.9 1735.0,1657.7 1735.3,1669.3 1735.7,1655.9 1736.0,1646.8 1736.3,1649.1 1736.7,1655.4 1737.0,1648.3 1737.3,1646.0 1737.6,1644.5 1738.0,1645.8 1738.3,1643.2 1738.6,1644.6 1739.0,1634.0 1739.3,1635.2 1739.6,1624.7 1740.0,1645.9 1740.3,1646.9 1740.6,1645.2 1740.9,1638.3 1741.3,1645.4 1741.6,1639.0 1741.9,1640.0 1742.3,1631.3 1742.6,1635.6 1742.9,1632.8 1743.3,1640.3 1743.6,1643.8 1743.9,1632.3 1744.2,1632.6 1744.6,1628.4 1744.9,1621.1 1745.2,1614.9 1745.6,1618.6 1745.9,1615.6 1746.2,1619.9 1746.6,1620.6 1746.9,1618.2 1747.2,1619.5 1747.5,1625.3 1747.9,1618.3 1748.2,1626.8 1748.5,1611.7 1748.9,1620.5 1749.2,1620.9 1749.5,1613.1 1749.9,1606.9 1750.2,1619.1 1750.5,1610.1 1750.8,1615.6 1751.2,1614.6 1751.5,1609.8 1751.8,1607.5 1752.2,1611.5 1752.5,1608.8 1752.8,1601.3 1753.2,1607.0 1753.5,1606.6 1753.8,1603.6 1754.1,1605.3 1754.5,1603.6 1754.8,1603.2 1755.1,1597.9 1755.5,1593.4 1755.8,1607.0 1756.1,1594.7 1756.5,1600.9 1756.8,1590.4 1757.1,1595.5 1757.4,1586.1 1757.8,1605.3 1758.1,1581.2 1758.4,1581.0 1758.8,1590.8 1759.1,1593.7 1759.4,1574.8 1759.8,1586.3 1760.1,1591.8 1760.4,1579.5 1760.7,1591.2 1761.1,1586.2 1761.4,1583.6 1761.7,1586.4 1762.1,1581.3 1762.4,1572.9 1762.7,1592.2 1763.1,1573.5 1763.4,1572.6 1763.7,1580.1 1764.0,1573.3 1764.4,1577.4 1764.7,1568.0 1765.0,1569.9 1765.4,1567.1 1765.7,1565.0 1766.0,1561.8 1766.4,1562.0 1766.7,1572.2 1767.0,1555.6 1767.3,1557.5 1767.7,1556.3 1768.0,1559.7 1768.3,1558.4 1768.7,1559.7 1769.0,1545.4 1769.3,1548.9 1769.7,1543.5 1770.0,1542.2 1770.3,1542.7 1770.6,1528.6 1771.0,1543.7 1771.3,1542.7 1771.6,1535.5 1772.0,1544.1 1772.3,1556.9 1772.6,1546.5 1773.0,1551.6 1773.3,1545.4 1773.6,1541.0 1773.9,1537.3 1774.3,1539.6 1774.6,1547.9 1774.9,1544.4 1775.3,1533.2 1775.6,1543.3 1775.9,1537.6 1776.3,1533.9 1776.6,1541.2 1776.9,1529.2 1777.2,1525.9 1777.6,1541.9 1777.9,1521.6 1778.2,1532.1 1778.6,1519.7 1778.9,1525.5 1779.2,1523.6 1779.6,1521.1 1779.9,1512.9 1780.2,1520.8 1780.5,1520.0 1780.9,1511.7 1781.2,1518.1 1781.5,1519.8 1781.9,1510.0 1782.2,1512.7 1782.5,1503.0 1782.9,1511.0 1783.2,1514.5 1783.5,1522.1 1783.8,1514.8 1784.2,1510.3 1784.5,1515.2 1784.8,1496.9 1785.2,1509.7 1785.5,1497.6 1785.8,1494.0 1786.2,1498.5 1786.5,1491.4 1786.8,1495.7 1787.1,1476.7 1787.5,1485.4 1787.8,1480.1 1788.1,1479.3 1788.5,1467.2 1788.8,1483.0 1789.1,1479.9 1789.5,1472.2 1789.8,1466.7 1790.1,1465.7 1790.4,1476.8 1790.8,1464.8 1791.1,1460.8 1791.4,1465.1 1791.8,1459.6 1792.1,1457.3 1792.4,1459.3 1792.8,1456.3 1793.1,1459.1 1793.4,1444.8 1793.7,1452.0 1794.1,1447.0 1794.4,1443.9 1794.7,1440.2 1795.1,1435.9 1795.4,1435.3 1795.7,1438.2 1796.1,1427.2 1796.4,1420.3 1796.7,1428.9 1797.0,1431.0 1797.4,1427.4 1797.7,1429.7 1798.0,1421.4 1798.4,1422.4 1798.7,1429.7 1799.0,1425.7 1799.4,1420.2 1799.7,1415.6 1800.0,1406.0 1800.3,1413.5 1800.7,1412.4 1801.0,1416.7 1801.3,1420.3 1801.7,1409.6 1802.0,1415.5 1802.3,1400.1 1802.7,1415.2 1803.0,1412.7 1803.3,1414.1 1803.6,1406.6 1804.0,1402.6 1804.3,1408.8 1804.6,1392.2 1805.0,1397.2 1805.3,1397.9 1805.6,1383.9 1806.0,1376.9 1806.3,1385.0 1806.6,1382.1 1806.9,1380.6 1807.3,1377.4 1807.6,1366.2 1807.9,1369.6 1808.3,1373.2 1808.6,1360.5 1808.9,1361.4 1809.3,1353.0 1809.6,1362.1 1809.9,1367.3 1810.2,1345.5 1810.6,1359.3 1810.9,1359.2 1811.2,1349.3 1811.6,1347.7 1811.9,1340.4 1812.2,1338.1 1812.6,1346.4 1812.9,1348.4 1813.2,1343.4 1813.5,1344.0 1813.9,1336.4 1814.2,1323.1 1814.5,1338.9 1814.9,1332.3 1815.2,1321.3 1815.5,1334.1 1815.9,1325.8 1816.2,1320.7 1816.5,1330.5 1816.8,1299.9 1817.2,1304.4 1817.5,1316.4 1817.8,1308.3 1818.2,1298.5 1818.5,1310.8 1818.8,1298.6 1819.2,1283.2 1819.5,1283.5 1819.8,1290.5 1820.1,1295.4 1820.5,1268.2 1820.8,1283.3 1821.1,1279.9 1821.5,1270.7 1821.8,1278.7 1822.1,1268.1 1822.5,1271.9 1822.8,1283.4 1823.1,1273.5 1823.4,1271.7 1823.8,1269.3 1824.1,1266.1 1824.4,1266.4 1824.8,1251.9 1825.1,1253.6 1825.4,1260.7 1825.8,1248.3 1826.1,1247.3 1826.4,1257.4 1826.7,1254.0 1827.1,1238.2 1827.4,1235.4 1827.7,1241.6 1828.1,1240.2 1828.4,1233.4 1828.7,1239.8 1829.1,1236.4 1829.4,1228.7 1829.7,1249.3 1830.0,1232.0 1830.4,1223.2 1830.7,1220.7 1831.0,1228.3 1831.4,1216.0 1831.7,1202.3 1832.0,1210.2 1832.4,1210.9 1832.7,1203.0 1833.0,1208.8 1833.3,1208.1 1833.7,1205.0 1834.0,1201.5 1834.3,1205.7 1834.7,1185.4 1835.0,1200.0 1835.3,1191.5 1835.7,1190.5 1836.0,1167.0 1836.3,1195.3 1836.6,1171.3 1837.0,1176.3 1837.3,1182.9 1837.6,1174.2 1838.0,1173.4 1838.3,1154.9 1838.6,1166.7 1839.0,1169.3 1839.3,1170.0 1839.6,1162.9 1839.9,1165.1 1840.3,1175.9 1840.6,1157.4 1840.9,1153.9 1841.3,1178.1 1841.6,1158.3 1841.9,1174.0 1842.3,1164.1 1842.6,1170.3 1842.9,1157.7 1843.2,1164.5 1843.6,1164.4 1843.9,1158.9 1844.2,1156.2 1844.6,1147.6 1844.9,1153.0 1845.2,1148.1 1845.6,1154.3 1845.9,1143.1 1846.2,1131.9 1846.5,1134.3 1846.9,1137.9 1847.2,1134.1 1847.5,1148.8 1847.9,1141.3 1848.2,1145.7 1848.5,1135.3 1848.9,1140.4 1849.2,1152.4 1849.5,1138.0 1849.8,1147.9 1850.2,1143.6 1850.5,1136.9 1850.8,1140.8 1851.2,1131.5 1851.5,1138.8 1851.8,1129.8 1852.2,1129.0 1852.5,1144.7 1852.8,1129.7 1853.1,1120.1 1853.5,1144.1 1853.8,1135.0 1854.1,1115.5 1854.5,1143.5 1854.8,1148.2 1855.1,1146.1 1855.5,1161.6 1855.8,1151.5 1856.1,1160.5 1856.4,1149.6 1856.8,1156.4 1857.1,1166.6 1857.4,1159.9 1857.8,1158.9 1858.1,1142.7 1858.4,1153.0 1858.8,1147.2 1859.1,1160.5 1859.4,1150.6 1859.7,1162.2 1860.1,1155.8 1860.4,1179.3 1860.7,1158.1 1861.1,1167.6 1861.4,1187.2 1861.7,1173.8 1862.1,1168.7 1862.4,1182.8 1862.7,1187.1 1863.0,1190.2 1863.4,1170.4 1863.7,1189.2 1864.0,1174.6 1864.4,1204.3 1864.7,1193.0 1865.0,1194.4 1865.4,1201.4 1865.7,1199.4 1866.0,1186.8 1866.3,1209.5 1866.7,1194.9 1867.0,1187.1 1867.3,1213.5 1867.7,1216.6 1868.0,1212.4 1868.3,1211.0 1868.7,1205.2 1869.0,1221.6 1869.3,1227.9 1869.6,1224.9 1870.0,1234.7 1870.3,1217.1 1870.6,1231.1 1871.0,1234.6 1871.3,1219.1 1871.6,1220.6 1872.0,1226.9 1872.3,1234.9 1872.6,1239.2 1872.9,1234.7 1873.3,1237.0 1873.6,1236.2 1873.9,1238.9 1874.3,1246.4 1874.6,1248.1 1874.9,1248.7 1875.3,1251.7 1875.6,1251.5 1875.9,1262.5 1876.2,1258.4 1876.6,1273.7 1876.9,1266.0 1877.2,1267.0 1877.6,1260.8 1877.9,1262.7 1878.2,1269.4 1878.6,1267.9 1878.9,1262.2 1879.2,1256.7 1879.5,1268.2 1879.9,1268.9 1880.2,1271.4 1880.5,1274.8 1880.9,1266.2 1881.2,1255.7 1881.5,1270.9 1881.9,1263.3 1882.2,1268.5 1882.5,1286.8 1882.8,1285.5 1883.2,1284.1 1883.5,1287.3 1883.8,1295.0 1884.2,1285.4 1884.5,1302.3 1884.8,1300.3 1885.2,1319.4 1885.5,1300.8 1885.8,1316.6 1886.1,1305.3 1886.5,1318.8 1886.8,1307.7 1887.1,1326.0 1887.5,1319.9 1887.8,1319.9 1888.1,1325.5 1888.5,1334.0 1888.8,1335.8 1889.1,1347.5 1889.4,1344.7 1889.8,1326.2 1890.1,1339.8 1890.4,1328.6 1890.8,1339.7 1891.1,1347.5 1891.4,1331.7 1891.8,1332.2 1892.1,1339.9 1892.4,1337.0 1892.7,1347.1 1893.1,1336.0 1893.4,1341.8 1893.7,1351.4 1894.1,1338.6 1894.4,1345.4 1894.7,1341.4 1895.1,1350.5 1895.4,1359.0 1895.7,1362.7 1896.0,1359.9 1896.4,1355.2 1896.7,1356.8 1897.0,1352.5 1897.4,1363.4 1897.7,1370.8 1898.0,1349.4 1898.4,1350.0 1898.7,1373.8 1899.0,1355.0 1899.3,1368.6 1899.7,1358.0 1900.0,1373.9 1900.3,1375.0 1900.7,1372.8 1901.0,1377.7 1901.3,1374.6 1901.7,1379.1 1902.0,1387.2 1902.3,1382.8 1902.6,1372.8 1903.0,1373.3 1903.3,1377.2 1903.6,1379.3 1904.0,1380.7 1904.3,1376.7 1904.6,1386.6 1905.0,1382.4 1905.3,1384.5 1905.6,1382.6 1905.9,1385.4 1906.3,1376.3 1906.6,1391.5 1906.9,1383.3 1907.3,1383.7 1907.6,1380.3 1907.9,1384.5 1908.3,1381.0 1908.6,1376.3 1908.9,1371.4 1909.2,1359.9 1909.6,1374.4 1909.9,1373.0 1910.2,1374.3 1910.6,1394.1 1910.9,1363.2 1911.2,1378.2 1911.6,1384.0 1911.9,1383.7 1912.2,1385.7 1912.5,1368.1 1912.9,1369.8 1913.2,1377.4 1913.5,1373.1 1913.9,1389.0 1914.2,1380.8 1914.5,1383.9 1914.9,1387.2 1915.2,1383.1 1915.5,1388.7 1915.8,1381.6 1916.2,1387.2 1916.5,1382.0 1916.8,1385.4 1917.2,1373.7 1917.5,1371.1 1917.8,1383.1 1918.2,1382.5 1918.5,1372.3 1918.8,1378.8 1919.1,1371.3 1919.5,1387.8 1919.8,1364.1 1920.1,1383.3 1920.5,1371.0 1920.8,1376.7 1921.1,1372.0 1921.5,1371.5 1921.8,1380.7 1922.1,1380.6 1922.4,1376.0 1922.8,1371.8 1923.1,1388.8 1923.4,1379.0 1923.8,1369.4 1924.1,1366.2 1924.4,1368.2 1924.8,1362.9 1925.1,1368.8 1925.4,1352.5 1925.7,1358.0 1926.1,1353.0 1926.4,1367.4 1926.7,1371.9 1927.1,1354.9 1927.4,1357.8 1927.7,1364.4 1928.1,1351.4 1928.4,1346.8 1928.7,1358.7 1929.0,1356.0 1929.4,1350.4 1929.7,1358.6 1930.0,1352.7 1930.4,1340.0 1930.7,1351.3 1931.0,1351.6 1931.4,1363.9 1931.7,1349.2 1932.0,1344.5 1932.3,1346.7 1932.7,1344.5 1933.0,1333.1 1933.3,1340.9 1933.7,1338.8 1934.0,1347.5 1934.3,1354.2 1934.7,1331.0 1935.0,1331.4 1935.3,1332.3 1935.6,1332.8 1936.0,1331.5 1936.3,1335.0 1936.6,1337.4 1937.0,1322.2 1937.3,1319.1 1937.6,1314.9 1938.0,1332.5 1938.3,1331.9 1938.6,1313.1 1938.9,1310.3 1939.3,1318.3 1939.6,1325.3 1939.9,1321.0 1940.3,1314.6 1940.6,1319.0 1940.9,1317.6 1941.3,1311.8 1941.6,1326.8 1941.9,1312.5 1942.2,1307.3 1942.6,1309.3 1942.9,1299.5 1943.2,1306.0 1943.6,1310.6 1943.9,1293.0 1944.2,1306.8 1944.6,1308.7 1944.9,1297.5 1945.2,1284.3 1945.5,1282.8 1945.9,1287.3 1946.2,1278.8 1946.5,1276.0 1946.9,1281.1 1947.2,1280.1 1947.5,1284.1 1947.9,1270.9 1948.2,1290.8 1948.5,1284.5 1948.8,1283.2 1949.2,1272.3 1949.5,1288.4 1949.8,1268.6 1950.2,1281.0 1950.5,1274.5 1950.8,1259.1 1951.2,1256.8 1951.5,1273.2 1951.8,1265.3 1952.1,1259.1 1952.5,1255.8 1952.8,1258.8 1953.1,1250.9 1953.5,1250.3 1953.8,1244.5 1954.1,1247.1 1954.5,1252.4 1954.8,1238.6 1955.1,1246.4 1955.4,1245.2 1955.8,1248.1 1956.1,1246.9 1956.4,1253.6 1956.8,1250.9 1957.1,1248.6 1957.4,1241.3 1957.8,1245.5 1958.1,1234.1 1958.4,1239.3 1958.7,1244.9 1959.1,1240.1 1959.4,1242.7 1959.7,1231.5 1960.1,1248.4 1960.4,1232.1 1960.7,1240.2 1961.1,1238.6 1961.4,1243.8 1961.7,1234.5 1962.0,1230.8 1962.4,1223.7 1962.7,1231.8 1963.0,1227.2 1963.4,1241.1 1963.7,1247.6 1964.0,1221.1 1964.4,1226.3 1964.7,1238.2 1965.0,1243.2 1965.3,1237.5 1965.7,1241.4 1966.0,1243.5 1966.3,1246.5 1966.7,1253.8 1967.0,1251.3 1967.3,1242.3 1967.7,1251.4 1968.0,1257.6 1968.3,1251.7 1968.6,1256.9 1969.0,1254.9 1969.3,1251.7 1969.6,1262.0 1970.0,1254.1 1970.3,1247.2 1970.6,1247.7 1971.0,1253.6 1971.3,1269.0 1971.6,1257.0 1971.9,1267.8 1972.3,1265.8 1972.6,1251.3 1972.9,1270.3 1973.3,1267.4 1973.6,1268.7 1973.9,1275.7 1974.3,1300.2 1974.6,1281.7 1974.9,1292.6 1975.2,1309.9 1975.6,1310.4 1975.9,1302.1 1976.2,1318.2 1976.6,1318.4 1976.9,1322.4 1977.2,1332.5 1977.6,1328.2 1977.9,1333.6 1978.2,1345.3 1978.5,1331.7 1978.9,1345.3 1979.2,1356.4 1979.5,1353.8 1979.9,1367.4 1980.2,1370.3 1980.5,1389.1 1980.9,1393.1 1981.2,1409.0 1981.5,1418.4 1981.8,1421.3 1982.2,1427.2 1982.5,1441.0 1982.8,1446.0 1983.2,1442.9 1983.5,1465.4 1983.8,1468.8 1984.2,1480.4 1984.5,1473.2 1984.8,1492.8 1985.1,1504.2 1985.5,1500.1 1985.8,1498.1 1986.1,1517.2 1986.5,1520.3 1986.8,1527.1 1987.1,1530.6 1987.5,1540.4 1987.8,1538.8 1988.1,1547.7 1988.4,1540.3 1988.8,1553.6 1989.1,1561.3 1989.4,1555.9 1989.8,1565.1 1990.1,1562.8 1990.4,1570.5 1990.8,1573.8 1991.1,1586.0 1991.4,1580.2 1991.7,1590.8 1992.1,1577.3 1992.4,1586.6 1992.7,1595.0 1993.1,1593.5 1993.4,1583.2 1993.7,1584.6 1994.1,1598.8 1994.4,1589.2 1994.7,1601.4 1995.0,1601.2 1995.4,1606.5 1995.7,1621.2 1996.0,1619.1 1996.4,1620.2 1996.7,1611.4 1997.0,1620.2 1997.4,1619.9 1997.7,1624.1 1998.0,1633.1 1998.3,1620.8 1998.7,1635.1 1999.0,1636.5 1999.3,1632.8 1999.7,1646.8 2000.0,1634.6 2000.3,1644.0 2000.7,1645.0 2001.0,1635.6 2001.3,1642.4 2001.6,1648.6 2002.0,1660.7 2002.3,1664.2 2002.6,1666.1 2003.0,1666.0 2003.3,1655.5 2003.6,1669.3 2004.0,1665.3 2004.3,1675.0 2004.6,1675.9 2004.9,1681.4 2005.3,1672.8 2005.6,1674.4 2005.9,1666.3 2006.3,1673.9 2006.6,1667.8 2006.9,1681.1 2007.3,1672.7 2007.6,1678.5 2007.9,1677.6 2008.2,1681.8 2008.6,1685.2 2008.9,1680.2 2009.2,1684.5 2009.6,1680.2 2009.9,1692.5 2010.2,1681.8 2010.6,1688.9 2010.9,1694.5 2011.2,1672.3 2011.5,1683.9 2011.9,1689.2 2012.2,1698.7 2012.5,1690.6 2012.9,1697.3 2013.2,1693.7 2013.5,1703.6 2013.9,1698.7 2014.2,1710.8 2014.5,1691.2 2014.8,1699.2 2015.2,1717.0 2015.5,1711.3 2015.8,1706.2 2016.2,1722.1 2016.5,1716.8 2016.8,1716.3 2017.2,1711.2 2017.5,1716.1 2017.8,1716.8 2018.1,1708.0 2018.5,1718.2 2018.8,1714.4 2019.1,1723.1 2019.5,1723.0 2019.8,1712.4 2020.1,1710.7 2020.5,1718.0 2020.8,1719.7 2021.1,1715.7 2021.4,1719.8 2021.8,1724.4 2022.1,1723.5 2022.4,1727.1 2022.8,1724.5 2023.1,1720.1 2023.4,1715.7 2023.8,1728.5 2024.1,1721.8 2024.4,1720.8 2024.7,1722.2 2025.1,1713.5 2025.4,1718.8 2025.7,1707.7 2026.1,1719.5 2026.4,1716.9 2026.7,1732.3 2027.1,1727.9 2027.4,1725.6 2027.7,1727.8 2028.0,1732.6 2028.4,1728.1 2028.7,1732.6 2029.0,1733.2 2029.4,1747.3 2029.7,1736.1 2030.0,1725.7 2030.4,1738.3 2030.7,1744.7 2031.0,1728.6 2031.3,1750.9 2031.7,1732.6 2032.0,1737.0 2032.3,1732.4 2032.7,1733.0 2033.0,1725.7 2033.3,1727.1 2033.7,1724.6 2034.0,1739.7 2034.3,1727.4 2034.6,1735.7 2035.0,1735.8 2035.3,1728.4 2035.6,1732.6 2036.0,1732.2 2036.3,1731.0 2036.6,1732.2 2037.0,1734.0 2037.3,1728.3 2037.6,1726.5 2037.9,1727.5 2038.3,1732.0 2038.6,1737.3 2038.9,1740.5 2039.3,1734.7 2039.6,1739.7 2039.9,1733.0 2040.3,1737.8 2040.6,1733.2 2040.9,1735.1 2041.2,1733.5 2041.6,1735.9 2041.9,1744.3 2042.2,1729.3 2042.6,1734.8 2042.9,1734.5 2043.2,1743.1 2043.6,1748.1 2043.9,1740.1 2044.2,1726.9 2044.5,1744.6 2044.9,1744.3 2045.2,1732.6 2045.5,1740.9 2045.9,1740.9 2046.2,1728.7 2046.5,1743.7 2046.9,1741.3 2047.2,1740.7 2047.5,1734.2 2047.8,1738.0 2048.2,1737.3 2048.5,1741.4 2048.8,1735.1 2049.2,1748.2 2049.5,1743.1 2049.8,1730.4 2050.2,1747.7 2050.5,1740.7 2050.8,1737.1 2051.1,1741.9 2051.5,1731.9 2051.8,1742.4 2052.1,1729.1 2052.5,1736.1 2052.8,1748.8 2053.1,1749.6 2053.5,1739.3 2053.8,1734.7 2054.1,1744.3 2054.4,1740.0 2054.8,1739.9 2055.1,1744.0 2055.4,1735.5 2055.8,1744.3 2056.1,1729.9 2056.4,1750.2 2056.8,1735.1 2057.1,1740.0 2057.4,1739.4 2057.7,1747.1 2058.1,1746.1 2058.4,1744.4 2058.7,1747.2 2059.1,1748.6 2059.4,1746.5 2059.7,1737.3 2060.1,1735.3 2060.4,1737.3 2060.7,1748.9 2061.0,1748.5 2061.4,1748.3 2061.7,1749.1 2062.0,1746.0 2062.4,1743.5 2062.7,1741.6 2063.0,1739.7 2063.4,1756.3 2063.7,1755.0 2064.0,1745.0 2064.3,1752.4 2064.7,1759.2 2065.0,1764.4 2065.3,1751.4 2065.7,1755.0 2066.0,1760.9 2066.3,1746.2 2066.7,1751.1 2067.0,1753.2 2067.3,1749.4 2067.6,1762.3 2068.0,1756.1 2068.3,1751.4 2068.6,1746.9 2069.0,1757.1 2069.3,1756.5 2069.6,1750.8 2070.0,1752.0 2070.3,1746.9 2070.6,1753.7 2070.9,1759.8 2071.3,1762.2 2071.6,1760.1 2071.9,1760.3 2072.3,1751.6 2072.6,1753.0 2072.9,1761.5 2073.3,1757.8 2073.6,1750.9 2073.9,1757.5 2074.2,1760.8 2074.6,1759.7 2074.9,1756.9 2075.2,1755.7 2075.6,1760.4 2075.9,1767.8 2076.2,1759.8 2076.6,1755.4 2076.9,1760.8 2077.2,1751.6 2077.5,1757.6 2077.9,1754.9 2078.2,1760.6 2078.5,1757.1 2078.9,1762.5 2079.2,1771.5 2079.5,1759.8 2079.9,1757.0 2080.2,1763.6 2080.5,1762.4 2080.8,1764.5 2081.2,1760.2 2081.5,1767.5 2081.8,1763.7 2082.2,1750.6 2082.5,1760.5 2082.8,1762.5 2083.2,1767.7 2083.5,1759.3 2083.8,1757.1 2084.1,1769.8 2084.5,1760.0 2084.8,1764.6 2085.1,1765.4 2085.5,1765.6 2085.8,1763.3 2086.1,1757.0 2086.5,1766.1 2086.8,1758.3 2087.1,1755.0 2087.4,1767.0 2087.8,1761.2 2088.1,1751.0 2088.4,1755.5 2088.8,1757.4 2089.1,1754.9 2089.4,1748.1 2089.8,1763.1 2090.1,1764.3 2090.4,1761.9 2090.7,1759.2 2091.1,1763.2 2091.4,1763.4 2091.7,1751.3 2092.1,1755.5 2092.4,1756.1 2092.7,1763.2 2093.1,1760.1 2093.4,1752.0 2093.7,1756.6 2094.0,1767.8 2094.4,1755.1 2094.7,1762.4 2095.0,1757.8 2095.4,1768.6 2095.7,1762.0 2096.0,1760.6 2096.4,1755.6 2096.7,1759.3 2097.0,1767.0 2097.3,1767.3 2097.7,1760.1 2098.0,1775.6 2098.3,1750.9 2098.7,1759.5 2099.0,1765.6 2099.3,1764.2 2099.7,1763.0 2100.0,1762.8 2100.3,1765.3 2100.6,1760.2 2101.0,1754.0 2101.3,1765.9 2101.6,1761.0 2102.0,1769.6 2102.3,1765.4 2102.6,1765.8 2103.0,1763.2 2103.3,1766.3 2103.6,1758.3 2103.9,1753.7 2104.3,1763.0 2104.6,1747.7 2104.9,1759.8 2105.3,1761.7 2105.6,1759.7 2105.9,1767.3 2106.3,1768.8 2106.6,1763.4 2106.9,1761.4 2107.2,1765.2 2107.6,1756.5 2107.9,1757.6 2108.2,1766.2 2108.6,1764.9 2108.9,1774.1 2109.2,1760.4 2109.6,1755.7 2109.9,1768.9 2110.2,1771.6 2110.5,1762.5 2110.9,1770.7 2111.2,1771.3 2111.5,1759.7 2111.9,1759.6 2112.2,1755.9 2112.5,1764.3 2112.9,1764.7 2113.2,1769.1 2113.5,1760.5 2113.8,1764.4 2114.2,1758.6 2114.5,1756.5 2114.8,1758.0 2115.2,1756.2 2115.5,1762.8 2115.8,1766.5 2116.2,1764.6 2116.5,1761.1 2116.8,1756.4 2117.1,1760.5 2117.5,1763.5 2117.8,1759.9 2118.1,1762.4 2118.5,1761.2 2118.8,1759.0 2119.1,1762.7 2119.5,1757.6 2119.8,1771.7 2120.1,1757.6 2120.4,1768.5 2120.8,1758.4 2121.1,1773.2 2121.4,1769.9 2121.8,1763.1 2122.1,1764.0 2122.4,1761.4 2122.8,1764.6 2123.1,1768.7 2123.4,1780.8 2123.7,1761.6 2124.1,1775.8 2124.4,1767.3 2124.7,1772.5 2125.1,1777.0 2125.4,1774.5 2125.7,1776.7 2126.1,1772.8 2126.4,1771.9 2126.7,1770.7 2127.0,1776.7 2127.4,1763.4 2127.7,1766.9 2128.0,1763.5 2128.4,1764.8 2128.7,1765.3 2129.0,1774.1 2129.4,1780.5 2129.7,1777.3 2130.0,1763.1 2130.3,1768.6 2130.7,1762.5 2131.0,1770.8 2131.3,1772.2 2131.7,1770.8 2132.0,1775.1 2132.3,1771.3 2132.7,1761.6 2133.0,1761.8 2133.3,1773.6 2133.6,1779.4 2134.0,1782.9 2134.3,1775.9 2134.6,1775.3 2135.0,1775.3 2135.3,1779.5 2135.6,1773.1 2136.0,1767.4 2136.3,1776.9 2136.6,1771.3 2136.9,1772.3 2137.3,1763.9 2137.6,1769.2 2137.9,1760.4 2138.3,1759.0 2138.6,1769.2 2138.9,1767.9 2139.3,1773.7 2139.6,1779.1 2139.9,1770.0 2140.2,1780.7 2140.6,1769.6 2140.9,1777.6 2141.2,1766.6 2141.6,1773.4 2141.9,1771.3 2142.2,1770.8 2142.6,1775.1 2142.9,1763.4 2143.2,1772.8 2143.5,1768.2 2143.9,1772.8 2144.2,1775.3 2144.5,1772.5 2144.9,1775.0 2145.2,1771.5 2145.5,1780.8 2145.9,1773.9 2146.2,1779.6 2146.5,1770.3 2146.8,1785.0 2147.2,1772.0 2147.5,1783.2 2147.8,1772.8 2148.2,1777.1 2148.5,1772.6 2148.8,1777.8 2149.2,1776.3 2149.5,1779.5 2149.8,1776.6 2150.1,1777.5 2150.5,1783.8 2150.8,1802.0 2151.1,1784.3 2151.5,1777.9 2151.8,1769.4 2152.1,1779.2 2152.5,1777.9 2152.8,1786.4 2153.1,1774.3 2153.4,1774.6 2153.8,1775.3 2154.1,1762.1 2154.4,1775.3 2154.8,1767.7 2155.1,1779.1 2155.4,1780.7 2155.8,1772.4 2156.1,1761.9 2156.4,1772.0 2156.7,1772.1 2157.1,1777.7 2157.4,1771.8 2157.7,1767.0 2158.1,1774.5 2158.4,1773.2 2158.7,1787.2 2159.1,1777.8 2159.4,1779.7 2159.7,1783.3 2160.0,1775.0 2160.4,1778.7 2160.7,1781.1 2161.0,1780.3 2161.4,1779.7 2161.7,1789.5 2162.0,1786.3 2162.4,1774.7 2162.7,1778.4 2163.0,1787.0 2163.3,1781.8 2163.7,1785.6 2164.0,1782.7 2164.3,1786.5 2164.7,1780.7 2165.0,1781.6 2165.3,1778.0 2165.7,1783.2 2166.0,1775.2 2166.3,1789.5 2166.6,1779.4 2167.0,1778.4 2167.3,1782.0 2167.6,1778.1 2168.0,1775.5 2168.3,1775.0 2168.6,1771.9 2169.0,1770.2 2169.3,1771.9 2169.6,1781.8 2169.9,1773.0 2170.3,1777.5 2170.6,1776.8 2170.9,1782.8 2171.3,1791.1 2171.6,1776.3 2171.9,1784.9 2172.3,1782.0 2172.6,1778.9 2172.9,1782.4 2173.2,1772.7 2173.6,1783.2 2173.9,1780.4 2174.2,1773.9 2174.6,1788.3 2174.9,1783.3 2175.2,1785.5 2175.6,1772.5 2175.9,1779.5 2176.2,1776.1 2176.5,1783.0 2176.9,1786.1 2177.2,1770.0 2177.5,1779.9 2177.9,1781.4 2178.2,1784.5 2178.5,1779.3 2178.9,1773.1 2179.2,1779.3 2179.5,1774.6 2179.8,1777.2 2180.2,1779.3 2180.5,1777.2 2180.8,1777.2 2181.2,1769.3 2181.5,1791.1 2181.8,1786.1 2182.2,1784.1 2182.5,1774.0 2182.8,1770.3 2183.1,1778.0 2183.5,1781.2 2183.8,1796.6 2184.1,1788.3 2184.5,1778.4 2184.8,1787.1 2185.1,1787.2 2185.5,1780.5 2185.8,1787.0 2186.1,1783.4 2186.4,1776.2 2186.8,1771.9 2187.1,1780.9 2187.4,1785.2 2187.8,1772.6 2188.1,1769.9 2188.4,1783.7 2188.8,1764.2 2189.1,1786.0 2189.4,1775.6 2189.7,1782.2 2190.1,1787.5 2190.4,1771.0 2190.7,1771.9 2191.1,1790.1 2191.4,1776.9 2191.7,1780.9 2192.1,1786.2 2192.4,1792.8 2192.7,1795.7 2193.0,1791.9 2193.4,1790.4 2193.7,1795.4 2194.0,1796.7 2194.4,1798.6 2194.7,1790.3 2195.0,1797.3 2195.4,1782.9 2195.7,1790.0 2196.0,1795.7 2196.3,1791.5 2196.7,1784.0 2197.0,1779.0 2197.3,1782.3 2197.7,1786.6 2198.0,1790.4 2198.3,1788.1 2198.7,1781.4 2199.0,1784.4 2199.3,1790.5 2199.6,1793.0 2200.0,1780.9 2200.3,1784.6 2200.6,1779.4 2201.0,1785.9 2201.3,1806.8 2201.6,1790.6 2202.0,1789.9 2202.3,1790.3 2202.6,1788.3 2202.9,1785.0 2203.3,1794.9 2203.6,1791.2 2203.9,1797.9 2204.3,1782.4 2204.6,1792.5 2204.9,1796.8 2205.3,1779.4 2205.6,1790.8 2205.9,1780.8 2206.2,1796.4 2206.6,1802.9 2206.9,1795.7 2207.2,1797.4 2207.6,1791.2 2207.9,1795.2 2208.2,1798.8 2208.6,1793.8 2208.9,1792.3 2209.2,1792.0 2209.5,1793.3 2209.9,1779.3 2210.2,1786.2 2210.5,1784.8 2210.9,1791.0 2211.2,1796.7 2211.5,1791.6 2211.9,1796.5 2212.2,1784.7 2212.5,1788.2 2212.8,1787.7 2213.2,1792.0 2213.5,1791.8 2213.8,1791.5 2214.2,1785.0 2214.5,1792.0 2214.8,1790.1 2215.2,1796.9 2215.5,1792.8 2215.8,1798.7 2216.1,1796.2 2216.5,1785.6 2216.8,1794.2 2217.1,1787.8 2217.5,1800.6 2217.8,1802.9 2218.1,1794.1 2218.5,1794.7 2218.8,1785.6 2219.1,1782.4 2219.4,1790.0 2219.8,1790.3 2220.1,1784.7 2220.4,1793.2 2220.8,1795.1 2221.1,1797.9 2221.4,1805.4 2221.8,1801.8 2222.1,1793.9 2222.4,1798.7 2222.7,1802.4 2223.1,1792.1 2223.4,1804.7 2223.7,1803.7 2224.1,1795.9 2224.4,1794.5 2224.7,1817.8 2225.1,1805.3 2225.4,1804.8 2225.7,1809.3 2226.0,1807.2 2226.4,1804.4 2226.7,1805.5 2227.0,1798.8 2227.4,1805.6 2227.7,1795.0 2228.0,1801.9 2228.4,1801.9 2228.7,1788.8 2229.0,1806.5 2229.3,1786.9 2229.7,1797.9 2230.0,1789.7 2230.3,1794.4 2230.7,1788.1 2231.0,1805.2 2231.3,1797.3 2231.7,1801.9 2232.0,1796.4 2232.3,1799.1 2232.6,1798.2 2233.0,1796.0 2233.3,1802.2 2233.6,1800.9 2234.0,1801.3 2234.3,1795.9 2234.6,1803.4 2235.0,1807.3 2235.3,1798.2 2235.6,1802.5 2235.9,1800.0 2236.3,1796.2 2236.6,1794.4 2236.9,1795.3 2237.3,1796.4 2237.6,1796.6 2237.9,1803.9 2238.3,1795.4 2238.6,1789.8 2238.9,1805.3 2239.2,1797.5 2239.6,1801.9 2239.9,1816.5 2240.2,1812.4 2240.6,1807.8 2240.9,1811.9 2241.2,1807.2 2241.6,1812.2 2241.9,1802.8 2242.2,1801.5 2242.5,1799.4 2242.9,1809.7 2243.2,1807.9 2243.5,1797.5 2243.9,1807.5 2244.2,1799.4 2244.5,1806.5 2244.9,1799.5 2245.2,1807.4 2245.5,1803.7 2245.8,1802.2 2246.2,1805.0 2246.5,1806.8 2246.8,1803.3 2247.2,1800.9 2247.5,1815.9 2247.8,1807.3 2248.2,1799.3 2248.5,1798.2 2248.8,1795.5 2249.1,1807.5 2249.5,1817.3 2249.8,1798.7 2250.1,1805.3 2250.5,1817.1 2250.8,1814.7 2251.1,1811.4 2251.5,1811.6 2251.8,1816.8 2252.1,1819.0 2252.4,1814.5 2252.8,1806.8 2253.1,1802.5 2253.4,1801.5 2253.8,1796.2 2254.1,1814.7 2254.4,1803.3 2254.8,1805.2 2255.1,1804.7 2255.4,1814.5 2255.7,1800.0 2256.1,1809.6 2256.4,1806.4 2256.7,1805.1 2257.1,1796.0 2257.4,1811.4 2257.7,1802.7 2258.1,1806.1 2258.4,1811.2 2258.7,1810.3 2259.0,1815.9 2259.4,1805.1 2259.7,1808.1 2260.0,1806.9 2260.4,1805.9 2260.7,1808.1 2261.0,1800.6 2261.4,1809.0 2261.7,1810.7 2262.0,1796.2 2262.3,1803.2 2262.7,1809.2 2263.0,1800.0 2263.3,1798.4 2263.7,1801.1 2264.0,1803.4 2264.3,1800.8 2264.7,1802.4 2265.0,1792.0 2265.3,1812.0 2265.6,1808.9 2266.0,1803.2 2266.3,1818.1 2266.6,1814.8 2267.0,1820.7 2267.3,1806.1 2267.6,1820.9 2268.0,1811.4 2268.3,1800.4 2268.6,1816.3 2268.9,1809.3 2269.3,1804.1 2269.6,1805.4 2269.9,1798.1 2270.3,1811.2 2270.6,1807.1 2270.9,1809.7 2271.3,1816.8 2271.6,1807.6 2271.9,1806.2 2272.2,1803.8 2272.6,1811.2 2272.9,1816.2 2273.2,1808.3 2273.6,1806.9 2273.9,1816.9 2274.2,1811.3 2274.6,1813.1 2274.9,1823.3 2275.2,1807.8 2275.5,1813.9 2275.9,1803.1 2276.2,1809.9 2276.5,1815.2 2276.9,1816.9 2277.2,1805.5 2277.5,1813.3 2277.9,1812.7 2278.2,1806.3 2278.5,1820.7 2278.8,1805.8 2279.2,1801.9 2279.5,1806.8 2279.8,1797.0 2280.2,1814.7 2280.5,1815.7 2280.8,1809.4 2281.2,1815.2 2281.5,1814.4 2281.8,1823.7 2282.1,1810.0 2282.5,1805.4 2282.8,1800.4 2283.1,1808.8 2283.5,1799.3 2283.8,1803.3 2284.1,1806.4 2284.5,1803.2 2284.8,1800.9 2285.1,1812.2 2285.4,1806.4 2285.8,1807.9 2286.1,1814.2 2286.4,1802.0 2286.8,1807.4 2287.1,1826.1 2287.4,1810.8 2287.8,1806.0 2288.1,1810.1 2288.4,1808.3 2288.7,1807.2 2289.1,1809.9 2289.4,1814.2 2289.7,1814.8 2290.1,1814.9 2290.4,1803.2 2290.7,1805.3 2291.1,1818.2 2291.4,1811.2 2291.7,1817.8 2292.0,1812.1 2292.4,1800.0 2292.7,1809.1 2293.0,1803.2 2293.4,1811.4 2293.7,1815.9 2294.0,1820.9 2294.4,1808.9 2294.7,1811.5 2295.0,1810.2 2295.3,1815.7 2295.7,1796.6 2296.0,1806.4 2296.3,1808.3 2296.7,1810.1 2297.0,1800.7 2297.3,1810.2 2297.7,1811.5 2298.0,1808.0 2298.3,1805.3 2298.6,1806.3 2299.0,1810.5 2299.3,1816.0 2299.6,1816.6 2300.0,1807.0 2300.3,1803.9 2300.6,1804.9 2301.0,1812.9 2301.3,1807.3 2301.6,1808.3 2301.9,1807.1 2302.3,1807.4 2302.6,1805.2 2302.9,1802.2 2303.3,1805.1 2303.6,1808.7 2303.9,1809.2 2304.3,1807.1 2304.6,1805.6 2304.9,1817.0 2305.2,1805.9 2305.6,1809.0 2305.9,1804.6 2306.2,1800.3 2306.6,1797.7 2306.9,1805.0 2307.2,1803.8 2307.6,1813.0 2307.9,1802.1 2308.2,1808.2 2308.5,1813.8 2308.9,1808.6 2309.2,1813.4 2309.5,1816.6 2309.9,1803.8 2310.2,1808.5 2310.5,1806.2 2310.9,1818.8 2311.2,1810.7 2311.5,1814.5 2311.8,1822.5 2312.2,1810.5 2312.5,1811.8 2312.8,1811.6 2313.2,1804.6 2313.5,1813.1 2313.8,1811.1 2314.2,1810.7 2314.5,1804.9 2314.8,1802.6 2315.1,1803.8 2315.5,1802.7 2315.8,1796.3 2316.1,1811.0 2316.5,1812.6 2316.8,1806.6 2317.1,1804.1 2317.5,1805.9 2317.8,1807.3 2318.1,1809.0 2318.4,1819.2 2318.8,1804.5 2319.1,1810.3 2319.4,1811.4 2319.8,1810.1 2320.1,1807.9 2320.4,1804.4 2320.8,1803.7 2321.1,1808.3 2321.4,1810.6 2321.7,1799.1 2322.1,1807.0 2322.4,1806.4 2322.7,1807.2 2323.1,1804.5 2323.4,1805.1 2323.7,1810.0 2324.1,1800.1 2324.4,1807.4 2324.7,1797.5 2325.0,1796.1 2325.4,1805.2 2325.7,1801.8 2326.0,1811.8 2326.4,1816.4 2326.7,1809.4 2327.0,1809.1 2327.4,1808.1 2327.7,1809.6 2328.0,1809.7 2328.3,1809.5 2328.7,1806.7 2329.0,1804.6 2329.3,1805.6 2329.7,1813.6 2330.0,1809.2 2330.3,1820.6 2330.7,1809.1 2331.0,1819.7 2331.3,1806.4 2331.6,1809.7 2332.0,1815.8 2332.3,1816.2 2332.6,1812.4 2333.0,1821.8 2333.3,1811.7 2333.6,1813.6 2334.0,1807.0 2334.3,1818.7 2334.6,1812.7 2334.9,1811.3 2335.3,1799.4 2335.6,1809.6 2335.9,1806.5" fill="none" stroke="#000" stroke-width="3.0" stroke-linejoin="round" />
<line x1="1322.80" y1="1020.25" x2="2336.10" y2="1020.25" stroke="#444" stroke-width="2.5" />
<line x1="1324.80" y1="1022.65" x2="2336.10" y2="1022.65" stroke="#ababab" stroke-width="2.3" />
<line x1="1321.75" y1="1019.00" x2="1321.75" y2="1851.50" stroke="#8a8a8a" stroke-width="2.5" />
<line x1="1324.50" y1="1019.00" x2="1324.50" y2="1851.50" stroke="#666" stroke-width="3.0" />
<line x1="2336.10" y1="1019.70" x2="2336.10" y2="1860.50" stroke="#555" stroke-width="3" />
<line x1="1320.80" y1="1843.50" x2="2336.10" y2="1843.50" stroke="#2e2e2e" stroke-width="3" />
<line x1="1414.92" y1="1845.00" x2="1414.92" y2="1860.50" stroke="#444" stroke-width="3" />
<line x1="1507.04" y1="1845.00" x2="1507.04" y2="1852.10" stroke="#444" stroke-width="3" />
<line x1="1599.15" y1="1845.00" x2="1599.15" y2="1860.50" stroke="#444" stroke-width="3" />
<line x1="1691.27" y1="1845.00" x2="1691.27" y2="1852.10" stroke="#444" stroke-width="3" />
<line x1="1783.39" y1="1845.00" x2="1783.39" y2="1860.50" stroke="#444" stroke-width="3" />
<line x1="1875.51" y1="1845.00" x2="1875.51" y2="1852.10" stroke="#444" stroke-width="3" />
<line x1="1967.63" y1="1845.00" x2="1967.63" y2="1860.50" stroke="#444" stroke-width="3" />
<line x1="2059.75" y1="1845.00" x2="2059.75" y2="1852.10" stroke="#444" stroke-width="3" />
<line x1="2151.86" y1="1845.00" x2="2151.86" y2="1860.50" stroke="#444" stroke-width="3" />
<line x1="2243.98" y1="1845.00" x2="2243.98" y2="1852.10" stroke="#444" stroke-width="3" />
<text transform="translate(1385.95,1900.01) scale(0.9020,1)" font-size="39.12" font-family="Liberation Sans, Arial, sans-serif" font-weight="bold" fill="#000">400</text>
<text transform="translate(1569.88,1900.01) scale(0.9020,1)" font-size="39.12" font-family="Liberation Sans, Arial, sans-serif" font-weight="bold" fill="#000">800</text>
<text transform="translate(1743.76,1900.01) scale(0.9020,1)" font-size="39.12" font-family="Liberation Sans, Arial, sans-serif" font-weight="bold" fill="#000">1200</text>
<text transform="translate(1928.00,1900.01) scale(0.9020,1)" font-size="39.12" font-family="Liberation Sans, Arial, sans-serif" font-weight="bold" fill="#000">1600</text>
<text transform="translate(2112.73,1900.01) scale(0.9020,1)" font-size="39.12" font-family="Liberation Sans, Arial, sans-serif" font-weight="bold" fill="#000">2000</text>
<text transform="translate(2296.96,1900.01) scale(0.9020,1)" font-size="39.12" font-family="Liberation Sans, Arial, sans-serif" font-weight="bold" fill="#000">2400</text>
<text transform="translate(1651.31,1957.05) scale(1.0246,1)" font-size="40.62" font-family="Liberation Sans, Arial, sans-serif" font-weight="bold" fill="#000">Raman shift (cm</text>
<text transform="translate(1995.17,1957.14) scale(0.8646,1)" font-size="40.19" font-family="Liberation Sans, Arial, sans-serif" font-weight="bold" fill="#000">)</text>
<text transform="translate(1972.54,1933.10) scale(0.8370,1)" font-size="26.45" font-family="Liberation Sans, Arial, sans-serif" font-weight="bold" fill="#000">-1</text>
<text transform="translate(1288.31,1615.03) rotate(-90) scale(0.9597,1)" font-size="47.05" font-family="Liberation Sans, Arial, sans-serif" font-weight="bold" fill="#000">Intensity (a.u.)</text>
<text transform="translate(2217.35,1103.87) scale(1.0704,1)" font-size="66.81" font-family="Liberation Serif, serif" font-weight="bold" fill="#000">(d)</text>
<text transform="translate(1836.76,1096.30) scale(0.9353,1)" font-size="45.35" font-family="Liberation Sans, Arial, sans-serif" font-weight="bold" fill="#000">D</text>
<text transform="translate(1949.93,1195.29) scale(1.0453,1)" font-size="41.38" font-family="Liberation Sans, Arial, sans-serif" font-weight="bold" fill="#000">G</text>
</svg>
</body></html>
